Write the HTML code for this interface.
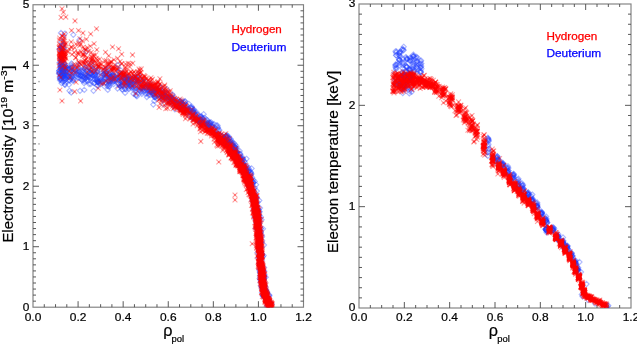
<!DOCTYPE html><html><head><meta charset="utf-8"><style>html,body{margin:0;padding:0;background:#fff;overflow:hidden}text{-webkit-font-smoothing:antialiased}svg{will-change:transform}svg{display:block}</style></head><body><svg width="637" height="344" viewBox="0 0 637 344">
<rect width="100%" height="100%" fill="#fff"/>
<clipPath id="cl"><rect x="33.0" y="4.75" width="270.5" height="302.45"/></clipPath>
<clipPath id="cr"><rect x="359.0" y="4.0" width="272.0" height="304.0"/></clipPath>
<defs><g id="mx"><path d="M-2.4 -2.4l4.8 4.8m0 -4.8l-4.8 4.8" fill="none" stroke="#ff0000" stroke-width="1.1" stroke-opacity="0.38"/><rect x="-0.8" y="-0.8" width="1.6" height="1.6" fill="#ff0000" fill-opacity="0.45"/></g><path id="md" d="M0 -2.6l2.6 2.6-2.6 2.6-2.6-2.6z" fill="none" stroke="#1e3cff" stroke-width="1.1" stroke-opacity="0.36"/></defs>
<rect x="33.0" y="4.75" width="270.50" height="302.45" fill="none" stroke="#808080" stroke-width="1.15"/>
<path d="M44.27 307.20v-3M44.27 4.75v3M55.54 307.20v-3M55.54 4.75v3M66.81 307.20v-3M66.81 4.75v3M78.08 307.20v-6M78.08 4.75v6M89.35 307.20v-3M89.35 4.75v3M100.62 307.20v-3M100.62 4.75v3M111.90 307.20v-3M111.90 4.75v3M123.17 307.20v-6M123.17 4.75v6M134.44 307.20v-3M134.44 4.75v3M145.71 307.20v-3M145.71 4.75v3M156.98 307.20v-3M156.98 4.75v3M168.25 307.20v-6M168.25 4.75v6M179.52 307.20v-3M179.52 4.75v3M190.79 307.20v-3M190.79 4.75v3M202.06 307.20v-3M202.06 4.75v3M213.33 307.20v-6M213.33 4.75v6M224.60 307.20v-3M224.60 4.75v3M235.88 307.20v-3M235.88 4.75v3M247.15 307.20v-3M247.15 4.75v3M258.42 307.20v-6M258.42 4.75v6M269.69 307.20v-3M269.69 4.75v3M280.96 307.20v-3M280.96 4.75v3M292.23 307.20v-3M292.23 4.75v3M33.00 301.15h3M303.50 301.15h-3M33.00 295.10h3M303.50 295.10h-3M33.00 289.05h3M303.50 289.05h-3M33.00 283.00h3M303.50 283.00h-3M33.00 276.95h3M303.50 276.95h-3M33.00 270.91h3M303.50 270.91h-3M33.00 264.86h3M303.50 264.86h-3M33.00 258.81h3M303.50 258.81h-3M33.00 252.76h3M303.50 252.76h-3M33.00 246.71h6M303.50 246.71h-6M33.00 240.66h3M303.50 240.66h-3M33.00 234.61h3M303.50 234.61h-3M33.00 228.56h3M303.50 228.56h-3M33.00 222.51h3M303.50 222.51h-3M33.00 216.46h3M303.50 216.46h-3M33.00 210.42h3M303.50 210.42h-3M33.00 204.37h3M303.50 204.37h-3M33.00 198.32h3M303.50 198.32h-3M33.00 192.27h3M303.50 192.27h-3M33.00 186.22h6M303.50 186.22h-6M33.00 180.17h3M303.50 180.17h-3M33.00 174.12h3M303.50 174.12h-3M33.00 168.07h3M303.50 168.07h-3M33.00 162.02h3M303.50 162.02h-3M33.00 155.97h3M303.50 155.97h-3M33.00 149.93h3M303.50 149.93h-3M33.00 143.88h3M303.50 143.88h-3M33.00 137.83h3M303.50 137.83h-3M33.00 131.78h3M303.50 131.78h-3M33.00 125.73h6M303.50 125.73h-6M33.00 119.68h3M303.50 119.68h-3M33.00 113.63h3M303.50 113.63h-3M33.00 107.58h3M303.50 107.58h-3M33.00 101.53h3M303.50 101.53h-3M33.00 95.48h3M303.50 95.48h-3M33.00 89.44h3M303.50 89.44h-3M33.00 83.39h3M303.50 83.39h-3M33.00 77.34h3M303.50 77.34h-3M33.00 71.29h3M303.50 71.29h-3M33.00 65.24h6M303.50 65.24h-6M33.00 59.19h3M303.50 59.19h-3M33.00 53.14h3M303.50 53.14h-3M33.00 47.09h3M303.50 47.09h-3M33.00 41.04h3M303.50 41.04h-3M33.00 35.00h3M303.50 35.00h-3M33.00 28.95h3M303.50 28.95h-3M33.00 22.90h3M303.50 22.90h-3M33.00 16.85h3M303.50 16.85h-3M33.00 10.80h3M303.50 10.80h-3" stroke="#505050" stroke-width="0.95" fill="none"/>
<rect x="359.0" y="4.0" width="272.00" height="304.00" fill="none" stroke="#808080" stroke-width="1.15"/>
<path d="M370.33 308.00v-3M370.33 4.00v3M381.67 308.00v-3M381.67 4.00v3M393.00 308.00v-3M393.00 4.00v3M404.33 308.00v-6M404.33 4.00v6M415.67 308.00v-3M415.67 4.00v3M427.00 308.00v-3M427.00 4.00v3M438.33 308.00v-3M438.33 4.00v3M449.67 308.00v-6M449.67 4.00v6M461.00 308.00v-3M461.00 4.00v3M472.33 308.00v-3M472.33 4.00v3M483.67 308.00v-3M483.67 4.00v3M495.00 308.00v-6M495.00 4.00v6M506.33 308.00v-3M506.33 4.00v3M517.67 308.00v-3M517.67 4.00v3M529.00 308.00v-3M529.00 4.00v3M540.33 308.00v-6M540.33 4.00v6M551.67 308.00v-3M551.67 4.00v3M563.00 308.00v-3M563.00 4.00v3M574.33 308.00v-3M574.33 4.00v3M585.67 308.00v-6M585.67 4.00v6M597.00 308.00v-3M597.00 4.00v3M608.33 308.00v-3M608.33 4.00v3M619.67 308.00v-3M619.67 4.00v3M359.00 297.87h3M631.00 297.87h-3M359.00 287.73h3M631.00 287.73h-3M359.00 277.60h3M631.00 277.60h-3M359.00 267.47h3M631.00 267.47h-3M359.00 257.33h3M631.00 257.33h-3M359.00 247.20h3M631.00 247.20h-3M359.00 237.07h3M631.00 237.07h-3M359.00 226.93h3M631.00 226.93h-3M359.00 216.80h3M631.00 216.80h-3M359.00 206.67h6M631.00 206.67h-6M359.00 196.53h3M631.00 196.53h-3M359.00 186.40h3M631.00 186.40h-3M359.00 176.27h3M631.00 176.27h-3M359.00 166.13h3M631.00 166.13h-3M359.00 156.00h3M631.00 156.00h-3M359.00 145.87h3M631.00 145.87h-3M359.00 135.73h3M631.00 135.73h-3M359.00 125.60h3M631.00 125.60h-3M359.00 115.47h3M631.00 115.47h-3M359.00 105.33h6M631.00 105.33h-6M359.00 95.20h3M631.00 95.20h-3M359.00 85.07h3M631.00 85.07h-3M359.00 74.93h3M631.00 74.93h-3M359.00 64.80h3M631.00 64.80h-3M359.00 54.67h3M631.00 54.67h-3M359.00 44.53h3M631.00 44.53h-3M359.00 34.40h3M631.00 34.40h-3M359.00 24.27h3M631.00 24.27h-3M359.00 14.13h3M631.00 14.13h-3" stroke="#505050" stroke-width="0.95" fill="none"/>
<g clip-path="url(#cl)"><g><use href="#md" x="264.5" y="282.6"/><use href="#md" x="255.8" y="211.3"/><use href="#md" x="265.6" y="289.9"/><use href="#md" x="262.1" y="254.3"/><use href="#md" x="263.1" y="271.3"/><use href="#md" x="264.1" y="294.6"/><use href="#md" x="248.1" y="176.6"/><use href="#md" x="261.7" y="287.1"/><use href="#md" x="255.7" y="228.3"/><use href="#md" x="261.7" y="254.2"/><use href="#md" x="249.0" y="185.2"/><use href="#md" x="264.2" y="276.5"/><use href="#md" x="261.9" y="269.8"/><use href="#md" x="265.0" y="288.8"/><use href="#md" x="254.0" y="191.1"/><use href="#md" x="261.1" y="263.1"/><use href="#md" x="263.9" y="295.9"/><use href="#md" x="260.0" y="258.1"/><use href="#md" x="262.1" y="236.8"/><use href="#md" x="249.8" y="180.4"/><use href="#md" x="262.3" y="288.5"/><use href="#md" x="247.9" y="176.0"/><use href="#md" x="249.6" y="177.7"/><use href="#md" x="259.5" y="221.2"/><use href="#md" x="259.6" y="219.3"/><use href="#md" x="259.6" y="247.6"/><use href="#md" x="263.0" y="295.5"/><use href="#md" x="255.9" y="210.0"/><use href="#md" x="267.4" y="303.3"/><use href="#md" x="260.9" y="232.1"/><use href="#md" x="266.2" y="290.2"/><use href="#md" x="254.1" y="210.8"/><use href="#md" x="250.3" y="178.4"/><use href="#md" x="269.5" y="295.2"/><use href="#md" x="264.5" y="296.1"/><use href="#md" x="271.8" y="304.0"/><use href="#md" x="255.7" y="198.7"/><use href="#md" x="258.6" y="234.1"/><use href="#md" x="259.2" y="255.7"/><use href="#md" x="259.5" y="233.4"/><use href="#md" x="264.1" y="267.4"/><use href="#md" x="260.5" y="282.5"/><use href="#md" x="256.1" y="196.0"/><use href="#md" x="261.1" y="242.3"/><use href="#md" x="264.8" y="285.3"/><use href="#md" x="268.0" y="297.4"/><use href="#md" x="269.2" y="303.6"/><use href="#md" x="255.5" y="202.0"/><use href="#md" x="256.5" y="196.7"/><use href="#md" x="259.3" y="263.5"/><use href="#md" x="256.7" y="213.9"/><use href="#md" x="257.9" y="234.8"/><use href="#md" x="254.8" y="192.7"/><use href="#md" x="263.0" y="228.8"/><use href="#md" x="256.8" y="191.1"/><use href="#md" x="270.2" y="302.8"/><use href="#md" x="262.8" y="295.9"/><use href="#md" x="247.8" y="177.9"/><use href="#md" x="260.6" y="274.3"/><use href="#md" x="259.8" y="237.5"/><use href="#md" x="250.9" y="183.3"/><use href="#md" x="252.3" y="189.7"/><use href="#md" x="259.0" y="240.2"/><use href="#md" x="260.0" y="208.0"/><use href="#md" x="267.0" y="294.2"/><use href="#md" x="260.4" y="252.3"/><use href="#md" x="259.2" y="218.1"/><use href="#md" x="259.1" y="242.2"/><use href="#md" x="263.7" y="284.5"/><use href="#md" x="259.8" y="211.7"/><use href="#md" x="252.2" y="177.5"/><use href="#md" x="270.3" y="302.4"/><use href="#md" x="260.3" y="252.4"/><use href="#md" x="259.1" y="237.1"/><use href="#md" x="262.4" y="279.1"/><use href="#md" x="264.0" y="245.0"/><use href="#md" x="265.4" y="291.0"/><use href="#md" x="256.1" y="203.0"/><use href="#md" x="257.6" y="202.0"/><use href="#md" x="263.9" y="296.7"/><use href="#md" x="261.6" y="277.9"/><use href="#md" x="259.6" y="278.4"/><use href="#md" x="258.6" y="212.1"/><use href="#md" x="260.0" y="251.1"/><use href="#md" x="268.3" y="299.8"/><use href="#md" x="248.7" y="180.3"/><use href="#md" x="261.6" y="219.8"/><use href="#md" x="264.4" y="274.6"/><use href="#md" x="260.9" y="286.0"/><use href="#md" x="264.4" y="271.2"/><use href="#md" x="258.5" y="244.3"/><use href="#md" x="260.3" y="266.5"/><use href="#md" x="260.0" y="240.5"/><use href="#md" x="246.7" y="176.7"/><use href="#md" x="263.1" y="279.7"/><use href="#md" x="256.8" y="223.9"/><use href="#md" x="260.0" y="233.4"/><use href="#md" x="255.9" y="206.2"/><use href="#md" x="259.6" y="223.8"/><use href="#md" x="264.1" y="277.8"/><use href="#md" x="256.7" y="206.2"/><use href="#md" x="262.1" y="289.5"/><use href="#md" x="264.6" y="296.1"/><use href="#md" x="255.4" y="219.5"/><use href="#md" x="265.5" y="289.8"/><use href="#md" x="260.2" y="272.5"/><use href="#md" x="263.8" y="278.1"/><use href="#md" x="261.3" y="255.1"/><use href="#md" x="258.5" y="231.3"/><use href="#md" x="261.3" y="265.7"/><use href="#md" x="260.7" y="263.3"/><use href="#md" x="253.1" y="182.6"/><use href="#md" x="266.9" y="306.1"/><use href="#md" x="259.9" y="236.2"/><use href="#md" x="252.1" y="200.9"/><use href="#md" x="251.6" y="186.9"/><use href="#md" x="266.5" y="296.2"/><use href="#md" x="261.6" y="272.7"/><use href="#md" x="268.7" y="300.7"/><use href="#md" x="247.4" y="177.9"/><use href="#md" x="263.3" y="295.7"/><use href="#md" x="259.2" y="238.7"/><use href="#md" x="260.5" y="262.1"/><use href="#md" x="264.5" y="290.0"/><use href="#md" x="261.9" y="260.1"/><use href="#md" x="260.7" y="228.6"/><use href="#md" x="256.5" y="228.5"/><use href="#md" x="254.8" y="181.5"/><use href="#md" x="253.7" y="188.6"/><use href="#md" x="263.9" y="276.4"/><use href="#md" x="258.5" y="229.2"/><use href="#md" x="262.7" y="270.7"/><use href="#md" x="268.9" y="294.9"/><use href="#md" x="247.3" y="176.3"/><use href="#md" x="259.8" y="230.0"/><use href="#md" x="261.9" y="282.0"/><use href="#md" x="259.5" y="270.8"/><use href="#md" x="261.8" y="235.0"/><use href="#md" x="261.6" y="281.2"/><use href="#md" x="260.1" y="279.5"/><use href="#md" x="246.8" y="175.6"/><use href="#md" x="255.3" y="199.0"/><use href="#md" x="250.6" y="182.3"/><use href="#md" x="260.2" y="259.0"/><use href="#md" x="259.7" y="249.0"/><use href="#md" x="253.2" y="179.8"/><use href="#md" x="257.4" y="252.8"/><use href="#md" x="255.4" y="202.9"/><use href="#md" x="261.0" y="246.4"/><use href="#md" x="252.9" y="181.8"/><use href="#md" x="255.5" y="200.9"/><use href="#md" x="263.3" y="287.6"/><use href="#md" x="258.1" y="258.1"/><use href="#md" x="260.8" y="269.2"/><use href="#md" x="261.3" y="255.7"/><use href="#md" x="259.3" y="200.6"/><use href="#md" x="264.5" y="286.2"/><use href="#md" x="261.9" y="292.8"/><use href="#md" x="257.2" y="209.1"/><use href="#md" x="258.5" y="209.3"/><use href="#md" x="258.5" y="224.6"/><use href="#md" x="261.7" y="255.5"/><use href="#md" x="260.2" y="247.0"/><use href="#md" x="259.2" y="269.0"/><use href="#md" x="263.9" y="280.2"/><use href="#md" x="249.2" y="187.6"/><use href="#md" x="263.5" y="279.3"/><use href="#md" x="259.4" y="252.6"/><use href="#md" x="259.9" y="239.5"/><use href="#md" x="266.8" y="292.2"/><use href="#md" x="254.8" y="187.7"/><use href="#md" x="265.8" y="277.2"/><use href="#md" x="259.8" y="264.7"/><use href="#md" x="269.0" y="296.3"/><use href="#md" x="254.4" y="198.8"/><use href="#md" x="257.3" y="214.6"/><use href="#md" x="254.3" y="217.0"/><use href="#md" x="259.2" y="249.4"/><use href="#md" x="263.1" y="277.7"/><use href="#md" x="261.1" y="280.3"/><use href="#md" x="263.0" y="282.0"/><use href="#md" x="257.4" y="224.7"/><use href="#md" x="258.0" y="235.9"/><use href="#md" x="267.2" y="292.1"/><use href="#md" x="257.8" y="209.1"/><use href="#md" x="259.1" y="216.1"/><use href="#md" x="265.6" y="287.2"/><use href="#md" x="264.9" y="290.9"/><use href="#md" x="255.1" y="197.6"/><use href="#md" x="248.3" y="180.3"/><use href="#md" x="256.2" y="222.7"/><use href="#md" x="253.5" y="209.1"/><use href="#md" x="260.9" y="216.9"/><use href="#md" x="248.7" y="183.3"/><use href="#md" x="260.2" y="242.0"/><use href="#md" x="260.7" y="251.7"/><use href="#md" x="261.9" y="286.9"/><use href="#md" x="256.1" y="184.7"/><use href="#md" x="265.1" y="293.6"/><use href="#md" x="267.7" y="300.9"/><use href="#md" x="259.9" y="275.9"/><use href="#md" x="252.0" y="186.8"/><use href="#md" x="259.3" y="254.7"/><use href="#md" x="250.1" y="177.7"/><use href="#md" x="256.9" y="197.9"/><use href="#md" x="261.1" y="252.0"/><use href="#md" x="253.0" y="199.5"/><use href="#md" x="260.5" y="256.7"/><use href="#md" x="258.6" y="243.5"/><use href="#md" x="259.5" y="257.7"/><use href="#md" x="248.0" y="185.3"/><use href="#md" x="262.9" y="256.7"/><use href="#md" x="262.5" y="285.9"/><use href="#md" x="258.7" y="247.5"/><use href="#md" x="252.5" y="197.3"/><use href="#md" x="260.8" y="232.5"/><use href="#md" x="255.7" y="203.1"/><use href="#md" x="259.9" y="272.4"/><use href="#md" x="265.0" y="297.6"/><use href="#md" x="264.5" y="286.5"/><use href="#md" x="269.4" y="303.0"/><use href="#md" x="264.2" y="275.2"/><use href="#md" x="259.1" y="223.3"/><use href="#md" x="256.3" y="206.1"/><use href="#md" x="254.1" y="197.0"/><use href="#md" x="264.1" y="283.7"/><use href="#md" x="260.9" y="228.6"/><use href="#md" x="258.9" y="250.5"/><use href="#md" x="254.5" y="199.0"/><use href="#md" x="261.7" y="262.8"/><use href="#md" x="254.5" y="204.5"/><use href="#md" x="255.6" y="204.4"/><use href="#md" x="252.7" y="183.9"/><use href="#md" x="258.5" y="210.0"/><use href="#md" x="263.3" y="280.3"/><use href="#md" x="259.3" y="215.0"/><use href="#md" x="261.4" y="275.3"/><use href="#md" x="251.3" y="180.8"/><use href="#md" x="262.2" y="240.8"/><use href="#md" x="259.6" y="233.7"/><use href="#md" x="249.7" y="175.9"/><use href="#md" x="252.3" y="182.8"/><use href="#md" x="263.8" y="278.4"/><use href="#md" x="268.4" y="306.7"/><use href="#md" x="268.9" y="305.8"/><use href="#md" x="265.6" y="294.9"/><use href="#md" x="248.2" y="177.1"/><use href="#md" x="258.9" y="212.1"/><use href="#md" x="256.3" y="213.2"/><use href="#md" x="248.3" y="178.8"/><use href="#md" x="250.8" y="179.1"/><use href="#md" x="257.3" y="214.4"/><use href="#md" x="262.2" y="273.8"/><use href="#md" x="255.1" y="206.5"/><use href="#md" x="263.5" y="276.5"/><use href="#md" x="267.7" y="305.1"/><use href="#md" x="263.2" y="270.3"/><use href="#md" x="263.7" y="255.4"/><use href="#md" x="252.8" y="197.5"/><use href="#md" x="251.7" y="195.6"/><use href="#md" x="262.8" y="272.9"/><use href="#md" x="258.8" y="249.1"/><use href="#md" x="253.4" y="182.4"/><use href="#md" x="260.0" y="263.0"/><use href="#md" x="264.8" y="291.3"/><use href="#md" x="249.8" y="186.9"/><use href="#md" x="109.3" y="84.5"/><use href="#md" x="212.4" y="126.1"/><use href="#md" x="194.1" y="112.3"/><use href="#md" x="71.8" y="70.6"/><use href="#md" x="125.6" y="89.1"/><use href="#md" x="143.0" y="83.3"/><use href="#md" x="246.1" y="172.9"/><use href="#md" x="197.7" y="114.4"/><use href="#md" x="200.5" y="118.8"/><use href="#md" x="244.0" y="166.9"/><use href="#md" x="158.0" y="89.7"/><use href="#md" x="77.9" y="77.6"/><use href="#md" x="130.4" y="86.8"/><use href="#md" x="63.1" y="75.1"/><use href="#md" x="97.6" y="70.7"/><use href="#md" x="212.4" y="127.3"/><use href="#md" x="110.5" y="79.2"/><use href="#md" x="63.4" y="68.0"/><use href="#md" x="65.5" y="79.4"/><use href="#md" x="111.6" y="77.1"/><use href="#md" x="141.5" y="88.1"/><use href="#md" x="210.2" y="128.1"/><use href="#md" x="136.2" y="80.6"/><use href="#md" x="79.4" y="40.0"/><use href="#md" x="177.5" y="105.8"/><use href="#md" x="88.9" y="77.0"/><use href="#md" x="217.9" y="128.2"/><use href="#md" x="80.9" y="75.3"/><use href="#md" x="186.6" y="105.3"/><use href="#md" x="63.3" y="37.4"/><use href="#md" x="84.9" y="81.7"/><use href="#md" x="65.0" y="73.4"/><use href="#md" x="59.1" y="71.3"/><use href="#md" x="153.4" y="91.1"/><use href="#md" x="249.6" y="170.6"/><use href="#md" x="126.9" y="79.3"/><use href="#md" x="65.4" y="71.5"/><use href="#md" x="103.4" y="74.1"/><use href="#md" x="128.2" y="88.8"/><use href="#md" x="65.4" y="75.8"/><use href="#md" x="231.7" y="144.2"/><use href="#md" x="174.9" y="109.3"/><use href="#md" x="101.3" y="75.4"/><use href="#md" x="130.6" y="84.5"/><use href="#md" x="203.7" y="114.2"/><use href="#md" x="94.2" y="79.0"/><use href="#md" x="241.7" y="162.0"/><use href="#md" x="111.8" y="75.9"/><use href="#md" x="201.9" y="121.8"/><use href="#md" x="78.0" y="68.2"/><use href="#md" x="170.2" y="99.1"/><use href="#md" x="243.1" y="164.3"/><use href="#md" x="123.1" y="73.1"/><use href="#md" x="134.7" y="79.2"/><use href="#md" x="146.0" y="81.3"/><use href="#md" x="157.3" y="96.1"/><use href="#md" x="67.8" y="76.0"/><use href="#md" x="226.1" y="136.0"/><use href="#md" x="60.0" y="78.2"/><use href="#md" x="224.5" y="141.4"/><use href="#md" x="74.6" y="72.6"/><use href="#md" x="242.5" y="163.3"/><use href="#md" x="126.0" y="76.4"/><use href="#md" x="63.4" y="70.6"/><use href="#md" x="89.1" y="84.0"/><use href="#md" x="139.2" y="87.9"/><use href="#md" x="232.5" y="145.5"/><use href="#md" x="105.3" y="77.6"/><use href="#md" x="246.0" y="173.3"/><use href="#md" x="61.2" y="69.5"/><use href="#md" x="230.9" y="150.0"/><use href="#md" x="203.2" y="118.7"/><use href="#md" x="196.6" y="118.4"/><use href="#md" x="84.1" y="79.8"/><use href="#md" x="120.1" y="77.9"/><use href="#md" x="64.1" y="68.3"/><use href="#md" x="141.1" y="87.8"/><use href="#md" x="218.9" y="136.8"/><use href="#md" x="137.7" y="73.9"/><use href="#md" x="188.7" y="103.8"/><use href="#md" x="62.0" y="74.2"/><use href="#md" x="142.6" y="85.5"/><use href="#md" x="193.4" y="111.0"/><use href="#md" x="195.0" y="119.2"/><use href="#md" x="170.7" y="101.7"/><use href="#md" x="105.1" y="78.7"/><use href="#md" x="83.9" y="68.4"/><use href="#md" x="209.6" y="125.0"/><use href="#md" x="222.3" y="135.7"/><use href="#md" x="60.8" y="68.3"/><use href="#md" x="60.6" y="69.0"/><use href="#md" x="73.5" y="80.4"/><use href="#md" x="212.0" y="126.5"/><use href="#md" x="166.9" y="93.4"/><use href="#md" x="108.7" y="80.6"/><use href="#md" x="87.8" y="75.5"/><use href="#md" x="136.5" y="95.4"/><use href="#md" x="71.5" y="63.4"/><use href="#md" x="175.6" y="102.6"/><use href="#md" x="121.9" y="84.9"/><use href="#md" x="71.5" y="76.7"/><use href="#md" x="194.7" y="113.9"/><use href="#md" x="128.0" y="87.0"/><use href="#md" x="63.9" y="74.6"/><use href="#md" x="85.5" y="70.2"/><use href="#md" x="103.4" y="74.3"/><use href="#md" x="191.4" y="116.8"/><use href="#md" x="64.1" y="73.5"/><use href="#md" x="151.2" y="83.9"/><use href="#md" x="227.0" y="136.6"/><use href="#md" x="62.1" y="65.7"/><use href="#md" x="97.9" y="82.1"/><use href="#md" x="66.5" y="73.6"/><use href="#md" x="231.0" y="142.0"/><use href="#md" x="66.1" y="76.0"/><use href="#md" x="206.8" y="121.9"/><use href="#md" x="64.1" y="63.5"/><use href="#md" x="110.5" y="77.2"/><use href="#md" x="172.4" y="104.9"/><use href="#md" x="137.9" y="80.3"/><use href="#md" x="91.5" y="64.8"/><use href="#md" x="243.8" y="167.1"/><use href="#md" x="66.2" y="67.2"/><use href="#md" x="87.0" y="70.4"/><use href="#md" x="62.0" y="67.4"/><use href="#md" x="199.8" y="122.9"/><use href="#md" x="225.9" y="141.1"/><use href="#md" x="139.5" y="78.7"/><use href="#md" x="150.4" y="88.1"/><use href="#md" x="122.2" y="89.6"/><use href="#md" x="207.6" y="120.3"/><use href="#md" x="106.6" y="69.0"/><use href="#md" x="105.2" y="78.2"/><use href="#md" x="120.5" y="69.9"/><use href="#md" x="150.0" y="95.0"/><use href="#md" x="69.7" y="77.1"/><use href="#md" x="161.4" y="93.2"/><use href="#md" x="157.2" y="98.4"/><use href="#md" x="174.8" y="103.8"/><use href="#md" x="84.9" y="74.5"/><use href="#md" x="184.4" y="103.5"/><use href="#md" x="187.6" y="108.4"/><use href="#md" x="206.1" y="119.3"/><use href="#md" x="78.9" y="77.9"/><use href="#md" x="163.7" y="104.4"/><use href="#md" x="192.4" y="111.2"/><use href="#md" x="86.4" y="75.8"/><use href="#md" x="243.5" y="166.3"/><use href="#md" x="248.2" y="171.3"/><use href="#md" x="189.2" y="111.8"/><use href="#md" x="151.6" y="91.7"/><use href="#md" x="120.3" y="75.8"/><use href="#md" x="90.7" y="84.0"/><use href="#md" x="68.4" y="68.9"/><use href="#md" x="62.2" y="70.8"/><use href="#md" x="84.8" y="68.9"/><use href="#md" x="105.6" y="82.6"/><use href="#md" x="154.3" y="94.9"/><use href="#md" x="241.4" y="160.2"/><use href="#md" x="163.3" y="97.5"/><use href="#md" x="140.2" y="87.3"/><use href="#md" x="110.4" y="81.0"/><use href="#md" x="219.3" y="130.0"/><use href="#md" x="112.5" y="81.1"/><use href="#md" x="217.6" y="125.5"/><use href="#md" x="139.2" y="75.7"/><use href="#md" x="94.6" y="75.2"/><use href="#md" x="87.9" y="71.8"/><use href="#md" x="120.0" y="86.0"/><use href="#md" x="60.7" y="62.4"/><use href="#md" x="173.5" y="101.7"/><use href="#md" x="210.0" y="122.4"/><use href="#md" x="226.8" y="137.0"/><use href="#md" x="63.1" y="76.3"/><use href="#md" x="240.1" y="153.6"/><use href="#md" x="64.7" y="84.6"/><use href="#md" x="89.4" y="73.5"/><use href="#md" x="251.3" y="174.2"/><use href="#md" x="63.2" y="72.3"/><use href="#md" x="244.5" y="169.7"/><use href="#md" x="157.0" y="95.9"/><use href="#md" x="250.6" y="172.1"/><use href="#md" x="152.5" y="93.0"/><use href="#md" x="135.1" y="85.5"/><use href="#md" x="94.3" y="75.9"/><use href="#md" x="130.5" y="79.4"/><use href="#md" x="72.7" y="73.5"/><use href="#md" x="178.5" y="107.1"/><use href="#md" x="97.3" y="78.8"/><use href="#md" x="149.8" y="85.8"/><use href="#md" x="126.7" y="86.5"/><use href="#md" x="201.1" y="116.0"/><use href="#md" x="171.1" y="97.0"/><use href="#md" x="65.1" y="74.4"/><use href="#md" x="232.0" y="149.5"/><use href="#md" x="66.1" y="70.1"/><use href="#md" x="122.5" y="86.0"/><use href="#md" x="62.7" y="70.3"/><use href="#md" x="102.4" y="82.0"/><use href="#md" x="104.1" y="79.4"/><use href="#md" x="66.5" y="77.2"/><use href="#md" x="242.6" y="165.2"/><use href="#md" x="150.3" y="91.5"/><use href="#md" x="104.2" y="69.6"/><use href="#md" x="185.7" y="107.2"/><use href="#md" x="196.3" y="115.6"/><use href="#md" x="146.4" y="88.1"/><use href="#md" x="147.8" y="90.3"/><use href="#md" x="214.0" y="124.0"/><use href="#md" x="111.9" y="75.5"/><use href="#md" x="199.5" y="120.2"/><use href="#md" x="63.4" y="73.3"/><use href="#md" x="110.6" y="76.5"/><use href="#md" x="71.1" y="78.9"/><use href="#md" x="63.2" y="70.8"/><use href="#md" x="221.7" y="137.0"/><use href="#md" x="106.4" y="71.7"/><use href="#md" x="242.8" y="159.0"/><use href="#md" x="103.2" y="81.0"/><use href="#md" x="131.5" y="87.8"/><use href="#md" x="174.3" y="105.8"/><use href="#md" x="230.8" y="141.6"/><use href="#md" x="72.0" y="67.6"/><use href="#md" x="140.9" y="91.5"/><use href="#md" x="64.5" y="67.7"/><use href="#md" x="140.9" y="92.1"/><use href="#md" x="68.0" y="68.9"/><use href="#mx" x="180.5" y="107.2"/><use href="#mx" x="220.2" y="142.9"/><use href="#md" x="78.0" y="75.4"/><use href="#mx" x="195.9" y="121.9"/><use href="#mx" x="269.6" y="304.6"/><use href="#mx" x="250.4" y="191.2"/><use href="#mx" x="268.5" y="300.9"/><use href="#mx" x="259.2" y="219.1"/><use href="#mx" x="165.9" y="94.0"/><use href="#mx" x="194.9" y="118.5"/><use href="#mx" x="149.3" y="85.4"/><use href="#mx" x="234.8" y="153.2"/><use href="#mx" x="200.3" y="128.2"/><use href="#mx" x="254.0" y="200.2"/><use href="#mx" x="60.0" y="53.4"/><use href="#mx" x="213.4" y="131.4"/><use href="#md" x="108.3" y="81.2"/><use href="#mx" x="244.9" y="179.1"/><use href="#mx" x="254.0" y="210.9"/><use href="#mx" x="193.6" y="115.3"/><use href="#mx" x="256.4" y="209.6"/><use href="#md" x="91.1" y="73.3"/><use href="#mx" x="232.4" y="146.7"/><use href="#md" x="214.9" y="127.4"/><use href="#mx" x="141.5" y="86.2"/><use href="#mx" x="256.6" y="195.8"/><use href="#md" x="162.4" y="90.8"/><use href="#mx" x="259.1" y="209.7"/><use href="#mx" x="154.4" y="85.2"/><use href="#mx" x="250.5" y="175.9"/><use href="#mx" x="251.3" y="193.4"/><use href="#mx" x="269.8" y="300.5"/><use href="#mx" x="153.3" y="90.8"/><use href="#md" x="184.6" y="108.8"/><use href="#mx" x="250.7" y="188.0"/><use href="#md" x="81.0" y="78.9"/><use href="#mx" x="218.5" y="141.2"/><use href="#mx" x="163.1" y="86.8"/><use href="#md" x="246.5" y="158.8"/><use href="#mx" x="77.8" y="53.4"/><use href="#mx" x="62.0" y="49.8"/><use href="#mx" x="259.5" y="238.6"/><use href="#mx" x="177.1" y="101.4"/><use href="#md" x="91.5" y="69.9"/><use href="#mx" x="175.3" y="106.2"/><use href="#mx" x="243.0" y="175.5"/><use href="#mx" x="246.7" y="176.2"/><use href="#mx" x="244.2" y="169.4"/><use href="#mx" x="229.1" y="146.7"/><use href="#md" x="250.9" y="172.4"/><use href="#mx" x="137.3" y="81.2"/><use href="#mx" x="137.8" y="82.3"/><use href="#mx" x="235.3" y="154.3"/><use href="#mx" x="263.6" y="290.4"/><use href="#md" x="75.7" y="73.2"/><use href="#mx" x="258.0" y="219.1"/><use href="#mx" x="234.4" y="152.9"/><use href="#mx" x="256.9" y="221.8"/><use href="#mx" x="258.9" y="244.4"/><use href="#mx" x="264.6" y="291.5"/><use href="#mx" x="169.7" y="99.1"/><use href="#mx" x="267.1" y="299.9"/><use href="#md" x="231.3" y="144.4"/><use href="#mx" x="253.6" y="216.9"/><use href="#md" x="233.3" y="146.9"/><use href="#mx" x="262.1" y="277.1"/><use href="#mx" x="259.3" y="265.9"/><use href="#mx" x="261.4" y="263.0"/><use href="#mx" x="243.8" y="170.7"/><use href="#mx" x="261.5" y="276.5"/><use href="#md" x="98.1" y="81.2"/><use href="#md" x="202.1" y="118.6"/><use href="#mx" x="248.6" y="174.6"/><use href="#mx" x="259.4" y="255.8"/><use href="#mx" x="241.9" y="161.6"/><use href="#mx" x="71.4" y="46.8"/><use href="#mx" x="230.6" y="148.2"/><use href="#md" x="62.4" y="65.7"/><use href="#mx" x="193.4" y="119.2"/><use href="#md" x="156.6" y="94.3"/><use href="#mx" x="246.7" y="174.9"/><use href="#mx" x="84.2" y="49.1"/><use href="#mx" x="63.5" y="58.6"/><use href="#mx" x="264.8" y="287.1"/><use href="#mx" x="259.5" y="240.9"/><use href="#md" x="139.5" y="90.6"/><use href="#mx" x="254.7" y="202.1"/><use href="#mx" x="258.2" y="213.4"/><use href="#mx" x="259.8" y="245.9"/><use href="#mx" x="96.5" y="28.7"/><use href="#mx" x="59.9" y="62.2"/><use href="#mx" x="265.7" y="296.6"/><use href="#mx" x="263.6" y="296.6"/><use href="#mx" x="259.6" y="245.8"/><use href="#mx" x="267.5" y="299.6"/><use href="#md" x="213.2" y="128.8"/><use href="#mx" x="258.5" y="219.9"/><use href="#mx" x="149.3" y="91.8"/><use href="#mx" x="258.3" y="249.4"/><use href="#mx" x="257.7" y="227.9"/><use href="#md" x="197.8" y="117.4"/><use href="#mx" x="261.3" y="256.7"/><use href="#mx" x="257.9" y="224.8"/><use href="#mx" x="263.7" y="294.3"/><use href="#mx" x="63.7" y="56.1"/><use href="#mx" x="230.1" y="151.8"/><use href="#mx" x="205.2" y="123.9"/><use href="#mx" x="255.9" y="220.1"/><use href="#mx" x="228.0" y="149.5"/><use href="#mx" x="260.3" y="263.7"/><use href="#md" x="242.7" y="157.5"/><use href="#mx" x="269.0" y="299.6"/><use href="#mx" x="178.8" y="103.8"/><use href="#md" x="132.8" y="87.0"/><use href="#mx" x="258.0" y="223.1"/><use href="#mx" x="250.4" y="192.3"/><use href="#mx" x="250.2" y="194.2"/><use href="#mx" x="63.6" y="39.3"/><use href="#mx" x="262.2" y="267.5"/><use href="#mx" x="67.4" y="51.7"/><use href="#md" x="162.6" y="97.0"/><use href="#md" x="135.0" y="81.4"/><use href="#mx" x="258.1" y="234.0"/><use href="#mx" x="152.9" y="92.6"/><use href="#mx" x="225.7" y="144.8"/><use href="#mx" x="258.5" y="244.6"/><use href="#md" x="246.6" y="171.3"/><use href="#mx" x="268.1" y="298.5"/><use href="#md" x="190.9" y="110.7"/><use href="#mx" x="94.1" y="67.1"/><use href="#mx" x="260.6" y="250.2"/><use href="#md" x="211.1" y="122.3"/><use href="#mx" x="261.3" y="268.5"/><use href="#mx" x="256.4" y="226.5"/><use href="#md" x="153.6" y="93.3"/><use href="#mx" x="262.1" y="245.0"/><use href="#mx" x="88.4" y="64.1"/><use href="#mx" x="259.5" y="252.5"/><use href="#md" x="117.1" y="78.3"/><use href="#mx" x="212.3" y="129.3"/><use href="#mx" x="164.7" y="85.0"/><use href="#mx" x="63.0" y="58.4"/><use href="#md" x="199.8" y="116.6"/><use href="#md" x="127.7" y="81.9"/><use href="#md" x="110.3" y="81.7"/><use href="#mx" x="243.9" y="166.1"/><use href="#mx" x="258.0" y="215.2"/><use href="#mx" x="248.6" y="188.9"/><use href="#mx" x="244.7" y="172.0"/><use href="#mx" x="66.1" y="58.3"/><use href="#mx" x="268.1" y="298.5"/><use href="#mx" x="237.1" y="164.9"/><use href="#mx" x="242.8" y="169.9"/><use href="#md" x="107.8" y="89.9"/><use href="#md" x="192.9" y="111.1"/><use href="#mx" x="195.8" y="115.9"/><use href="#mx" x="82.5" y="40.9"/><use href="#mx" x="244.7" y="172.6"/><use href="#mx" x="263.7" y="283.6"/><use href="#mx" x="254.0" y="203.3"/><use href="#mx" x="257.1" y="240.0"/><use href="#mx" x="150.4" y="84.7"/><use href="#mx" x="243.7" y="178.8"/><use href="#mx" x="262.0" y="266.9"/><use href="#mx" x="249.0" y="182.1"/><use href="#md" x="121.2" y="81.3"/><use href="#md" x="237.5" y="156.0"/><use href="#mx" x="261.5" y="292.5"/><use href="#mx" x="123.6" y="74.4"/><use href="#mx" x="221.1" y="142.0"/><use href="#md" x="209.3" y="122.6"/><use href="#md" x="194.0" y="113.2"/><use href="#md" x="180.8" y="100.7"/><use href="#mx" x="254.2" y="203.5"/><use href="#mx" x="234.6" y="149.4"/><use href="#mx" x="232.9" y="147.1"/><use href="#mx" x="258.6" y="221.6"/><use href="#md" x="191.1" y="107.4"/><use href="#mx" x="224.1" y="135.4"/><use href="#md" x="185.3" y="110.4"/><use href="#mx" x="261.3" y="279.5"/><use href="#mx" x="258.8" y="258.8"/><use href="#mx" x="259.8" y="265.8"/><use href="#mx" x="254.8" y="193.9"/><use href="#mx" x="167.9" y="96.9"/><use href="#mx" x="218.4" y="133.8"/><use href="#mx" x="91.4" y="56.2"/><use href="#mx" x="212.4" y="133.0"/><use href="#mx" x="267.0" y="301.3"/><use href="#mx" x="60.3" y="48.4"/><use href="#mx" x="206.9" y="130.2"/><use href="#mx" x="255.3" y="216.2"/><use href="#md" x="236.2" y="150.7"/><use href="#mx" x="218.9" y="140.5"/><use href="#mx" x="257.7" y="229.2"/><use href="#mx" x="216.8" y="145.0"/><use href="#md" x="80.8" y="75.7"/><use href="#mx" x="249.1" y="182.1"/><use href="#mx" x="244.6" y="170.3"/><use href="#mx" x="243.9" y="170.7"/><use href="#mx" x="271.3" y="305.2"/><use href="#mx" x="257.4" y="216.6"/><use href="#mx" x="217.1" y="140.1"/><use href="#mx" x="263.5" y="279.3"/><use href="#mx" x="261.9" y="282.0"/><use href="#mx" x="235.0" y="153.7"/><use href="#mx" x="185.4" y="115.1"/><use href="#md" x="127.5" y="84.4"/><use href="#mx" x="258.4" y="244.8"/><use href="#mx" x="133.5" y="84.6"/><use href="#mx" x="260.9" y="252.9"/><use href="#mx" x="232.6" y="154.2"/><use href="#mx" x="241.5" y="168.1"/><use href="#mx" x="245.0" y="169.3"/><use href="#mx" x="62.8" y="55.7"/><use href="#md" x="109.5" y="74.5"/><use href="#mx" x="259.4" y="219.4"/><use href="#mx" x="164.4" y="93.6"/><use href="#mx" x="253.6" y="201.6"/><use href="#mx" x="242.9" y="169.1"/><use href="#mx" x="262.5" y="256.8"/><use href="#md" x="167.5" y="100.5"/><use href="#mx" x="142.5" y="77.8"/><use href="#md" x="109.2" y="77.1"/><use href="#mx" x="242.3" y="169.6"/><use href="#md" x="191.9" y="108.2"/><use href="#mx" x="239.0" y="164.5"/><use href="#mx" x="242.9" y="175.8"/><use href="#mx" x="222.7" y="141.9"/><use href="#md" x="64.9" y="33.6"/><use href="#md" x="187.7" y="111.4"/><use href="#md" x="174.4" y="104.4"/><use href="#mx" x="263.5" y="292.8"/><use href="#mx" x="264.5" y="286.4"/><use href="#mx" x="100.5" y="75.1"/><use href="#mx" x="230.0" y="151.9"/><use href="#mx" x="64.3" y="61.6"/><use href="#mx" x="252.4" y="195.0"/><use href="#md" x="106.2" y="75.6"/><use href="#mx" x="106.3" y="60.6"/><use href="#mx" x="260.2" y="250.8"/><use href="#mx" x="262.6" y="283.7"/><use href="#md" x="113.2" y="75.6"/><use href="#mx" x="228.8" y="154.8"/><use href="#md" x="63.8" y="69.0"/><use href="#mx" x="265.5" y="294.0"/><use href="#mx" x="231.8" y="145.6"/><use href="#md" x="91.4" y="77.6"/><use href="#mx" x="266.8" y="303.5"/><use href="#mx" x="59.7" y="53.1"/><use href="#mx" x="258.3" y="218.2"/><use href="#mx" x="259.7" y="254.3"/><use href="#mx" x="264.1" y="284.9"/><use href="#md" x="145.9" y="93.9"/><use href="#mx" x="234.8" y="151.1"/><use href="#md" x="82.5" y="80.6"/><use href="#mx" x="260.5" y="268.1"/><use href="#mx" x="245.2" y="184.0"/><use href="#md" x="237.0" y="152.1"/><use href="#mx" x="253.9" y="197.6"/><use href="#md" x="72.8" y="80.9"/><use href="#mx" x="257.6" y="236.7"/><use href="#mx" x="244.4" y="181.3"/><use href="#mx" x="239.3" y="163.0"/><use href="#mx" x="266.2" y="297.5"/><use href="#mx" x="270.6" y="304.3"/><use href="#mx" x="237.0" y="163.8"/><use href="#mx" x="262.1" y="243.9"/><use href="#mx" x="224.5" y="144.3"/><use href="#mx" x="96.2" y="69.6"/><use href="#md" x="88.6" y="76.1"/><use href="#mx" x="261.1" y="255.0"/><use href="#mx" x="99.2" y="63.2"/><use href="#mx" x="257.6" y="215.0"/><use href="#md" x="61.9" y="74.7"/><use href="#mx" x="260.4" y="263.8"/><use href="#mx" x="265.6" y="300.0"/><use href="#mx" x="150.1" y="87.6"/><use href="#mx" x="123.3" y="73.7"/><use href="#mx" x="265.0" y="291.9"/><use href="#mx" x="255.3" y="207.1"/><use href="#mx" x="262.4" y="276.7"/><use href="#md" x="125.1" y="78.5"/><use href="#mx" x="261.2" y="257.8"/><use href="#mx" x="113.3" y="78.3"/><use href="#mx" x="232.4" y="143.7"/><use href="#mx" x="260.4" y="273.3"/><use href="#mx" x="270.6" y="303.6"/><use href="#mx" x="262.5" y="278.3"/><use href="#mx" x="247.0" y="172.4"/><use href="#md" x="124.9" y="88.8"/><use href="#mx" x="266.8" y="302.9"/><use href="#mx" x="234.4" y="161.0"/><use href="#mx" x="261.7" y="253.7"/><use href="#mx" x="59.9" y="44.5"/><use href="#md" x="207.6" y="124.4"/><use href="#mx" x="263.4" y="269.6"/><use href="#md" x="142.1" y="87.9"/><use href="#mx" x="268.0" y="304.1"/><use href="#md" x="115.0" y="79.5"/><use href="#mx" x="193.2" y="117.1"/><use href="#mx" x="59.0" y="66.0"/><use href="#mx" x="248.9" y="188.8"/><use href="#md" x="180.2" y="104.6"/><use href="#md" x="96.6" y="79.5"/><use href="#mx" x="241.6" y="169.7"/><use href="#mx" x="254.6" y="198.9"/><use href="#md" x="122.2" y="81.7"/><use href="#md" x="204.4" y="117.8"/><use href="#mx" x="214.0" y="135.5"/><use href="#mx" x="266.8" y="299.1"/><use href="#mx" x="257.7" y="209.8"/><use href="#mx" x="268.3" y="304.0"/><use href="#mx" x="261.5" y="282.4"/><use href="#mx" x="61.8" y="41.5"/><use href="#mx" x="164.1" y="105.2"/><use href="#mx" x="223.2" y="144.5"/><use href="#mx" x="261.4" y="253.7"/><use href="#mx" x="106.7" y="67.1"/><use href="#mx" x="255.6" y="206.2"/><use href="#mx" x="182.6" y="108.5"/><use href="#mx" x="254.2" y="199.3"/><use href="#mx" x="151.2" y="88.4"/><use href="#mx" x="228.7" y="150.4"/><use href="#md" x="135.8" y="88.5"/><use href="#mx" x="265.8" y="300.7"/><use href="#mx" x="257.4" y="221.4"/><use href="#mx" x="128.3" y="82.6"/><use href="#mx" x="257.2" y="214.8"/><use href="#mx" x="193.1" y="123.9"/><use href="#mx" x="200.5" y="131.7"/><use href="#mx" x="262.6" y="281.2"/><use href="#mx" x="178.2" y="105.2"/><use href="#mx" x="253.4" y="211.4"/><use href="#mx" x="95.1" y="61.6"/><use href="#mx" x="253.4" y="198.1"/><use href="#md" x="90.4" y="73.6"/><use href="#mx" x="255.1" y="215.8"/><use href="#mx" x="162.7" y="92.5"/><use href="#mx" x="260.1" y="262.4"/><use href="#md" x="90.4" y="68.7"/><use href="#mx" x="128.7" y="74.1"/><use href="#mx" x="262.9" y="282.7"/><use href="#md" x="146.8" y="97.0"/><use href="#md" x="141.8" y="93.9"/><use href="#md" x="201.6" y="120.2"/><use href="#mx" x="255.2" y="211.4"/><use href="#md" x="59.5" y="73.9"/><use href="#mx" x="223.7" y="143.0"/><use href="#md" x="60.5" y="65.5"/><use href="#mx" x="257.0" y="199.5"/><use href="#mx" x="217.6" y="146.1"/><use href="#mx" x="262.7" y="267.1"/><use href="#mx" x="264.1" y="286.5"/><use href="#mx" x="260.0" y="255.3"/><use href="#mx" x="202.9" y="124.1"/><use href="#mx" x="259.4" y="247.2"/><use href="#md" x="158.0" y="85.1"/><use href="#mx" x="259.6" y="238.6"/><use href="#mx" x="258.5" y="237.4"/><use href="#md" x="108.5" y="81.3"/><use href="#mx" x="256.9" y="247.4"/><use href="#mx" x="170.1" y="97.4"/><use href="#mx" x="239.0" y="162.0"/><use href="#mx" x="218.7" y="140.2"/><use href="#mx" x="235.6" y="156.6"/><use href="#md" x="98.1" y="82.9"/><use href="#mx" x="261.0" y="286.0"/><use href="#mx" x="182.7" y="101.3"/><use href="#mx" x="74.5" y="65.9"/><use href="#mx" x="64.9" y="53.9"/><use href="#mx" x="268.7" y="305.4"/><use href="#mx" x="83.6" y="55.0"/><use href="#mx" x="265.9" y="300.8"/><use href="#md" x="209.1" y="125.3"/><use href="#mx" x="61.3" y="46.0"/><use href="#md" x="196.5" y="111.9"/><use href="#mx" x="262.8" y="275.2"/><use href="#mx" x="220.8" y="141.4"/><use href="#mx" x="256.9" y="211.4"/><use href="#mx" x="222.1" y="139.9"/><use href="#mx" x="130.1" y="63.9"/><use href="#mx" x="270.0" y="302.8"/><use href="#md" x="65.3" y="77.7"/><use href="#mx" x="258.2" y="213.8"/><use href="#mx" x="114.0" y="69.1"/><use href="#mx" x="157.7" y="82.4"/><use href="#mx" x="85.3" y="55.4"/><use href="#mx" x="144.3" y="85.4"/><use href="#mx" x="261.5" y="272.0"/><use href="#mx" x="259.5" y="222.0"/><use href="#mx" x="143.3" y="82.6"/><use href="#mx" x="229.9" y="150.7"/><use href="#mx" x="87.2" y="57.6"/><use href="#md" x="153.6" y="94.8"/><use href="#mx" x="262.0" y="246.2"/><use href="#mx" x="235.5" y="153.5"/><use href="#mx" x="262.5" y="283.3"/><use href="#mx" x="262.1" y="265.5"/><use href="#md" x="188.6" y="108.9"/><use href="#mx" x="119.2" y="73.5"/><use href="#mx" x="265.5" y="299.3"/><use href="#mx" x="181.2" y="101.5"/><use href="#mx" x="207.3" y="130.1"/><use href="#mx" x="207.4" y="126.8"/><use href="#mx" x="168.0" y="104.1"/><use href="#mx" x="249.1" y="191.3"/><use href="#mx" x="262.9" y="291.0"/><use href="#md" x="78.6" y="67.8"/><use href="#mx" x="200.6" y="119.5"/><use href="#mx" x="261.1" y="269.9"/><use href="#mx" x="159.1" y="107.4"/><use href="#mx" x="64.1" y="68.6"/><use href="#mx" x="264.6" y="282.5"/><use href="#mx" x="206.6" y="127.3"/><use href="#mx" x="142.2" y="78.6"/><use href="#mx" x="61.8" y="58.7"/><use href="#md" x="102.4" y="82.9"/><use href="#mx" x="147.1" y="83.6"/><use href="#mx" x="259.2" y="232.0"/><use href="#mx" x="203.3" y="120.5"/><use href="#mx" x="255.2" y="210.4"/><use href="#md" x="133.6" y="77.4"/><use href="#mx" x="173.7" y="100.6"/><use href="#mx" x="250.2" y="191.6"/><use href="#mx" x="252.0" y="194.5"/><use href="#mx" x="182.1" y="104.8"/><use href="#md" x="133.3" y="83.9"/><use href="#mx" x="255.1" y="201.5"/><use href="#mx" x="106.5" y="73.7"/><use href="#mx" x="83.0" y="53.8"/><use href="#mx" x="242.6" y="167.0"/><use href="#mx" x="261.6" y="257.0"/><use href="#mx" x="172.5" y="103.2"/><use href="#mx" x="96.8" y="49.7"/><use href="#md" x="231.7" y="141.3"/><use href="#mx" x="241.2" y="166.5"/><use href="#mx" x="188.1" y="110.4"/><use href="#mx" x="253.2" y="193.0"/><use href="#mx" x="131.1" y="82.1"/><use href="#md" x="102.1" y="81.6"/><use href="#mx" x="269.2" y="299.6"/><use href="#md" x="251.2" y="173.4"/><use href="#mx" x="227.4" y="145.6"/><use href="#mx" x="118.5" y="86.1"/><use href="#mx" x="259.7" y="243.9"/><use href="#mx" x="249.4" y="181.7"/><use href="#mx" x="174.3" y="98.2"/><use href="#mx" x="251.7" y="195.9"/><use href="#mx" x="104.4" y="71.7"/><use href="#mx" x="179.5" y="102.2"/><use href="#mx" x="237.8" y="161.7"/><use href="#md" x="161.7" y="91.3"/><use href="#mx" x="245.9" y="173.5"/><use href="#md" x="105.1" y="77.0"/><use href="#md" x="135.7" y="95.1"/><use href="#mx" x="185.3" y="113.6"/><use href="#md" x="61.1" y="75.7"/><use href="#mx" x="61.1" y="54.6"/><use href="#mx" x="184.4" y="107.3"/><use href="#mx" x="168.1" y="91.9"/><use href="#mx" x="79.9" y="38.7"/><use href="#mx" x="248.0" y="179.3"/><use href="#mx" x="252.8" y="201.4"/><use href="#mx" x="202.9" y="130.6"/><use href="#md" x="101.4" y="73.5"/><use href="#mx" x="239.7" y="165.8"/><use href="#mx" x="63.6" y="65.6"/><use href="#mx" x="248.3" y="184.4"/><use href="#md" x="160.6" y="92.3"/><use href="#mx" x="224.1" y="144.0"/><use href="#mx" x="241.9" y="170.1"/><use href="#mx" x="248.9" y="184.4"/><use href="#mx" x="205.5" y="124.9"/><use href="#mx" x="142.8" y="80.5"/><use href="#mx" x="142.4" y="84.9"/><use href="#mx" x="259.1" y="229.7"/><use href="#mx" x="244.3" y="175.6"/><use href="#md" x="63.7" y="75.8"/><use href="#mx" x="206.8" y="124.4"/><use href="#md" x="92.3" y="82.2"/><use href="#md" x="94.1" y="83.2"/><use href="#mx" x="233.1" y="154.5"/><use href="#mx" x="197.3" y="120.3"/><use href="#mx" x="161.3" y="87.0"/><use href="#mx" x="258.7" y="243.2"/><use href="#mx" x="232.0" y="147.8"/><use href="#md" x="122.1" y="80.7"/><use href="#md" x="105.5" y="73.0"/><use href="#mx" x="252.9" y="199.7"/><use href="#mx" x="257.5" y="214.6"/><use href="#mx" x="219.2" y="138.8"/><use href="#mx" x="265.5" y="299.6"/><use href="#md" x="61.0" y="33.0"/><use href="#mx" x="258.2" y="212.6"/><use href="#mx" x="229.9" y="152.5"/><use href="#mx" x="258.5" y="235.5"/><use href="#md" x="200.6" y="119.6"/><use href="#mx" x="261.4" y="281.8"/><use href="#mx" x="257.1" y="234.5"/><use href="#mx" x="150.4" y="86.1"/><use href="#mx" x="264.2" y="288.1"/><use href="#md" x="236.5" y="146.2"/><use href="#mx" x="253.4" y="193.7"/><use href="#md" x="72.3" y="74.9"/><use href="#mx" x="259.5" y="215.8"/><use href="#mx" x="221.4" y="139.2"/><use href="#mx" x="231.6" y="150.1"/><use href="#mx" x="218.7" y="134.6"/><use href="#mx" x="246.7" y="181.2"/><use href="#md" x="69.5" y="90.8"/><use href="#md" x="75.3" y="70.7"/><use href="#mx" x="254.6" y="207.1"/><use href="#mx" x="207.0" y="124.2"/><use href="#mx" x="249.8" y="181.9"/><use href="#mx" x="251.8" y="185.6"/><use href="#mx" x="228.8" y="142.0"/><use href="#mx" x="253.7" y="196.9"/><use href="#md" x="232.6" y="143.4"/><use href="#mx" x="219.6" y="140.3"/><use href="#mx" x="255.2" y="228.0"/><use href="#mx" x="123.3" y="76.3"/><use href="#mx" x="265.4" y="297.7"/><use href="#mx" x="264.7" y="292.7"/><use href="#mx" x="260.0" y="248.8"/><use href="#mx" x="105.5" y="67.5"/><use href="#mx" x="256.7" y="216.4"/><use href="#mx" x="253.0" y="202.3"/><use href="#md" x="64.6" y="68.2"/><use href="#md" x="60.8" y="65.5"/><use href="#mx" x="258.6" y="217.7"/><use href="#mx" x="91.3" y="52.3"/><use href="#mx" x="227.6" y="142.1"/><use href="#mx" x="262.3" y="279.4"/><use href="#mx" x="244.7" y="182.5"/><use href="#mx" x="213.8" y="132.5"/><use href="#mx" x="262.2" y="275.1"/><use href="#mx" x="173.2" y="97.4"/><use href="#mx" x="138.2" y="73.8"/><use href="#mx" x="142.7" y="87.6"/><use href="#mx" x="255.6" y="211.2"/><use href="#mx" x="266.5" y="292.9"/><use href="#mx" x="250.4" y="185.1"/><use href="#mx" x="192.2" y="114.6"/><use href="#mx" x="223.0" y="138.8"/><use href="#md" x="64.3" y="67.7"/><use href="#mx" x="221.3" y="138.6"/><use href="#mx" x="267.0" y="302.6"/><use href="#mx" x="260.8" y="228.9"/><use href="#mx" x="260.2" y="271.8"/><use href="#mx" x="253.2" y="191.4"/><use href="#md" x="231.5" y="144.3"/><use href="#mx" x="134.2" y="72.1"/><use href="#mx" x="257.9" y="213.2"/><use href="#mx" x="167.1" y="97.1"/><use href="#mx" x="263.1" y="291.0"/><use href="#mx" x="65.4" y="61.5"/><use href="#md" x="59.2" y="72.8"/><use href="#mx" x="183.1" y="105.1"/><use href="#md" x="183.4" y="108.6"/><use href="#mx" x="247.7" y="178.7"/><use href="#md" x="185.1" y="101.2"/><use href="#mx" x="254.3" y="213.2"/><use href="#md" x="59.0" y="73.4"/><use href="#md" x="67.3" y="75.5"/><use href="#md" x="109.7" y="72.6"/><use href="#md" x="78.5" y="74.8"/><use href="#md" x="220.9" y="135.3"/><use href="#mx" x="244.1" y="175.4"/><use href="#mx" x="76.3" y="71.8"/><use href="#mx" x="232.5" y="150.4"/><use href="#mx" x="179.5" y="109.5"/><use href="#mx" x="85.9" y="76.1"/><use href="#mx" x="261.3" y="265.8"/><use href="#md" x="62.6" y="65.5"/><use href="#mx" x="261.2" y="275.3"/><use href="#mx" x="153.2" y="84.7"/><use href="#mx" x="258.2" y="219.4"/><use href="#md" x="64.1" y="78.8"/><use href="#mx" x="167.7" y="91.8"/><use href="#mx" x="260.7" y="246.4"/><use href="#md" x="197.4" y="120.1"/><use href="#mx" x="259.7" y="262.5"/><use href="#md" x="113.1" y="82.1"/><use href="#md" x="210.5" y="123.5"/><use href="#md" x="194.7" y="111.7"/><use href="#md" x="86.7" y="77.5"/><use href="#md" x="62.1" y="76.2"/><use href="#mx" x="250.6" y="184.0"/><use href="#mx" x="59.5" y="56.1"/><use href="#mx" x="262.0" y="276.1"/><use href="#md" x="235.1" y="149.3"/><use href="#mx" x="164.5" y="86.1"/><use href="#mx" x="155.9" y="91.5"/><use href="#mx" x="259.6" y="249.8"/><use href="#mx" x="266.4" y="295.4"/><use href="#mx" x="261.3" y="232.3"/><use href="#mx" x="262.2" y="273.4"/><use href="#mx" x="241.6" y="170.0"/><use href="#md" x="94.3" y="83.0"/><use href="#mx" x="62.0" y="60.7"/><use href="#mx" x="60.0" y="48.5"/><use href="#mx" x="230.0" y="148.0"/><use href="#mx" x="256.6" y="210.4"/><use href="#md" x="126.8" y="84.7"/><use href="#mx" x="66.3" y="43.7"/><use href="#mx" x="263.4" y="293.5"/><use href="#mx" x="254.6" y="211.6"/><use href="#md" x="167.4" y="95.2"/><use href="#mx" x="263.5" y="293.4"/><use href="#mx" x="193.3" y="115.4"/><use href="#mx" x="210.9" y="132.5"/><use href="#mx" x="260.0" y="245.2"/><use href="#mx" x="267.6" y="294.4"/><use href="#mx" x="257.3" y="231.1"/><use href="#mx" x="227.2" y="143.7"/><use href="#mx" x="224.4" y="145.0"/><use href="#md" x="81.3" y="75.9"/><use href="#mx" x="269.2" y="300.6"/><use href="#md" x="236.2" y="155.0"/><use href="#mx" x="145.7" y="78.8"/><use href="#mx" x="183.1" y="114.4"/><use href="#mx" x="181.5" y="108.1"/><use href="#mx" x="217.5" y="136.8"/><use href="#mx" x="162.4" y="96.4"/><use href="#md" x="104.4" y="86.4"/><use href="#md" x="63.3" y="75.4"/><use href="#md" x="191.7" y="108.6"/><use href="#md" x="244.0" y="166.4"/><use href="#mx" x="257.6" y="207.0"/><use href="#mx" x="257.7" y="228.2"/><use href="#md" x="83.1" y="72.6"/><use href="#mx" x="259.8" y="245.1"/><use href="#mx" x="269.5" y="304.9"/><use href="#md" x="243.4" y="163.5"/><use href="#mx" x="167.7" y="108.3"/><use href="#mx" x="125.4" y="83.5"/><use href="#mx" x="184.3" y="110.3"/><use href="#mx" x="202.7" y="121.9"/><use href="#mx" x="239.6" y="169.9"/><use href="#mx" x="206.5" y="127.2"/><use href="#mx" x="236.3" y="157.2"/><use href="#mx" x="263.9" y="293.2"/><use href="#mx" x="258.6" y="245.1"/><use href="#mx" x="128.8" y="77.9"/><use href="#mx" x="164.1" y="99.0"/><use href="#mx" x="259.5" y="232.2"/><use href="#mx" x="226.1" y="146.0"/><use href="#md" x="127.8" y="80.3"/><use href="#mx" x="221.0" y="143.5"/><use href="#mx" x="257.2" y="226.2"/><use href="#md" x="114.3" y="80.9"/><use href="#mx" x="127.5" y="85.8"/><use href="#mx" x="260.0" y="257.9"/><use href="#mx" x="264.5" y="290.3"/><use href="#mx" x="225.4" y="143.1"/><use href="#mx" x="241.3" y="169.1"/><use href="#mx" x="75.2" y="72.4"/><use href="#mx" x="265.1" y="295.6"/><use href="#md" x="116.5" y="74.8"/><use href="#mx" x="250.7" y="181.7"/><use href="#mx" x="183.8" y="112.4"/><use href="#mx" x="261.6" y="276.8"/><use href="#mx" x="243.9" y="170.9"/><use href="#mx" x="260.8" y="272.2"/><use href="#md" x="71.1" y="64.9"/><use href="#mx" x="262.3" y="287.6"/><use href="#mx" x="180.9" y="108.0"/><use href="#mx" x="231.1" y="147.3"/><use href="#mx" x="261.0" y="242.4"/><use href="#md" x="162.3" y="99.8"/><use href="#mx" x="110.2" y="63.8"/><use href="#md" x="100.0" y="80.5"/><use href="#mx" x="262.6" y="283.6"/><use href="#mx" x="261.1" y="277.7"/><use href="#mx" x="253.8" y="196.7"/><use href="#mx" x="265.7" y="300.2"/><use href="#mx" x="235.1" y="162.6"/><use href="#mx" x="258.2" y="245.4"/><use href="#md" x="70.0" y="72.6"/><use href="#mx" x="64.8" y="57.1"/><use href="#mx" x="120.1" y="85.2"/><use href="#md" x="240.7" y="160.6"/><use href="#md" x="155.1" y="97.5"/><use href="#mx" x="59.4" y="57.7"/><use href="#mx" x="94.1" y="43.7"/><use href="#mx" x="262.3" y="289.5"/><use href="#mx" x="227.9" y="146.4"/><use href="#mx" x="228.6" y="145.0"/><use href="#mx" x="235.1" y="157.2"/><use href="#mx" x="149.3" y="87.7"/><use href="#mx" x="258.1" y="227.5"/><use href="#mx" x="255.3" y="215.7"/><use href="#mx" x="144.5" y="81.8"/><use href="#mx" x="271.0" y="305.3"/><use href="#md" x="180.0" y="105.1"/><use href="#mx" x="104.6" y="73.5"/><use href="#mx" x="253.4" y="198.5"/><use href="#mx" x="221.1" y="143.2"/><use href="#mx" x="249.6" y="187.1"/><use href="#mx" x="269.2" y="305.5"/><use href="#mx" x="259.8" y="235.2"/><use href="#md" x="63.4" y="44.6"/><use href="#md" x="184.8" y="109.4"/><use href="#md" x="86.4" y="51.4"/><use href="#mx" x="267.9" y="302.2"/><use href="#mx" x="162.1" y="96.5"/><use href="#mx" x="213.0" y="133.0"/><use href="#md" x="127.3" y="77.3"/><use href="#mx" x="218.0" y="135.3"/><use href="#mx" x="247.5" y="178.4"/><use href="#md" x="72.4" y="77.1"/><use href="#mx" x="254.1" y="209.5"/><use href="#mx" x="266.2" y="299.0"/><use href="#mx" x="208.1" y="130.4"/><use href="#mx" x="134.2" y="76.1"/><use href="#mx" x="261.1" y="264.3"/><use href="#mx" x="236.0" y="165.2"/><use href="#mx" x="62.6" y="63.2"/><use href="#mx" x="63.5" y="57.4"/><use href="#mx" x="60.7" y="61.6"/><use href="#mx" x="154.4" y="83.8"/><use href="#mx" x="253.0" y="202.7"/><use href="#md" x="108.7" y="81.1"/><use href="#mx" x="258.3" y="248.6"/><use href="#mx" x="270.1" y="305.3"/><use href="#mx" x="260.1" y="262.5"/><use href="#mx" x="261.1" y="274.4"/><use href="#mx" x="259.8" y="254.4"/><use href="#md" x="122.0" y="85.2"/><use href="#mx" x="64.6" y="45.5"/><use href="#mx" x="159.7" y="91.0"/><use href="#mx" x="231.5" y="146.9"/><use href="#mx" x="62.1" y="58.8"/><use href="#mx" x="261.5" y="269.2"/><use href="#mx" x="258.2" y="226.6"/><use href="#mx" x="72.0" y="54.5"/><use href="#mx" x="255.1" y="203.5"/><use href="#mx" x="264.1" y="288.3"/><use href="#mx" x="262.8" y="264.9"/><use href="#md" x="94.6" y="73.2"/><use href="#mx" x="199.3" y="119.6"/><use href="#mx" x="222.4" y="143.1"/><use href="#mx" x="191.0" y="112.8"/><use href="#mx" x="90.7" y="34.0"/><use href="#md" x="78.8" y="70.1"/><use href="#mx" x="260.6" y="241.4"/><use href="#mx" x="259.5" y="264.3"/><use href="#mx" x="134.7" y="76.5"/><use href="#mx" x="263.7" y="286.6"/><use href="#mx" x="260.6" y="265.6"/><use href="#mx" x="254.4" y="198.0"/><use href="#mx" x="160.4" y="96.0"/><use href="#mx" x="229.6" y="152.1"/><use href="#mx" x="258.6" y="237.0"/><use href="#mx" x="258.6" y="212.5"/><use href="#mx" x="258.4" y="216.8"/><use href="#mx" x="170.4" y="96.3"/><use href="#md" x="115.8" y="79.7"/><use href="#mx" x="238.6" y="166.0"/><use href="#md" x="79.9" y="75.6"/><use href="#md" x="61.6" y="83.2"/><use href="#mx" x="263.3" y="278.4"/><use href="#mx" x="226.3" y="150.6"/><use href="#md" x="149.8" y="90.5"/><use href="#mx" x="175.6" y="101.6"/><use href="#mx" x="260.1" y="244.7"/><use href="#mx" x="262.1" y="265.7"/><use href="#mx" x="174.6" y="98.5"/><use href="#mx" x="263.5" y="287.9"/><use href="#mx" x="180.6" y="109.9"/><use href="#mx" x="149.8" y="82.0"/><use href="#mx" x="260.5" y="255.3"/><use href="#mx" x="71.5" y="30.5"/><use href="#mx" x="259.0" y="230.0"/><use href="#mx" x="258.7" y="267.2"/><use href="#mx" x="259.6" y="231.0"/><use href="#mx" x="107.0" y="74.9"/><use href="#md" x="97.2" y="72.0"/><use href="#md" x="226.9" y="135.9"/><use href="#md" x="84.1" y="83.2"/><use href="#mx" x="261.9" y="292.2"/><use href="#mx" x="111.4" y="61.9"/><use href="#md" x="69.3" y="79.7"/><use href="#mx" x="261.1" y="280.2"/><use href="#mx" x="239.4" y="163.1"/><use href="#mx" x="75.7" y="57.5"/><use href="#mx" x="223.8" y="143.0"/><use href="#mx" x="261.0" y="233.7"/><use href="#mx" x="236.3" y="160.9"/><use href="#mx" x="266.6" y="296.0"/><use href="#mx" x="211.6" y="131.7"/><use href="#md" x="108.4" y="74.7"/><use href="#mx" x="248.3" y="181.4"/><use href="#mx" x="231.1" y="158.1"/><use href="#md" x="193.2" y="108.8"/><use href="#md" x="202.2" y="118.1"/><use href="#mx" x="181.2" y="100.3"/><use href="#mx" x="152.4" y="79.4"/><use href="#mx" x="162.2" y="95.3"/><use href="#md" x="66.3" y="79.2"/><use href="#mx" x="259.8" y="230.8"/><use href="#mx" x="243.8" y="165.3"/><use href="#md" x="240.3" y="158.4"/><use href="#mx" x="262.1" y="273.8"/><use href="#mx" x="265.6" y="297.2"/><use href="#mx" x="259.1" y="245.1"/><use href="#mx" x="60.1" y="61.5"/><use href="#md" x="59.2" y="70.5"/><use href="#mx" x="264.1" y="284.6"/><use href="#mx" x="65.0" y="51.7"/><use href="#mx" x="232.8" y="150.2"/><use href="#mx" x="238.4" y="157.0"/><use href="#mx" x="79.6" y="63.0"/><use href="#mx" x="246.8" y="167.9"/><use href="#md" x="136.2" y="90.6"/><use href="#mx" x="200.5" y="125.1"/><use href="#mx" x="234.5" y="154.9"/><use href="#mx" x="258.2" y="238.8"/><use href="#mx" x="256.0" y="229.2"/><use href="#mx" x="160.1" y="103.8"/><use href="#md" x="162.3" y="92.4"/><use href="#md" x="84.3" y="89.9"/><use href="#mx" x="251.3" y="191.4"/><use href="#md" x="78.9" y="72.2"/><use href="#mx" x="92.3" y="62.9"/><use href="#mx" x="249.6" y="178.7"/><use href="#mx" x="252.7" y="192.1"/><use href="#mx" x="262.3" y="268.7"/><use href="#mx" x="262.8" y="267.9"/><use href="#mx" x="83.8" y="67.6"/><use href="#mx" x="255.4" y="211.5"/><use href="#mx" x="258.2" y="245.9"/><use href="#mx" x="59.2" y="53.1"/><use href="#mx" x="244.2" y="175.4"/><use href="#mx" x="263.5" y="286.8"/><use href="#md" x="248.8" y="168.5"/><use href="#mx" x="181.3" y="105.9"/><use href="#mx" x="61.1" y="58.3"/><use href="#mx" x="253.5" y="203.0"/><use href="#mx" x="63.0" y="47.5"/><use href="#md" x="61.0" y="76.2"/><use href="#mx" x="197.4" y="115.0"/><use href="#mx" x="134.9" y="76.9"/><use href="#md" x="250.6" y="174.4"/><use href="#mx" x="266.8" y="292.9"/><use href="#mx" x="262.8" y="290.9"/><use href="#md" x="81.6" y="73.6"/><use href="#mx" x="221.3" y="142.2"/><use href="#mx" x="159.3" y="90.1"/><use href="#md" x="69.8" y="80.6"/><use href="#mx" x="138.6" y="74.4"/><use href="#mx" x="248.9" y="185.2"/><use href="#mx" x="127.5" y="75.3"/><use href="#md" x="59.7" y="72.8"/><use href="#mx" x="256.4" y="215.5"/><use href="#mx" x="250.3" y="185.4"/><use href="#mx" x="264.1" y="274.2"/><use href="#mx" x="194.3" y="119.2"/><use href="#mx" x="110.4" y="62.4"/><use href="#mx" x="254.7" y="210.6"/><use href="#md" x="62.3" y="65.2"/><use href="#md" x="109.0" y="86.9"/><use href="#mx" x="263.0" y="279.7"/><use href="#mx" x="59.8" y="50.9"/><use href="#md" x="179.2" y="105.3"/><use href="#md" x="121.6" y="87.0"/><use href="#mx" x="262.3" y="269.5"/><use href="#mx" x="256.6" y="248.1"/><use href="#mx" x="259.7" y="247.0"/><use href="#mx" x="250.9" y="189.8"/><use href="#mx" x="118.1" y="66.8"/><use href="#mx" x="121.3" y="63.7"/><use href="#mx" x="143.0" y="80.9"/><use href="#mx" x="85.5" y="49.7"/><use href="#md" x="65.4" y="68.1"/><use href="#mx" x="249.0" y="190.1"/><use href="#mx" x="238.4" y="163.1"/><use href="#mx" x="245.4" y="174.7"/><use href="#mx" x="98.8" y="66.1"/><use href="#mx" x="253.0" y="203.5"/><use href="#md" x="63.7" y="76.9"/><use href="#mx" x="187.3" y="110.5"/><use href="#mx" x="207.2" y="133.1"/><use href="#md" x="74.0" y="79.3"/><use href="#mx" x="60.2" y="65.3"/><use href="#mx" x="236.8" y="155.4"/><use href="#mx" x="239.3" y="164.3"/><use href="#mx" x="86.2" y="68.0"/><use href="#mx" x="133.6" y="82.4"/><use href="#md" x="83.7" y="77.9"/><use href="#mx" x="203.3" y="121.0"/><use href="#mx" x="112.8" y="79.2"/><use href="#mx" x="249.3" y="175.2"/><use href="#mx" x="266.3" y="293.7"/><use href="#mx" x="215.2" y="133.6"/><use href="#mx" x="64.1" y="41.2"/><use href="#md" x="93.5" y="90.8"/><use href="#mx" x="241.4" y="164.9"/><use href="#md" x="77.5" y="73.1"/><use href="#mx" x="178.6" y="102.7"/><use href="#mx" x="256.8" y="235.6"/><use href="#mx" x="271.1" y="304.3"/><use href="#mx" x="260.1" y="240.1"/><use href="#mx" x="68.3" y="51.6"/><use href="#mx" x="264.4" y="274.1"/><use href="#md" x="61.8" y="74.3"/><use href="#mx" x="236.7" y="164.1"/><use href="#mx" x="252.6" y="203.6"/><use href="#mx" x="254.1" y="202.7"/><use href="#mx" x="248.3" y="181.5"/><use href="#mx" x="265.3" y="291.8"/><use href="#mx" x="260.9" y="249.4"/><use href="#mx" x="60.2" y="62.3"/><use href="#md" x="136.2" y="77.4"/><use href="#mx" x="257.8" y="246.3"/><use href="#mx" x="158.0" y="89.2"/><use href="#mx" x="231.8" y="152.2"/><use href="#mx" x="236.0" y="165.0"/><use href="#md" x="113.5" y="81.4"/><use href="#md" x="62.6" y="65.8"/><use href="#md" x="189.2" y="111.3"/><use href="#mx" x="206.9" y="124.9"/><use href="#mx" x="152.7" y="91.0"/><use href="#mx" x="268.5" y="304.5"/><use href="#mx" x="255.7" y="219.5"/><use href="#mx" x="266.9" y="299.9"/><use href="#mx" x="251.8" y="187.1"/><use href="#mx" x="242.3" y="166.5"/><use href="#mx" x="154.1" y="90.4"/><use href="#mx" x="258.5" y="234.1"/><use href="#mx" x="219.1" y="145.7"/><use href="#mx" x="114.9" y="64.6"/><use href="#mx" x="96.7" y="62.5"/><use href="#mx" x="261.2" y="252.6"/><use href="#md" x="124.1" y="77.9"/><use href="#mx" x="64.5" y="57.3"/><use href="#mx" x="60.5" y="59.3"/><use href="#mx" x="251.5" y="184.5"/><use href="#mx" x="246.4" y="171.2"/><use href="#md" x="188.7" y="112.0"/><use href="#mx" x="233.9" y="162.4"/><use href="#md" x="112.5" y="77.9"/><use href="#mx" x="258.7" y="217.6"/><use href="#mx" x="229.8" y="148.0"/><use href="#mx" x="260.3" y="262.8"/><use href="#mx" x="232.6" y="148.6"/><use href="#mx" x="230.1" y="153.9"/><use href="#mx" x="151.0" y="77.7"/><use href="#mx" x="255.9" y="207.3"/><use href="#md" x="119.6" y="78.1"/><use href="#mx" x="252.8" y="195.7"/><use href="#md" x="243.2" y="165.3"/><use href="#mx" x="60.4" y="68.6"/><use href="#mx" x="236.9" y="162.5"/><use href="#mx" x="103.4" y="69.4"/><use href="#mx" x="243.8" y="165.7"/><use href="#mx" x="256.2" y="224.7"/><use href="#mx" x="236.6" y="164.5"/><use href="#mx" x="230.8" y="152.1"/><use href="#mx" x="127.0" y="79.8"/><use href="#mx" x="253.5" y="190.5"/><use href="#mx" x="250.2" y="189.2"/><use href="#md" x="134.7" y="91.1"/><use href="#md" x="63.4" y="72.9"/><use href="#mx" x="171.2" y="100.8"/><use href="#mx" x="137.7" y="85.7"/><use href="#mx" x="124.1" y="72.3"/><use href="#mx" x="256.8" y="234.7"/><use href="#mx" x="144.3" y="86.1"/><use href="#mx" x="261.1" y="237.1"/><use href="#mx" x="246.3" y="177.2"/><use href="#mx" x="187.7" y="108.8"/><use href="#mx" x="262.3" y="277.5"/><use href="#mx" x="264.8" y="284.5"/><use href="#mx" x="269.9" y="301.4"/><use href="#md" x="235.0" y="148.1"/><use href="#mx" x="60.2" y="45.0"/><use href="#mx" x="221.4" y="134.2"/><use href="#mx" x="235.6" y="157.4"/><use href="#md" x="239.8" y="157.5"/><use href="#mx" x="261.9" y="255.9"/><use href="#md" x="66.2" y="66.8"/><use href="#mx" x="257.2" y="241.2"/><use href="#mx" x="261.2" y="278.0"/><use href="#mx" x="209.2" y="128.1"/><use href="#md" x="155.4" y="89.2"/><use href="#mx" x="260.4" y="269.2"/><use href="#mx" x="130.7" y="79.7"/><use href="#md" x="135.7" y="80.5"/><use href="#mx" x="271.9" y="304.7"/><use href="#mx" x="249.1" y="176.4"/><use href="#mx" x="229.0" y="143.8"/><use href="#mx" x="249.8" y="179.0"/><use href="#mx" x="233.2" y="154.2"/><use href="#mx" x="258.1" y="250.9"/><use href="#mx" x="263.9" y="294.2"/><use href="#md" x="61.4" y="42.0"/><use href="#mx" x="240.3" y="159.1"/><use href="#md" x="134.3" y="88.7"/><use href="#mx" x="61.1" y="50.9"/><use href="#mx" x="64.8" y="65.6"/><use href="#md" x="101.4" y="79.9"/><use href="#mx" x="181.1" y="109.8"/><use href="#mx" x="234.1" y="155.3"/><use href="#mx" x="253.9" y="195.9"/><use href="#mx" x="262.0" y="278.7"/><use href="#mx" x="235.2" y="150.2"/><use href="#mx" x="256.4" y="214.3"/><use href="#mx" x="152.1" y="91.6"/><use href="#md" x="180.6" y="103.6"/><use href="#md" x="232.3" y="144.0"/><use href="#mx" x="257.3" y="219.9"/><use href="#mx" x="232.3" y="150.9"/><use href="#mx" x="266.6" y="297.9"/><use href="#mx" x="269.2" y="300.6"/><use href="#md" x="89.5" y="67.8"/><use href="#mx" x="258.2" y="218.0"/><use href="#md" x="62.0" y="72.9"/><use href="#mx" x="208.4" y="130.3"/><use href="#mx" x="61.1" y="58.7"/><use href="#mx" x="256.2" y="246.0"/><use href="#mx" x="168.7" y="97.9"/><use href="#mx" x="69.0" y="48.8"/><use href="#md" x="234.6" y="148.1"/><use href="#mx" x="219.1" y="137.4"/><use href="#mx" x="260.8" y="266.1"/><use href="#mx" x="254.9" y="207.8"/><use href="#mx" x="159.7" y="84.0"/><use href="#mx" x="214.7" y="134.0"/><use href="#mx" x="109.3" y="67.5"/><use href="#mx" x="142.1" y="89.7"/><use href="#mx" x="257.8" y="224.7"/><use href="#mx" x="247.7" y="181.5"/><use href="#mx" x="64.9" y="67.7"/><use href="#md" x="139.0" y="90.1"/><use href="#mx" x="64.3" y="55.0"/><use href="#mx" x="196.1" y="119.8"/><use href="#mx" x="162.7" y="92.0"/><use href="#md" x="223.1" y="140.1"/><use href="#mx" x="246.2" y="169.6"/><use href="#mx" x="170.5" y="103.7"/><use href="#mx" x="229.3" y="152.6"/><use href="#mx" x="263.2" y="265.9"/><use href="#mx" x="268.8" y="301.9"/><use href="#md" x="96.0" y="68.0"/><use href="#mx" x="260.8" y="267.2"/><use href="#md" x="154.2" y="96.6"/><use href="#mx" x="263.7" y="296.9"/><use href="#mx" x="236.0" y="157.7"/><use href="#mx" x="211.1" y="129.6"/><use href="#md" x="191.7" y="106.6"/><use href="#mx" x="268.6" y="305.2"/><use href="#mx" x="263.4" y="285.1"/><use href="#mx" x="253.2" y="204.2"/><use href="#md" x="88.6" y="77.3"/><use href="#mx" x="262.0" y="274.7"/><use href="#mx" x="125.1" y="74.9"/><use href="#md" x="247.7" y="166.6"/><use href="#mx" x="185.8" y="110.4"/><use href="#mx" x="176.9" y="107.9"/><use href="#mx" x="259.6" y="227.1"/><use href="#md" x="69.9" y="70.4"/><use href="#md" x="83.1" y="76.7"/><use href="#mx" x="257.1" y="211.0"/><use href="#md" x="242.0" y="164.8"/><use href="#md" x="172.6" y="94.4"/><use href="#md" x="124.5" y="83.1"/><use href="#mx" x="63.3" y="50.4"/><use href="#mx" x="242.4" y="166.2"/><use href="#md" x="193.7" y="109.7"/><use href="#md" x="227.7" y="139.1"/><use href="#md" x="73.3" y="34.8"/><use href="#md" x="118.7" y="83.5"/><use href="#mx" x="246.8" y="179.9"/><use href="#mx" x="270.3" y="305.6"/><use href="#mx" x="223.7" y="143.1"/><use href="#md" x="148.5" y="95.0"/><use href="#mx" x="153.1" y="88.8"/><use href="#mx" x="243.8" y="171.7"/><use href="#mx" x="171.4" y="98.0"/><use href="#mx" x="91.4" y="71.1"/><use href="#md" x="132.4" y="79.5"/><use href="#mx" x="264.7" y="292.9"/><use href="#md" x="153.3" y="104.6"/><use href="#md" x="154.2" y="100.9"/><use href="#md" x="148.0" y="85.3"/><use href="#mx" x="235.6" y="159.4"/><use href="#mx" x="87.2" y="71.8"/><use href="#mx" x="62.0" y="60.7"/><use href="#mx" x="62.3" y="62.9"/><use href="#mx" x="221.4" y="140.8"/><use href="#mx" x="255.4" y="209.8"/><use href="#mx" x="216.2" y="136.8"/><use href="#mx" x="251.5" y="188.0"/><use href="#md" x="192.1" y="118.1"/><use href="#mx" x="267.8" y="301.0"/><use href="#mx" x="233.0" y="159.4"/><use href="#mx" x="260.8" y="235.8"/><use href="#mx" x="59.4" y="47.1"/><use href="#mx" x="250.8" y="176.9"/><use href="#mx" x="257.1" y="227.3"/><use href="#md" x="65.1" y="84.8"/><use href="#mx" x="265.0" y="295.3"/><use href="#mx" x="250.3" y="184.7"/><use href="#mx" x="256.2" y="233.0"/><use href="#mx" x="262.6" y="283.3"/><use href="#mx" x="263.9" y="291.0"/><use href="#md" x="225.4" y="136.8"/><use href="#md" x="248.2" y="170.9"/><use href="#mx" x="180.1" y="99.1"/><use href="#mx" x="140.3" y="86.0"/><use href="#mx" x="268.2" y="307.0"/><use href="#md" x="128.9" y="84.7"/><use href="#mx" x="250.3" y="188.8"/><use href="#mx" x="259.7" y="239.7"/><use href="#mx" x="179.1" y="103.3"/><use href="#mx" x="229.3" y="145.8"/><use href="#mx" x="150.9" y="93.4"/><use href="#md" x="60.1" y="79.1"/><use href="#mx" x="258.4" y="239.3"/><use href="#mx" x="260.8" y="284.1"/><use href="#md" x="185.0" y="108.1"/><use href="#mx" x="254.1" y="200.9"/><use href="#mx" x="256.2" y="219.0"/><use href="#mx" x="99.0" y="82.4"/><use href="#mx" x="261.2" y="268.5"/><use href="#md" x="228.0" y="139.9"/><use href="#mx" x="211.0" y="129.0"/><use href="#mx" x="258.3" y="250.0"/><use href="#mx" x="255.3" y="202.9"/><use href="#md" x="169.8" y="97.4"/><use href="#md" x="235.7" y="153.5"/><use href="#mx" x="251.4" y="191.4"/><use href="#mx" x="136.7" y="81.5"/><use href="#mx" x="249.9" y="181.4"/><use href="#md" x="136.5" y="77.9"/><use href="#mx" x="259.7" y="277.4"/><use href="#mx" x="260.0" y="261.2"/><use href="#mx" x="269.1" y="301.7"/><use href="#mx" x="236.7" y="158.9"/><use href="#mx" x="261.3" y="219.6"/><use href="#mx" x="264.7" y="291.0"/><use href="#mx" x="266.1" y="284.9"/><use href="#mx" x="258.4" y="219.6"/><use href="#mx" x="257.8" y="242.7"/><use href="#mx" x="261.8" y="284.4"/><use href="#mx" x="261.3" y="276.3"/><use href="#mx" x="250.4" y="175.7"/><use href="#mx" x="243.9" y="171.1"/><use href="#mx" x="258.4" y="250.2"/><use href="#mx" x="258.3" y="238.1"/><use href="#mx" x="259.6" y="240.9"/><use href="#md" x="137.6" y="81.5"/><use href="#mx" x="179.8" y="104.1"/><use href="#mx" x="260.7" y="239.5"/><use href="#mx" x="61.9" y="35.7"/><use href="#mx" x="264.3" y="280.7"/><use href="#mx" x="268.5" y="305.3"/><use href="#mx" x="168.1" y="102.9"/><use href="#mx" x="204.4" y="122.4"/><use href="#mx" x="252.1" y="200.0"/><use href="#mx" x="62.0" y="101.0"/><use href="#mx" x="250.8" y="188.9"/><use href="#mx" x="61.7" y="53.4"/><use href="#md" x="83.3" y="70.6"/><use href="#md" x="71.8" y="66.7"/><use href="#mx" x="262.5" y="272.1"/><use href="#mx" x="255.7" y="226.9"/><use href="#md" x="97.2" y="71.9"/><use href="#md" x="227.9" y="142.2"/><use href="#mx" x="63.8" y="53.7"/><use href="#md" x="162.9" y="99.1"/><use href="#mx" x="65.3" y="71.6"/><use href="#mx" x="61.5" y="60.0"/><use href="#md" x="197.0" y="114.4"/><use href="#mx" x="248.4" y="182.4"/><use href="#mx" x="259.6" y="229.5"/><use href="#mx" x="243.4" y="172.0"/><use href="#mx" x="181.1" y="110.0"/><use href="#mx" x="260.7" y="263.8"/><use href="#mx" x="230.5" y="143.6"/><use href="#mx" x="261.6" y="247.4"/><use href="#mx" x="269.4" y="305.3"/><use href="#mx" x="108.7" y="55.8"/><use href="#mx" x="265.7" y="292.7"/><use href="#mx" x="257.1" y="195.9"/><use href="#mx" x="265.6" y="294.9"/><use href="#mx" x="253.3" y="196.8"/><use href="#mx" x="250.6" y="188.4"/><use href="#mx" x="251.6" y="187.8"/><use href="#mx" x="242.3" y="159.6"/><use href="#mx" x="239.3" y="160.7"/><use href="#mx" x="262.4" y="275.7"/><use href="#mx" x="236.6" y="150.3"/><use href="#mx" x="262.5" y="285.5"/><use href="#mx" x="259.3" y="232.5"/><use href="#mx" x="201.5" y="125.3"/><use href="#md" x="234.7" y="146.4"/><use href="#mx" x="232.3" y="152.1"/><use href="#mx" x="220.7" y="139.6"/><use href="#md" x="242.9" y="159.1"/><use href="#mx" x="104.0" y="83.4"/><use href="#md" x="183.7" y="101.9"/><use href="#mx" x="176.1" y="107.1"/><use href="#mx" x="223.7" y="136.0"/><use href="#mx" x="165.8" y="108.8"/><use href="#mx" x="143.3" y="77.4"/><use href="#mx" x="233.7" y="154.8"/><use href="#md" x="212.1" y="124.0"/><use href="#mx" x="261.5" y="274.1"/><use href="#mx" x="219.4" y="141.8"/><use href="#mx" x="252.5" y="209.0"/><use href="#mx" x="267.0" y="295.0"/><use href="#mx" x="261.7" y="267.4"/><use href="#mx" x="209.5" y="125.3"/><use href="#mx" x="181.7" y="103.3"/><use href="#mx" x="261.1" y="246.6"/><use href="#md" x="65.0" y="66.1"/><use href="#md" x="235.7" y="152.3"/><use href="#md" x="68.7" y="76.0"/><use href="#mx" x="259.7" y="262.5"/><use href="#mx" x="262.4" y="281.0"/><use href="#md" x="59.6" y="62.6"/><use href="#md" x="248.7" y="171.4"/><use href="#md" x="71.2" y="92.5"/><use href="#mx" x="214.4" y="135.6"/><use href="#mx" x="265.6" y="297.6"/><use href="#mx" x="165.3" y="90.5"/><use href="#md" x="183.0" y="104.6"/><use href="#mx" x="130.5" y="77.6"/><use href="#mx" x="125.5" y="67.1"/><use href="#md" x="96.9" y="85.4"/><use href="#mx" x="255.9" y="242.0"/><use href="#mx" x="258.0" y="231.9"/><use href="#mx" x="181.7" y="111.1"/><use href="#mx" x="237.4" y="161.0"/><use href="#mx" x="161.9" y="96.2"/><use href="#mx" x="266.4" y="292.6"/><use href="#mx" x="200.9" y="126.8"/><use href="#mx" x="259.5" y="251.0"/><use href="#md" x="138.4" y="81.9"/><use href="#mx" x="258.1" y="220.1"/><use href="#mx" x="93.5" y="66.2"/><use href="#mx" x="238.5" y="162.7"/><use href="#mx" x="154.4" y="86.9"/><use href="#mx" x="236.0" y="152.7"/><use href="#mx" x="159.7" y="95.5"/><use href="#mx" x="136.3" y="76.6"/><use href="#mx" x="143.7" y="87.4"/><use href="#mx" x="267.4" y="295.2"/><use href="#mx" x="215.0" y="134.7"/><use href="#md" x="243.9" y="172.9"/><use href="#mx" x="257.6" y="233.2"/><use href="#mx" x="82.7" y="55.4"/><use href="#mx" x="224.0" y="143.3"/><use href="#md" x="179.7" y="108.5"/><use href="#mx" x="261.7" y="280.7"/><use href="#md" x="233.6" y="142.7"/><use href="#mx" x="262.2" y="283.1"/><use href="#mx" x="233.4" y="155.3"/><use href="#md" x="93.2" y="74.2"/><use href="#md" x="174.5" y="101.9"/><use href="#mx" x="254.4" y="199.8"/><use href="#md" x="160.4" y="87.0"/><use href="#mx" x="258.3" y="254.8"/><use href="#md" x="86.0" y="63.8"/><use href="#md" x="172.3" y="95.2"/><use href="#mx" x="265.5" y="296.5"/><use href="#mx" x="218.5" y="138.8"/><use href="#mx" x="230.4" y="146.2"/><use href="#mx" x="257.6" y="211.7"/><use href="#md" x="60.6" y="78.2"/><use href="#md" x="119.9" y="80.2"/><use href="#md" x="186.7" y="105.6"/><use href="#md" x="97.4" y="79.5"/><use href="#mx" x="266.2" y="290.5"/><use href="#md" x="231.3" y="144.5"/><use href="#mx" x="241.4" y="171.9"/><use href="#mx" x="149.6" y="83.7"/><use href="#mx" x="235.0" y="195.0"/><use href="#mx" x="248.2" y="183.8"/><use href="#md" x="63.2" y="48.6"/><use href="#mx" x="125.4" y="78.9"/><use href="#mx" x="220.2" y="140.8"/><use href="#mx" x="217.1" y="137.9"/><use href="#mx" x="256.1" y="205.9"/><use href="#mx" x="245.2" y="175.1"/><use href="#mx" x="255.0" y="208.1"/><use href="#md" x="59.9" y="77.0"/><use href="#md" x="62.1" y="71.8"/><use href="#mx" x="267.1" y="306.6"/><use href="#mx" x="267.2" y="302.4"/><use href="#mx" x="106.4" y="81.1"/><use href="#mx" x="272.0" y="306.9"/><use href="#mx" x="248.6" y="175.0"/><use href="#md" x="166.9" y="89.2"/><use href="#mx" x="157.0" y="88.5"/><use href="#mx" x="252.2" y="190.1"/><use href="#mx" x="187.5" y="110.8"/><use href="#mx" x="269.0" y="304.3"/><use href="#mx" x="166.8" y="97.1"/><use href="#mx" x="115.3" y="67.9"/><use href="#mx" x="268.1" y="298.5"/><use href="#mx" x="234.9" y="157.8"/><use href="#md" x="131.7" y="84.0"/><use href="#mx" x="230.9" y="151.2"/><use href="#md" x="229.4" y="138.5"/><use href="#mx" x="261.8" y="278.0"/><use href="#mx" x="140.7" y="86.1"/><use href="#mx" x="261.2" y="251.6"/><use href="#mx" x="62.5" y="51.3"/><use href="#mx" x="64.0" y="55.5"/><use href="#mx" x="258.9" y="248.6"/><use href="#mx" x="256.4" y="205.7"/><use href="#mx" x="260.5" y="254.8"/><use href="#mx" x="255.1" y="196.7"/><use href="#mx" x="262.1" y="255.6"/><use href="#md" x="151.6" y="88.8"/><use href="#md" x="226.6" y="134.9"/><use href="#md" x="72.5" y="76.4"/><use href="#mx" x="63.5" y="55.3"/><use href="#mx" x="62.9" y="52.3"/><use href="#mx" x="122.3" y="78.9"/><use href="#mx" x="73.8" y="71.1"/><use href="#mx" x="88.6" y="51.4"/><use href="#mx" x="264.0" y="288.1"/><use href="#mx" x="234.4" y="153.1"/><use href="#mx" x="177.7" y="104.4"/><use href="#md" x="147.0" y="87.0"/><use href="#mx" x="259.3" y="242.1"/><use href="#mx" x="59.6" y="58.8"/><use href="#mx" x="160.3" y="84.0"/><use href="#md" x="100.4" y="84.3"/><use href="#mx" x="269.8" y="304.8"/><use href="#mx" x="196.9" y="118.7"/><use href="#mx" x="78.5" y="54.0"/><use href="#mx" x="242.7" y="165.7"/><use href="#mx" x="259.4" y="238.5"/><use href="#mx" x="113.0" y="69.8"/><use href="#md" x="226.6" y="137.2"/><use href="#mx" x="62.3" y="47.8"/><use href="#mx" x="131.9" y="86.2"/><use href="#md" x="169.6" y="100.2"/><use href="#mx" x="229.1" y="149.1"/><use href="#mx" x="257.4" y="226.0"/><use href="#mx" x="258.5" y="234.1"/><use href="#mx" x="258.8" y="238.3"/><use href="#md" x="107.0" y="75.8"/><use href="#mx" x="239.4" y="164.7"/><use href="#mx" x="247.0" y="183.6"/><use href="#mx" x="63.9" y="68.7"/><use href="#mx" x="254.7" y="195.5"/><use href="#mx" x="260.2" y="245.8"/><use href="#mx" x="226.7" y="146.5"/><use href="#md" x="184.0" y="108.3"/><use href="#md" x="180.5" y="101.8"/><use href="#mx" x="241.9" y="167.4"/><use href="#mx" x="257.0" y="218.9"/><use href="#md" x="122.6" y="76.0"/><use href="#mx" x="191.2" y="113.2"/><use href="#md" x="240.3" y="154.5"/><use href="#md" x="118.9" y="80.4"/><use href="#mx" x="85.0" y="64.3"/><use href="#mx" x="203.0" y="120.2"/><use href="#mx" x="256.6" y="206.4"/><use href="#mx" x="241.5" y="164.9"/><use href="#md" x="232.2" y="148.2"/><use href="#mx" x="98.9" y="66.4"/><use href="#mx" x="239.8" y="171.1"/><use href="#md" x="155.3" y="96.3"/><use href="#md" x="138.2" y="83.1"/><use href="#mx" x="257.4" y="208.4"/><use href="#mx" x="260.4" y="275.2"/><use href="#mx" x="63.4" y="12.2"/><use href="#md" x="68.3" y="76.3"/><use href="#mx" x="258.3" y="224.0"/><use href="#md" x="72.7" y="72.3"/><use href="#mx" x="202.8" y="120.4"/><use href="#mx" x="258.1" y="246.4"/><use href="#mx" x="109.1" y="81.1"/><use href="#mx" x="98.2" y="88.2"/><use href="#mx" x="204.9" y="123.8"/><use href="#md" x="144.7" y="87.5"/><use href="#mx" x="64.1" y="43.2"/><use href="#mx" x="261.0" y="265.2"/><use href="#mx" x="256.8" y="222.0"/><use href="#mx" x="263.5" y="286.8"/><use href="#mx" x="257.0" y="222.3"/><use href="#md" x="123.0" y="82.8"/><use href="#mx" x="260.1" y="253.5"/><use href="#md" x="188.2" y="110.5"/><use href="#md" x="87.4" y="80.8"/><use href="#mx" x="240.3" y="162.7"/><use href="#mx" x="267.9" y="303.3"/><use href="#md" x="229.1" y="138.5"/><use href="#md" x="241.0" y="157.4"/><use href="#mx" x="176.8" y="101.8"/><use href="#mx" x="214.5" y="142.0"/><use href="#md" x="126.2" y="78.7"/><use href="#mx" x="236.9" y="161.7"/><use href="#mx" x="155.6" y="90.8"/><use href="#mx" x="188.6" y="113.0"/><use href="#md" x="169.9" y="101.9"/><use href="#mx" x="262.5" y="286.4"/><use href="#md" x="179.6" y="103.0"/><use href="#mx" x="260.6" y="261.6"/><use href="#md" x="130.0" y="79.0"/><use href="#md" x="145.5" y="88.6"/><use href="#md" x="189.3" y="116.1"/><use href="#mx" x="259.1" y="235.7"/><use href="#mx" x="249.8" y="183.1"/><use href="#mx" x="240.9" y="161.6"/><use href="#mx" x="256.1" y="202.3"/><use href="#mx" x="226.5" y="145.0"/><use href="#mx" x="218.8" y="162.0"/><use href="#mx" x="245.5" y="179.7"/><use href="#mx" x="233.8" y="151.2"/><use href="#mx" x="260.6" y="250.1"/><use href="#mx" x="253.7" y="198.2"/><use href="#mx" x="256.3" y="211.0"/><use href="#mx" x="223.3" y="140.5"/><use href="#mx" x="237.2" y="153.6"/><use href="#mx" x="131.0" y="71.8"/><use href="#mx" x="251.3" y="189.5"/><use href="#md" x="59.5" y="70.4"/><use href="#mx" x="75.8" y="57.8"/><use href="#mx" x="255.8" y="224.5"/><use href="#mx" x="253.9" y="198.9"/><use href="#mx" x="256.3" y="206.7"/><use href="#mx" x="258.6" y="250.0"/><use href="#md" x="63.9" y="48.4"/><use href="#md" x="91.6" y="63.0"/><use href="#md" x="78.2" y="74.7"/><use href="#mx" x="203.8" y="123.8"/><use href="#mx" x="264.8" y="293.7"/><use href="#mx" x="266.1" y="298.8"/><use href="#mx" x="260.4" y="281.8"/><use href="#mx" x="116.6" y="69.2"/><use href="#mx" x="259.0" y="258.4"/><use href="#mx" x="198.4" y="123.6"/><use href="#mx" x="241.9" y="167.2"/><use href="#mx" x="262.5" y="277.1"/><use href="#md" x="229.7" y="146.4"/><use href="#mx" x="120.0" y="80.0"/><use href="#mx" x="181.7" y="110.0"/><use href="#mx" x="246.3" y="189.4"/><use href="#mx" x="222.1" y="141.1"/><use href="#mx" x="144.7" y="76.3"/><use href="#mx" x="228.5" y="144.6"/><use href="#mx" x="157.0" y="91.0"/><use href="#mx" x="242.0" y="169.8"/><use href="#mx" x="148.0" y="88.8"/><use href="#md" x="111.6" y="73.7"/><use href="#mx" x="71.2" y="41.9"/><use href="#mx" x="206.0" y="124.4"/><use href="#mx" x="257.3" y="226.9"/><use href="#md" x="109.5" y="86.1"/><use href="#mx" x="253.5" y="194.8"/><use href="#mx" x="248.5" y="182.2"/><use href="#mx" x="259.4" y="253.5"/><use href="#md" x="163.2" y="93.8"/><use href="#mx" x="260.1" y="273.7"/><use href="#mx" x="243.4" y="166.0"/><use href="#mx" x="250.1" y="187.7"/><use href="#mx" x="264.1" y="281.3"/><use href="#md" x="71.8" y="67.8"/><use href="#mx" x="221.9" y="137.0"/><use href="#mx" x="251.2" y="186.9"/><use href="#mx" x="259.6" y="268.0"/><use href="#mx" x="255.9" y="207.4"/><use href="#mx" x="97.3" y="60.0"/><use href="#mx" x="230.6" y="144.9"/><use href="#mx" x="234.3" y="153.4"/><use href="#mx" x="262.5" y="285.2"/><use href="#mx" x="62.5" y="36.2"/><use href="#mx" x="265.9" y="301.1"/><use href="#mx" x="252.8" y="193.3"/><use href="#mx" x="128.1" y="74.1"/><use href="#mx" x="260.0" y="241.2"/><use href="#mx" x="183.9" y="105.3"/><use href="#mx" x="236.8" y="158.8"/><use href="#mx" x="220.8" y="139.0"/><use href="#mx" x="63.1" y="61.1"/><use href="#mx" x="257.6" y="218.0"/><use href="#md" x="118.4" y="83.9"/><use href="#mx" x="262.7" y="279.6"/><use href="#mx" x="201.2" y="120.9"/><use href="#md" x="62.0" y="71.6"/><use href="#mx" x="60.2" y="55.3"/><use href="#mx" x="228.8" y="150.5"/><use href="#md" x="181.2" y="105.1"/><use href="#md" x="245.0" y="166.8"/><use href="#mx" x="227.4" y="144.9"/><use href="#md" x="228.5" y="141.8"/><use href="#mx" x="261.5" y="281.4"/><use href="#mx" x="236.1" y="163.5"/><use href="#md" x="127.4" y="79.6"/><use href="#mx" x="220.7" y="139.3"/><use href="#mx" x="258.3" y="230.4"/><use href="#mx" x="125.6" y="79.8"/><use href="#md" x="251.6" y="168.4"/><use href="#md" x="129.0" y="89.1"/><use href="#mx" x="153.5" y="85.6"/><use href="#mx" x="223.7" y="148.0"/><use href="#md" x="64.2" y="78.7"/><use href="#mx" x="264.0" y="289.7"/><use href="#mx" x="198.8" y="120.0"/><use href="#mx" x="108.2" y="64.6"/><use href="#mx" x="79.3" y="62.6"/><use href="#mx" x="261.7" y="266.8"/><use href="#md" x="60.0" y="80.3"/><use href="#mx" x="245.1" y="178.2"/><use href="#mx" x="248.3" y="178.9"/><use href="#mx" x="266.1" y="295.8"/><use href="#mx" x="224.1" y="141.8"/><use href="#mx" x="265.1" y="283.8"/><use href="#md" x="123.4" y="82.5"/><use href="#mx" x="253.9" y="208.5"/><use href="#mx" x="107.8" y="72.4"/><use href="#mx" x="240.3" y="166.7"/><use href="#mx" x="79.7" y="45.7"/><use href="#mx" x="143.8" y="75.6"/><use href="#md" x="235.1" y="144.6"/><use href="#md" x="117.5" y="88.5"/><use href="#mx" x="259.6" y="253.7"/><use href="#mx" x="152.4" y="86.4"/><use href="#mx" x="250.8" y="200.0"/><use href="#mx" x="244.8" y="179.3"/><use href="#md" x="64.9" y="68.5"/><use href="#mx" x="233.0" y="146.8"/><use href="#mx" x="258.7" y="231.7"/><use href="#mx" x="251.1" y="177.8"/><use href="#mx" x="168.2" y="97.5"/><use href="#mx" x="255.3" y="199.1"/><use href="#md" x="95.0" y="74.4"/><use href="#md" x="99.3" y="78.4"/><use href="#mx" x="255.2" y="207.7"/><use href="#mx" x="239.8" y="164.2"/><use href="#md" x="126.5" y="82.6"/><use href="#mx" x="186.0" y="105.1"/><use href="#md" x="191.7" y="113.2"/><use href="#md" x="95.8" y="74.0"/><use href="#mx" x="190.1" y="119.0"/><use href="#mx" x="261.5" y="277.9"/><use href="#mx" x="263.4" y="268.4"/><use href="#md" x="97.7" y="85.5"/><use href="#mx" x="75.9" y="44.0"/><use href="#md" x="70.6" y="67.9"/><use href="#md" x="111.1" y="79.2"/><use href="#mx" x="198.6" y="121.9"/><use href="#mx" x="261.5" y="278.7"/><use href="#mx" x="257.0" y="214.9"/><use href="#md" x="157.6" y="92.3"/><use href="#md" x="63.4" y="70.6"/><use href="#mx" x="252.7" y="205.3"/><use href="#md" x="236.3" y="147.8"/><use href="#mx" x="254.3" y="203.8"/><use href="#mx" x="254.3" y="204.4"/><use href="#mx" x="256.9" y="223.3"/><use href="#mx" x="62.9" y="66.8"/><use href="#mx" x="254.1" y="206.1"/><use href="#md" x="92.9" y="75.1"/><use href="#mx" x="266.7" y="291.7"/><use href="#mx" x="258.9" y="242.0"/><use href="#mx" x="255.4" y="210.6"/><use href="#mx" x="220.8" y="139.2"/><use href="#mx" x="260.2" y="254.2"/><use href="#md" x="67.4" y="69.7"/><use href="#mx" x="192.2" y="109.4"/><use href="#mx" x="164.2" y="89.9"/><use href="#mx" x="185.2" y="112.6"/><use href="#md" x="121.4" y="79.6"/><use href="#md" x="109.0" y="73.8"/><use href="#mx" x="228.8" y="154.0"/><use href="#mx" x="222.1" y="141.0"/><use href="#mx" x="253.6" y="200.4"/><use href="#mx" x="101.8" y="64.3"/><use href="#md" x="154.5" y="90.4"/><use href="#mx" x="208.2" y="133.3"/><use href="#mx" x="258.1" y="246.8"/><use href="#mx" x="226.0" y="144.9"/><use href="#md" x="107.4" y="85.9"/><use href="#mx" x="252.2" y="193.3"/><use href="#mx" x="235.3" y="153.0"/><use href="#mx" x="258.5" y="226.9"/><use href="#mx" x="257.4" y="226.0"/><use href="#mx" x="259.6" y="246.3"/><use href="#mx" x="257.3" y="220.0"/><use href="#mx" x="241.6" y="170.2"/><use href="#md" x="162.3" y="92.3"/><use href="#mx" x="181.8" y="107.4"/><use href="#mx" x="256.3" y="222.6"/><use href="#md" x="104.9" y="71.0"/><use href="#mx" x="260.0" y="223.9"/><use href="#mx" x="206.8" y="130.0"/><use href="#md" x="117.4" y="78.3"/><use href="#mx" x="232.1" y="150.0"/><use href="#mx" x="221.2" y="140.2"/><use href="#mx" x="261.8" y="256.2"/><use href="#mx" x="89.6" y="69.7"/><use href="#md" x="182.7" y="104.2"/><use href="#mx" x="248.1" y="192.4"/><use href="#mx" x="228.5" y="144.4"/><use href="#md" x="114.9" y="79.1"/><use href="#mx" x="255.1" y="206.4"/><use href="#mx" x="64.3" y="57.4"/><use href="#mx" x="254.2" y="195.0"/><use href="#mx" x="232.0" y="154.2"/><use href="#mx" x="205.5" y="129.2"/><use href="#mx" x="252.5" y="197.3"/><use href="#mx" x="224.9" y="142.5"/><use href="#mx" x="262.7" y="270.2"/><use href="#mx" x="258.5" y="261.4"/><use href="#mx" x="221.6" y="143.7"/><use href="#mx" x="268.8" y="299.2"/><use href="#mx" x="160.8" y="98.0"/><use href="#mx" x="237.6" y="153.4"/><use href="#mx" x="139.3" y="82.0"/><use href="#mx" x="224.5" y="145.7"/><use href="#mx" x="261.5" y="267.7"/><use href="#mx" x="248.8" y="176.7"/><use href="#md" x="133.5" y="93.8"/><use href="#mx" x="222.8" y="150.3"/><use href="#md" x="149.6" y="91.5"/><use href="#mx" x="263.5" y="287.5"/><use href="#mx" x="261.0" y="261.2"/><use href="#md" x="152.9" y="91.3"/><use href="#mx" x="246.4" y="169.0"/><use href="#md" x="227.8" y="144.1"/><use href="#md" x="70.2" y="69.7"/><use href="#md" x="85.2" y="67.3"/><use href="#md" x="83.0" y="75.5"/><use href="#mx" x="266.3" y="297.9"/><use href="#mx" x="262.1" y="253.0"/><use href="#mx" x="224.0" y="146.8"/><use href="#mx" x="227.0" y="141.3"/><use href="#md" x="113.6" y="84.1"/><use href="#mx" x="253.8" y="201.2"/><use href="#mx" x="259.3" y="238.9"/><use href="#mx" x="155.2" y="89.4"/><use href="#mx" x="148.9" y="80.1"/><use href="#md" x="61.5" y="80.7"/><use href="#md" x="68.8" y="80.7"/><use href="#mx" x="243.3" y="177.3"/><use href="#md" x="111.0" y="76.5"/><use href="#mx" x="268.0" y="306.2"/><use href="#md" x="234.7" y="157.0"/><use href="#md" x="193.2" y="113.1"/><use href="#mx" x="267.8" y="301.2"/><use href="#md" x="128.5" y="82.1"/><use href="#md" x="97.8" y="79.2"/><use href="#mx" x="207.4" y="129.8"/><use href="#mx" x="263.7" y="291.3"/><use href="#mx" x="255.9" y="221.2"/><use href="#mx" x="59.9" y="90.0"/><use href="#mx" x="244.6" y="173.0"/><use href="#md" x="87.0" y="80.9"/><use href="#mx" x="190.4" y="117.6"/><use href="#mx" x="84.8" y="60.6"/><use href="#md" x="168.3" y="98.3"/><use href="#mx" x="212.2" y="132.5"/><use href="#mx" x="236.9" y="159.5"/><use href="#mx" x="157.8" y="89.7"/><use href="#mx" x="256.6" y="209.2"/><use href="#md" x="221.9" y="136.8"/><use href="#mx" x="239.0" y="159.7"/><use href="#md" x="200.9" y="117.1"/><use href="#mx" x="214.4" y="131.8"/><use href="#mx" x="220.9" y="141.2"/><use href="#mx" x="215.3" y="135.7"/><use href="#mx" x="92.5" y="70.9"/><use href="#md" x="81.8" y="79.8"/><use href="#mx" x="261.9" y="292.0"/><use href="#mx" x="256.5" y="208.9"/><use href="#mx" x="260.7" y="268.0"/><use href="#mx" x="245.9" y="179.5"/><use href="#mx" x="259.0" y="247.1"/><use href="#mx" x="260.3" y="283.5"/><use href="#mx" x="92.7" y="63.0"/><use href="#mx" x="127.2" y="77.9"/><use href="#mx" x="159.1" y="94.4"/><use href="#mx" x="155.6" y="84.1"/><use href="#mx" x="206.2" y="127.2"/><use href="#md" x="239.7" y="154.5"/><use href="#mx" x="220.1" y="140.2"/><use href="#mx" x="258.1" y="249.5"/><use href="#mx" x="185.7" y="111.7"/><use href="#mx" x="217.3" y="135.6"/><use href="#mx" x="258.6" y="247.0"/><use href="#mx" x="253.2" y="194.3"/><use href="#mx" x="227.1" y="152.5"/><use href="#mx" x="256.7" y="236.3"/><use href="#mx" x="264.9" y="301.7"/><use href="#md" x="60.7" y="75.2"/><use href="#mx" x="186.6" y="116.6"/><use href="#mx" x="116.1" y="70.9"/><use href="#mx" x="244.5" y="180.0"/><use href="#mx" x="254.5" y="204.6"/><use href="#mx" x="255.4" y="209.9"/><use href="#mx" x="244.6" y="178.6"/><use href="#md" x="165.5" y="96.6"/><use href="#mx" x="114.6" y="74.3"/><use href="#mx" x="184.2" y="107.1"/><use href="#mx" x="61.7" y="58.7"/><use href="#mx" x="78.1" y="52.4"/><use href="#mx" x="268.9" y="302.5"/><use href="#md" x="154.7" y="97.0"/><use href="#mx" x="65.8" y="17.1"/><use href="#mx" x="230.2" y="148.8"/><use href="#mx" x="260.4" y="262.8"/><use href="#mx" x="267.4" y="301.6"/><use href="#mx" x="129.7" y="74.6"/><use href="#mx" x="265.1" y="294.0"/><use href="#mx" x="257.2" y="222.4"/><use href="#md" x="244.2" y="161.0"/><use href="#md" x="170.7" y="98.9"/><use href="#md" x="127.5" y="82.6"/><use href="#mx" x="261.9" y="237.8"/><use href="#mx" x="180.3" y="110.3"/><use href="#mx" x="170.9" y="95.4"/><use href="#mx" x="140.1" y="73.2"/><use href="#mx" x="269.6" y="300.8"/><use href="#mx" x="272.1" y="303.6"/><use href="#mx" x="264.8" y="289.9"/><use href="#mx" x="110.9" y="61.6"/><use href="#mx" x="140.2" y="76.7"/><use href="#mx" x="256.8" y="245.1"/><use href="#mx" x="175.8" y="99.6"/><use href="#mx" x="259.3" y="232.5"/><use href="#md" x="240.9" y="158.4"/><use href="#mx" x="155.3" y="88.2"/><use href="#mx" x="200.6" y="125.5"/><use href="#mx" x="260.9" y="267.2"/><use href="#md" x="119.4" y="85.6"/><use href="#mx" x="265.1" y="283.6"/><use href="#mx" x="263.9" y="274.8"/><use href="#mx" x="119.7" y="74.1"/><use href="#mx" x="83.2" y="47.2"/><use href="#md" x="97.6" y="81.2"/><use href="#mx" x="258.1" y="249.1"/><use href="#mx" x="244.0" y="179.2"/><use href="#md" x="153.1" y="93.9"/><use href="#md" x="129.3" y="83.0"/><use href="#mx" x="262.5" y="286.4"/><use href="#mx" x="241.7" y="165.6"/><use href="#mx" x="166.2" y="97.0"/><use href="#mx" x="265.7" y="299.6"/><use href="#md" x="130.7" y="81.6"/><use href="#mx" x="264.3" y="292.9"/><use href="#mx" x="265.8" y="295.1"/><use href="#mx" x="218.3" y="134.3"/><use href="#mx" x="218.3" y="139.1"/><use href="#mx" x="257.0" y="208.3"/><use href="#mx" x="123.5" y="75.7"/><use href="#mx" x="262.9" y="271.7"/><use href="#mx" x="261.6" y="239.6"/><use href="#mx" x="201.6" y="119.8"/><use href="#mx" x="260.0" y="252.5"/><use href="#md" x="229.0" y="141.5"/><use href="#mx" x="270.9" y="305.9"/><use href="#mx" x="235.0" y="200.0"/><use href="#md" x="148.4" y="87.0"/><use href="#md" x="118.3" y="76.5"/><use href="#mx" x="269.6" y="301.1"/><use href="#mx" x="193.3" y="114.3"/><use href="#mx" x="257.5" y="216.9"/><use href="#mx" x="144.6" y="87.9"/><use href="#mx" x="264.0" y="288.5"/><use href="#md" x="65.0" y="64.4"/><use href="#mx" x="243.8" y="175.3"/><use href="#mx" x="199.9" y="129.0"/><use href="#md" x="132.6" y="77.9"/><use href="#mx" x="258.9" y="263.7"/><use href="#mx" x="254.5" y="199.8"/><use href="#mx" x="234.8" y="158.8"/><use href="#mx" x="255.3" y="195.3"/><use href="#md" x="122.2" y="89.4"/><use href="#mx" x="260.7" y="261.8"/><use href="#mx" x="220.7" y="139.9"/><use href="#md" x="114.1" y="75.8"/><use href="#mx" x="80.6" y="101.0"/><use href="#mx" x="117.6" y="58.4"/><use href="#mx" x="264.6" y="287.8"/><use href="#mx" x="164.1" y="93.9"/><use href="#md" x="78.2" y="70.2"/><use href="#mx" x="219.4" y="141.5"/><use href="#mx" x="182.4" y="113.3"/><use href="#md" x="142.4" y="89.2"/><use href="#mx" x="86.0" y="50.1"/><use href="#mx" x="261.6" y="271.0"/><use href="#md" x="61.1" y="62.6"/><use href="#mx" x="119.0" y="75.3"/><use href="#mx" x="169.5" y="105.1"/><use href="#mx" x="262.9" y="279.7"/><use href="#md" x="176.4" y="103.3"/><use href="#mx" x="226.2" y="142.2"/><use href="#mx" x="158.1" y="81.6"/><use href="#md" x="89.0" y="73.1"/><use href="#mx" x="237.7" y="154.0"/><use href="#mx" x="259.0" y="232.2"/><use href="#mx" x="252.6" y="188.2"/><use href="#mx" x="195.3" y="117.7"/><use href="#mx" x="257.1" y="215.0"/><use href="#mx" x="59.3" y="74.9"/><use href="#mx" x="269.9" y="305.2"/><use href="#mx" x="233.9" y="153.6"/><use href="#mx" x="260.8" y="274.0"/><use href="#md" x="97.3" y="69.6"/><use href="#md" x="230.8" y="138.9"/><use href="#mx" x="181.3" y="107.8"/><use href="#mx" x="240.8" y="169.3"/><use href="#md" x="193.1" y="112.3"/><use href="#mx" x="218.6" y="143.2"/><use href="#md" x="228.8" y="138.6"/><use href="#mx" x="241.2" y="168.5"/><use href="#mx" x="259.9" y="246.5"/><use href="#mx" x="260.4" y="265.8"/><use href="#md" x="236.0" y="152.3"/><use href="#mx" x="237.8" y="156.5"/><use href="#mx" x="208.3" y="125.1"/><use href="#md" x="125.1" y="92.9"/><use href="#mx" x="111.3" y="69.6"/><use href="#mx" x="243.0" y="172.6"/><use href="#mx" x="141.2" y="68.9"/><use href="#mx" x="74.2" y="52.4"/><use href="#mx" x="263.4" y="281.0"/><use href="#mx" x="222.8" y="145.6"/><use href="#mx" x="257.1" y="242.0"/><use href="#mx" x="265.9" y="300.3"/><use href="#mx" x="62.9" y="71.5"/><use href="#mx" x="261.7" y="264.3"/><use href="#md" x="112.6" y="79.2"/><use href="#md" x="153.0" y="90.3"/><use href="#md" x="62.8" y="72.8"/><use href="#mx" x="205.0" y="131.9"/><use href="#mx" x="261.6" y="279.3"/><use href="#mx" x="256.3" y="204.4"/><use href="#mx" x="259.3" y="233.3"/><use href="#md" x="225.8" y="136.8"/><use href="#md" x="135.2" y="87.8"/><use href="#mx" x="158.0" y="87.2"/><use href="#mx" x="260.8" y="266.6"/><use href="#md" x="158.8" y="94.4"/><use href="#mx" x="252.8" y="199.1"/><use href="#mx" x="257.2" y="229.3"/><use href="#mx" x="184.2" y="103.0"/><use href="#mx" x="254.0" y="196.6"/><use href="#mx" x="113.8" y="67.5"/><use href="#mx" x="237.4" y="161.6"/><use href="#mx" x="134.8" y="76.8"/><use href="#mx" x="258.9" y="229.7"/><use href="#md" x="128.7" y="83.0"/><use href="#mx" x="206.0" y="125.4"/><use href="#mx" x="59.8" y="46.4"/><use href="#mx" x="245.7" y="175.0"/><use href="#mx" x="256.7" y="224.8"/><use href="#md" x="185.0" y="101.6"/><use href="#mx" x="230.0" y="145.3"/><use href="#mx" x="211.8" y="130.1"/><use href="#md" x="205.8" y="124.4"/><use href="#mx" x="259.8" y="236.7"/><use href="#mx" x="91.2" y="59.4"/><use href="#mx" x="256.5" y="199.1"/><use href="#mx" x="259.3" y="245.2"/><use href="#md" x="227.5" y="140.3"/><use href="#md" x="244.8" y="162.3"/><use href="#mx" x="137.1" y="80.4"/><use href="#mx" x="207.4" y="122.7"/><use href="#mx" x="261.1" y="260.4"/><use href="#mx" x="255.1" y="218.4"/><use href="#md" x="136.9" y="96.4"/><use href="#md" x="204.9" y="120.9"/><use href="#mx" x="260.8" y="269.9"/><use href="#mx" x="137.5" y="83.4"/><use href="#md" x="245.1" y="165.5"/><use href="#mx" x="157.9" y="87.4"/><use href="#mx" x="255.9" y="219.3"/><use href="#mx" x="260.1" y="244.7"/><use href="#md" x="198.9" y="121.3"/><use href="#mx" x="259.4" y="237.4"/><use href="#mx" x="247.1" y="180.4"/><use href="#mx" x="246.8" y="171.9"/><use href="#mx" x="218.3" y="138.7"/><use href="#mx" x="250.9" y="193.9"/><use href="#mx" x="162.0" y="94.4"/><use href="#mx" x="128.1" y="63.4"/><use href="#md" x="122.6" y="85.0"/><use href="#md" x="97.0" y="80.5"/><use href="#mx" x="264.2" y="294.9"/><use href="#mx" x="169.7" y="100.1"/><use href="#mx" x="262.1" y="274.1"/><use href="#md" x="170.4" y="98.1"/><use href="#mx" x="132.4" y="73.1"/><use href="#mx" x="260.5" y="237.2"/><use href="#mx" x="260.5" y="257.6"/><use href="#mx" x="174.8" y="103.8"/><use href="#md" x="146.7" y="90.6"/><use href="#mx" x="237.5" y="158.6"/><use href="#md" x="120.2" y="77.7"/><use href="#mx" x="205.9" y="130.9"/><use href="#mx" x="261.3" y="286.8"/><use href="#mx" x="255.6" y="199.8"/><use href="#md" x="149.1" y="86.2"/><use href="#mx" x="258.0" y="246.3"/><use href="#md" x="62.6" y="65.4"/><use href="#md" x="208.5" y="124.8"/><use href="#mx" x="268.4" y="306.6"/><use href="#mx" x="242.1" y="168.9"/><use href="#mx" x="261.9" y="252.8"/><use href="#mx" x="269.2" y="303.4"/><use href="#mx" x="183.4" y="112.6"/><use href="#mx" x="184.9" y="110.7"/><use href="#mx" x="247.4" y="178.1"/><use href="#mx" x="212.9" y="127.9"/><use href="#mx" x="267.4" y="300.7"/><use href="#mx" x="73.4" y="68.0"/><use href="#md" x="140.4" y="80.5"/><use href="#mx" x="234.7" y="151.8"/><use href="#mx" x="240.3" y="168.5"/><use href="#mx" x="221.6" y="141.6"/><use href="#mx" x="164.3" y="98.7"/><use href="#mx" x="238.7" y="160.4"/><use href="#md" x="245.9" y="169.9"/><use href="#mx" x="267.8" y="304.4"/><use href="#mx" x="261.8" y="259.1"/><use href="#md" x="218.4" y="130.3"/><use href="#md" x="161.4" y="95.5"/><use href="#mx" x="265.2" y="294.5"/><use href="#mx" x="60.1" y="54.7"/><use href="#mx" x="82.9" y="33.1"/><use href="#mx" x="254.5" y="204.6"/><use href="#mx" x="229.4" y="148.6"/><use href="#mx" x="179.7" y="106.1"/><use href="#mx" x="252.2" y="243.8"/><use href="#md" x="108.8" y="68.1"/><use href="#mx" x="184.5" y="110.3"/><use href="#mx" x="196.7" y="121.7"/><use href="#mx" x="112.5" y="47.0"/><use href="#mx" x="254.0" y="212.6"/><use href="#md" x="209.9" y="125.6"/><use href="#mx" x="234.2" y="151.8"/><use href="#md" x="218.0" y="133.6"/><use href="#md" x="63.1" y="81.5"/><use href="#mx" x="255.6" y="202.9"/><use href="#mx" x="245.9" y="178.9"/><use href="#mx" x="269.3" y="302.0"/><use href="#mx" x="266.9" y="300.3"/><use href="#mx" x="258.8" y="234.9"/><use href="#md" x="108.4" y="82.8"/><use href="#mx" x="243.5" y="170.8"/><use href="#mx" x="159.0" y="89.7"/><use href="#mx" x="101.5" y="67.9"/><use href="#mx" x="61.4" y="51.5"/><use href="#mx" x="262.2" y="265.4"/><use href="#mx" x="61.8" y="56.4"/><use href="#mx" x="253.2" y="198.9"/><use href="#md" x="85.8" y="78.1"/><use href="#mx" x="161.3" y="100.7"/><use href="#mx" x="258.8" y="217.5"/><use href="#md" x="217.9" y="127.2"/><use href="#mx" x="253.3" y="192.4"/><use href="#md" x="69.8" y="76.8"/><use href="#md" x="125.9" y="78.9"/><use href="#md" x="108.0" y="75.3"/><use href="#mx" x="254.6" y="208.0"/><use href="#md" x="98.0" y="82.0"/><use href="#mx" x="263.0" y="288.5"/><use href="#mx" x="259.4" y="249.9"/><use href="#md" x="239.7" y="150.9"/><use href="#md" x="247.4" y="168.7"/><use href="#mx" x="252.4" y="196.8"/><use href="#mx" x="272.2" y="306.4"/><use href="#mx" x="255.8" y="203.7"/><use href="#md" x="152.5" y="95.0"/><use href="#mx" x="262.6" y="281.6"/><use href="#md" x="80.0" y="90.8"/><use href="#mx" x="264.1" y="287.0"/><use href="#mx" x="250.0" y="184.9"/><use href="#mx" x="262.6" y="291.8"/><use href="#mx" x="152.0" y="85.0"/><use href="#mx" x="257.8" y="221.8"/><use href="#md" x="225.1" y="137.7"/><use href="#mx" x="239.0" y="165.5"/><use href="#mx" x="258.4" y="238.9"/><use href="#mx" x="114.0" y="59.7"/><use href="#mx" x="261.3" y="265.2"/><use href="#md" x="209.2" y="123.4"/><use href="#mx" x="238.1" y="158.9"/><use href="#md" x="142.9" y="91.5"/><use href="#mx" x="174.8" y="101.5"/><use href="#mx" x="121.5" y="73.4"/><use href="#md" x="171.8" y="100.0"/><use href="#mx" x="217.6" y="140.5"/><use href="#mx" x="251.4" y="189.0"/><use href="#mx" x="251.0" y="190.2"/><use href="#mx" x="75.0" y="20.9"/><use href="#mx" x="175.4" y="101.8"/><use href="#mx" x="261.0" y="262.8"/><use href="#mx" x="265.8" y="298.9"/><use href="#mx" x="268.1" y="296.4"/><use href="#mx" x="249.5" y="179.3"/><use href="#mx" x="256.4" y="214.1"/><use href="#mx" x="63.0" y="58.5"/><use href="#mx" x="244.6" y="175.3"/><use href="#md" x="92.0" y="69.1"/><use href="#mx" x="254.2" y="200.2"/><use href="#md" x="225.1" y="143.9"/><use href="#mx" x="258.8" y="243.8"/><use href="#mx" x="264.5" y="290.5"/><use href="#mx" x="218.3" y="139.8"/><use href="#mx" x="216.6" y="134.0"/><use href="#mx" x="251.6" y="184.8"/><use href="#mx" x="62.0" y="57.2"/><use href="#md" x="98.2" y="81.9"/><use href="#mx" x="265.0" y="300.2"/><use href="#mx" x="151.1" y="85.1"/><use href="#mx" x="255.9" y="212.9"/><use href="#mx" x="268.0" y="304.4"/><use href="#mx" x="62.1" y="67.4"/><use href="#md" x="97.7" y="81.0"/><use href="#mx" x="60.5" y="55.7"/><use href="#md" x="131.5" y="83.5"/><use href="#mx" x="260.6" y="265.1"/><use href="#mx" x="227.2" y="138.6"/><use href="#mx" x="260.4" y="264.1"/><use href="#mx" x="262.4" y="296.4"/><use href="#mx" x="172.4" y="96.0"/><use href="#md" x="176.9" y="100.4"/><use href="#mx" x="257.1" y="227.6"/><use href="#mx" x="140.1" y="72.8"/><use href="#mx" x="134.0" y="79.1"/><use href="#mx" x="259.5" y="236.8"/><use href="#mx" x="147.2" y="85.0"/><use href="#mx" x="246.6" y="174.0"/><use href="#mx" x="236.3" y="161.0"/><use href="#mx" x="257.3" y="208.0"/><use href="#mx" x="214.9" y="131.3"/><use href="#mx" x="117.2" y="69.0"/><use href="#md" x="65.3" y="82.7"/><use href="#mx" x="271.2" y="302.2"/><use href="#mx" x="176.7" y="105.2"/><use href="#mx" x="201.6" y="125.1"/><use href="#mx" x="260.6" y="237.8"/><use href="#mx" x="253.0" y="193.2"/><use href="#mx" x="225.4" y="146.3"/><use href="#mx" x="126.9" y="71.1"/><use href="#mx" x="114.6" y="78.5"/><use href="#mx" x="257.0" y="237.5"/><use href="#md" x="69.8" y="70.8"/><use href="#mx" x="225.4" y="145.7"/><use href="#mx" x="218.3" y="142.0"/><use href="#md" x="147.3" y="89.3"/><use href="#mx" x="121.5" y="77.6"/><use href="#mx" x="61.7" y="51.7"/><use href="#mx" x="235.3" y="148.6"/><use href="#md" x="80.3" y="72.7"/><use href="#md" x="68.9" y="84.7"/><use href="#mx" x="249.3" y="185.1"/><use href="#mx" x="261.0" y="261.6"/><use href="#mx" x="240.4" y="166.0"/><use href="#mx" x="179.7" y="106.5"/><use href="#mx" x="262.1" y="249.7"/><use href="#mx" x="211.8" y="133.9"/><use href="#mx" x="238.0" y="164.0"/><use href="#md" x="242.0" y="161.2"/><use href="#mx" x="262.1" y="257.1"/><use href="#md" x="90.4" y="69.8"/><use href="#mx" x="163.4" y="93.8"/><use href="#mx" x="256.8" y="220.2"/><use href="#mx" x="257.5" y="240.7"/><use href="#mx" x="258.8" y="224.8"/><use href="#mx" x="227.4" y="151.7"/><use href="#mx" x="106.3" y="64.0"/><use href="#mx" x="200.3" y="123.1"/><use href="#mx" x="221.2" y="137.9"/><use href="#mx" x="185.0" y="106.5"/><use href="#mx" x="260.1" y="239.2"/><use href="#mx" x="220.3" y="140.4"/><use href="#mx" x="257.0" y="207.4"/><use href="#mx" x="251.8" y="195.7"/><use href="#mx" x="200.6" y="122.8"/><use href="#mx" x="84.1" y="63.2"/><use href="#mx" x="250.7" y="188.3"/><use href="#mx" x="266.5" y="295.9"/><use href="#mx" x="261.1" y="250.2"/><use href="#mx" x="139.0" y="80.0"/><use href="#mx" x="234.2" y="151.0"/><use href="#mx" x="187.2" y="109.5"/><use href="#mx" x="246.3" y="167.7"/><use href="#md" x="100.4" y="82.0"/><use href="#mx" x="260.3" y="255.5"/><use href="#mx" x="217.8" y="135.0"/><use href="#md" x="131.2" y="85.4"/><use href="#mx" x="220.0" y="140.3"/><use href="#mx" x="164.0" y="95.7"/><use href="#md" x="234.4" y="146.6"/><use href="#mx" x="177.2" y="107.0"/><use href="#mx" x="260.2" y="236.6"/><use href="#mx" x="236.8" y="163.9"/><use href="#mx" x="71.5" y="47.6"/><use href="#md" x="191.1" y="108.0"/><use href="#mx" x="189.4" y="112.6"/><use href="#md" x="114.7" y="81.1"/><use href="#md" x="228.3" y="136.1"/><use href="#mx" x="124.2" y="85.6"/><use href="#mx" x="62.0" y="8.7"/><use href="#mx" x="200.2" y="123.4"/><use href="#mx" x="218.0" y="141.0"/><use href="#md" x="156.9" y="89.7"/><use href="#md" x="105.4" y="73.0"/><use href="#md" x="60.6" y="58.2"/><use href="#mx" x="229.6" y="138.7"/><use href="#mx" x="196.8" y="122.4"/><use href="#mx" x="258.3" y="234.2"/><use href="#mx" x="260.3" y="263.8"/><use href="#mx" x="250.0" y="179.6"/><use href="#mx" x="267.4" y="298.8"/><use href="#mx" x="259.9" y="247.4"/><use href="#mx" x="268.1" y="298.2"/><use href="#mx" x="218.3" y="134.6"/><use href="#md" x="212.3" y="126.6"/><use href="#mx" x="256.7" y="201.3"/><use href="#mx" x="233.2" y="152.1"/><use href="#mx" x="251.5" y="192.1"/><use href="#md" x="86.0" y="76.0"/><use href="#mx" x="221.9" y="141.8"/><use href="#md" x="60.7" y="79.4"/><use href="#mx" x="239.8" y="168.2"/><use href="#mx" x="132.5" y="54.9"/><use href="#mx" x="191.2" y="117.7"/><use href="#mx" x="250.3" y="187.2"/><use href="#md" x="240.7" y="158.7"/><use href="#mx" x="254.0" y="196.7"/><use href="#mx" x="262.8" y="266.5"/><use href="#md" x="87.3" y="79.2"/><use href="#md" x="145.0" y="90.9"/><use href="#mx" x="259.0" y="228.8"/><use href="#mx" x="245.0" y="172.1"/><use href="#mx" x="136.5" y="86.4"/><use href="#mx" x="239.4" y="164.5"/><use href="#mx" x="255.4" y="204.5"/><use href="#mx" x="267.8" y="298.2"/><use href="#mx" x="208.5" y="129.1"/><use href="#mx" x="184.8" y="112.9"/><use href="#mx" x="267.7" y="302.0"/><use href="#mx" x="137.4" y="78.3"/><use href="#mx" x="262.1" y="275.9"/><use href="#md" x="165.9" y="95.5"/><use href="#mx" x="238.4" y="165.0"/><use href="#mx" x="245.3" y="177.5"/><use href="#mx" x="246.6" y="184.8"/><use href="#mx" x="258.9" y="261.2"/><use href="#mx" x="156.0" y="94.6"/><use href="#mx" x="99.6" y="59.2"/><use href="#mx" x="93.5" y="56.0"/><use href="#md" x="165.0" y="96.6"/><use href="#mx" x="78.6" y="61.9"/><use href="#mx" x="257.5" y="208.1"/><use href="#mx" x="262.6" y="280.0"/><use href="#md" x="73.2" y="78.6"/><use href="#mx" x="260.1" y="255.4"/><use href="#mx" x="224.7" y="145.1"/><use href="#mx" x="255.5" y="203.0"/><use href="#md" x="64.1" y="70.6"/><use href="#mx" x="74.4" y="64.0"/><use href="#mx" x="234.0" y="158.2"/><use href="#mx" x="71.5" y="73.3"/><use href="#mx" x="257.2" y="213.5"/><use href="#md" x="164.1" y="95.8"/><use href="#mx" x="121.7" y="54.2"/><use href="#mx" x="263.6" y="288.4"/><use href="#md" x="62.7" y="45.3"/><use href="#mx" x="138.1" y="79.2"/><use href="#mx" x="185.5" y="118.8"/><use href="#mx" x="265.1" y="290.2"/><use href="#mx" x="232.0" y="151.6"/><use href="#mx" x="260.8" y="237.8"/><use href="#mx" x="180.1" y="107.4"/><use href="#mx" x="239.8" y="162.9"/><use href="#mx" x="169.7" y="92.4"/><use href="#md" x="94.5" y="73.6"/><use href="#mx" x="258.0" y="218.2"/><use href="#mx" x="227.2" y="143.6"/><use href="#mx" x="244.3" y="172.5"/><use href="#mx" x="59.1" y="47.8"/><use href="#mx" x="65.1" y="43.8"/><use href="#mx" x="162.3" y="90.9"/><use href="#mx" x="261.3" y="249.8"/><use href="#mx" x="89.4" y="66.6"/><use href="#mx" x="263.5" y="289.7"/><use href="#mx" x="261.3" y="265.0"/><use href="#mx" x="259.9" y="225.6"/><use href="#mx" x="253.6" y="200.7"/><use href="#mx" x="256.5" y="233.7"/><use href="#mx" x="192.3" y="116.2"/><use href="#mx" x="258.4" y="216.5"/><use href="#mx" x="64.9" y="67.5"/><use href="#mx" x="251.0" y="190.4"/><use href="#mx" x="161.9" y="93.5"/><use href="#mx" x="165.0" y="96.6"/><use href="#md" x="126.7" y="76.8"/><use href="#mx" x="237.1" y="158.7"/><use href="#md" x="245.1" y="167.2"/><use href="#mx" x="261.3" y="273.0"/><use href="#mx" x="184.3" y="107.6"/><use href="#md" x="217.0" y="130.2"/><use href="#mx" x="84.6" y="63.1"/><use href="#mx" x="254.1" y="199.9"/><use href="#mx" x="263.9" y="277.2"/><use href="#md" x="201.9" y="117.2"/><use href="#mx" x="177.7" y="107.3"/><use href="#mx" x="61.6" y="55.5"/><use href="#mx" x="240.8" y="169.0"/><use href="#md" x="118.0" y="65.0"/><use href="#mx" x="65.1" y="56.3"/><use href="#md" x="61.4" y="69.1"/><use href="#md" x="113.0" y="76.1"/><use href="#mx" x="247.9" y="188.3"/><use href="#mx" x="248.3" y="184.7"/><use href="#mx" x="216.7" y="136.3"/><use href="#md" x="66.9" y="75.2"/><use href="#mx" x="213.2" y="132.7"/><use href="#mx" x="237.8" y="165.8"/><use href="#mx" x="269.5" y="304.7"/><use href="#mx" x="263.6" y="286.0"/><use href="#mx" x="264.8" y="299.5"/><use href="#mx" x="247.5" y="179.1"/><use href="#mx" x="259.6" y="223.2"/><use href="#mx" x="264.5" y="293.7"/><use href="#mx" x="259.9" y="252.3"/><use href="#md" x="208.2" y="122.4"/><use href="#mx" x="258.4" y="265.7"/><use href="#mx" x="252.3" y="195.9"/><use href="#mx" x="260.2" y="238.5"/><use href="#mx" x="258.8" y="244.7"/><use href="#mx" x="261.7" y="288.9"/><use href="#md" x="84.0" y="77.0"/><use href="#mx" x="262.4" y="268.3"/><use href="#mx" x="267.7" y="305.8"/><use href="#md" x="166.9" y="97.6"/><use href="#mx" x="182.2" y="105.1"/><use href="#mx" x="239.9" y="171.8"/><use href="#mx" x="246.7" y="179.6"/><use href="#mx" x="197.7" y="120.8"/><use href="#mx" x="243.6" y="172.9"/><use href="#mx" x="232.4" y="158.7"/><use href="#mx" x="244.6" y="176.1"/><use href="#mx" x="256.9" y="221.0"/><use href="#mx" x="233.8" y="156.3"/><use href="#mx" x="259.2" y="242.2"/><use href="#mx" x="135.5" y="76.6"/><use href="#mx" x="201.2" y="124.5"/><use href="#md" x="180.6" y="106.7"/><use href="#md" x="113.0" y="74.7"/><use href="#mx" x="134.0" y="72.1"/><use href="#mx" x="211.4" y="135.9"/><use href="#mx" x="133.3" y="80.6"/><use href="#mx" x="258.8" y="238.0"/><use href="#mx" x="239.7" y="169.4"/><use href="#mx" x="132.6" y="79.9"/><use href="#mx" x="215.5" y="134.5"/><use href="#md" x="208.1" y="123.9"/><use href="#md" x="61.3" y="74.1"/><use href="#mx" x="240.9" y="168.1"/><use href="#mx" x="225.4" y="147.2"/><use href="#mx" x="242.2" y="171.1"/><use href="#mx" x="234.4" y="152.2"/><use href="#mx" x="159.4" y="99.3"/><use href="#mx" x="247.2" y="177.0"/><use href="#mx" x="239.4" y="165.5"/><use href="#mx" x="169.9" y="100.6"/><use href="#mx" x="213.0" y="131.6"/><use href="#md" x="61.2" y="67.6"/><use href="#mx" x="259.4" y="257.2"/><use href="#md" x="144.5" y="82.0"/><use href="#mx" x="228.0" y="143.7"/><use href="#mx" x="268.5" y="303.5"/><use href="#mx" x="245.9" y="172.1"/><use href="#mx" x="187.5" y="111.5"/><use href="#mx" x="261.3" y="267.8"/><use href="#mx" x="155.6" y="83.7"/><use href="#md" x="246.0" y="170.4"/><use href="#mx" x="246.0" y="165.8"/><use href="#mx" x="261.0" y="257.7"/><use href="#md" x="105.3" y="75.1"/><use href="#mx" x="241.4" y="165.5"/><use href="#mx" x="266.9" y="297.1"/><use href="#mx" x="176.3" y="105.2"/><use href="#md" x="81.7" y="70.8"/><use href="#mx" x="261.5" y="254.2"/><use href="#mx" x="244.1" y="172.6"/><use href="#mx" x="261.5" y="275.3"/><use href="#mx" x="239.1" y="164.5"/><use href="#mx" x="169.7" y="100.6"/><use href="#mx" x="261.7" y="276.7"/><use href="#md" x="172.8" y="97.8"/><use href="#mx" x="192.1" y="114.9"/><use href="#mx" x="258.1" y="225.0"/><use href="#mx" x="263.8" y="287.1"/><use href="#mx" x="242.8" y="167.1"/><use href="#mx" x="63.7" y="40.7"/><use href="#mx" x="199.1" y="122.2"/><use href="#mx" x="154.4" y="94.2"/><use href="#md" x="201.3" y="120.6"/><use href="#mx" x="253.0" y="203.5"/><use href="#mx" x="258.2" y="244.1"/><use href="#mx" x="228.8" y="147.6"/><use href="#mx" x="208.9" y="131.1"/><use href="#md" x="75.2" y="69.7"/><use href="#mx" x="260.5" y="232.2"/><use href="#mx" x="163.8" y="96.9"/><use href="#md" x="60.2" y="66.6"/><use href="#mx" x="112.0" y="70.3"/><use href="#mx" x="246.0" y="174.5"/><use href="#mx" x="183.4" y="112.4"/><use href="#mx" x="246.6" y="175.2"/><use href="#md" x="235.7" y="151.1"/><use href="#mx" x="137.6" y="71.8"/><use href="#mx" x="253.4" y="201.0"/><use href="#md" x="133.9" y="80.6"/><use href="#mx" x="255.1" y="212.7"/><use href="#mx" x="103.4" y="68.9"/><use href="#mx" x="264.1" y="282.8"/><use href="#mx" x="254.0" y="213.5"/><use href="#mx" x="211.8" y="133.9"/><use href="#mx" x="256.7" y="221.1"/><use href="#mx" x="123.8" y="83.2"/><use href="#mx" x="97.8" y="67.1"/><use href="#md" x="69.0" y="68.6"/><use href="#mx" x="232.7" y="156.4"/><use href="#mx" x="259.9" y="263.0"/><use href="#mx" x="265.1" y="302.6"/><use href="#mx" x="259.6" y="253.3"/><use href="#mx" x="262.1" y="278.3"/><use href="#mx" x="267.2" y="297.1"/><use href="#mx" x="118.1" y="69.0"/><use href="#mx" x="186.4" y="114.2"/><use href="#mx" x="182.7" y="108.6"/><use href="#mx" x="242.3" y="172.8"/><use href="#mx" x="253.0" y="200.3"/><use href="#md" x="108.2" y="84.7"/><use href="#mx" x="221.1" y="137.4"/><use href="#mx" x="256.3" y="220.7"/><use href="#mx" x="262.0" y="266.4"/><use href="#mx" x="149.8" y="90.7"/><use href="#md" x="235.1" y="147.9"/><use href="#mx" x="264.9" y="291.3"/><use href="#mx" x="262.7" y="269.5"/><use href="#mx" x="69.4" y="71.4"/><use href="#md" x="185.6" y="108.8"/><use href="#mx" x="253.6" y="212.5"/><use href="#md" x="95.3" y="75.0"/><use href="#mx" x="80.9" y="43.9"/><use href="#mx" x="254.5" y="210.4"/><use href="#md" x="234.8" y="146.9"/><use href="#md" x="104.1" y="74.5"/><use href="#mx" x="260.0" y="254.2"/><use href="#mx" x="243.0" y="162.9"/><use href="#mx" x="262.5" y="289.4"/><use href="#md" x="147.6" y="93.0"/><use href="#mx" x="255.9" y="216.6"/><use href="#mx" x="265.8" y="296.4"/><use href="#mx" x="248.1" y="183.4"/><use href="#mx" x="262.1" y="267.5"/><use href="#mx" x="122.7" y="74.7"/><use href="#mx" x="259.2" y="257.3"/><use href="#mx" x="220.6" y="141.0"/><use href="#md" x="90.6" y="78.2"/><use href="#mx" x="167.9" y="94.7"/><use href="#mx" x="146.4" y="78.9"/><use href="#mx" x="197.0" y="121.2"/><use href="#md" x="62.0" y="47.3"/><use href="#mx" x="139.2" y="89.0"/><use href="#mx" x="239.5" y="167.6"/><use href="#mx" x="144.8" y="84.7"/><use href="#mx" x="243.7" y="166.3"/><use href="#mx" x="267.3" y="296.3"/><use href="#mx" x="112.0" y="68.2"/><use href="#mx" x="243.4" y="168.6"/><use href="#md" x="93.2" y="76.0"/><use href="#mx" x="267.0" y="295.8"/><use href="#mx" x="228.8" y="147.7"/><use href="#mx" x="270.5" y="306.2"/><use href="#md" x="61.5" y="63.9"/><use href="#mx" x="263.6" y="292.4"/><use href="#mx" x="202.1" y="127.9"/><use href="#mx" x="249.1" y="182.0"/><use href="#mx" x="229.9" y="154.4"/><use href="#mx" x="261.5" y="270.3"/><use href="#mx" x="139.9" y="70.5"/><use href="#mx" x="260.1" y="258.1"/><use href="#md" x="152.1" y="92.1"/><use href="#mx" x="65.0" y="56.8"/><use href="#mx" x="255.3" y="201.6"/><use href="#mx" x="180.7" y="103.3"/><use href="#mx" x="246.8" y="173.9"/><use href="#md" x="238.4" y="155.0"/><use href="#mx" x="182.6" y="112.4"/><use href="#mx" x="256.4" y="237.8"/><use href="#mx" x="258.5" y="236.7"/><use href="#md" x="151.0" y="88.8"/><use href="#mx" x="173.2" y="101.7"/><use href="#mx" x="254.4" y="204.7"/><use href="#mx" x="259.2" y="256.2"/><use href="#mx" x="186.4" y="110.8"/><use href="#mx" x="259.9" y="253.1"/><use href="#mx" x="258.9" y="238.5"/><use href="#mx" x="183.1" y="107.2"/><use href="#mx" x="249.0" y="178.2"/><use href="#md" x="216.2" y="125.3"/><use href="#mx" x="232.1" y="157.7"/><use href="#mx" x="112.4" y="70.5"/><use href="#md" x="161.5" y="97.3"/><use href="#mx" x="141.7" y="86.9"/><use href="#mx" x="121.4" y="72.1"/><use href="#mx" x="213.2" y="130.8"/><use href="#mx" x="260.3" y="261.1"/><use href="#mx" x="258.6" y="249.0"/><use href="#md" x="118.9" y="72.0"/><use href="#mx" x="168.3" y="102.8"/><use href="#mx" x="252.5" y="198.0"/><use href="#mx" x="257.5" y="234.7"/><use href="#mx" x="254.3" y="205.9"/><use href="#mx" x="251.3" y="196.3"/><use href="#mx" x="261.8" y="271.1"/><use href="#mx" x="98.9" y="66.0"/><use href="#mx" x="227.6" y="149.6"/><use href="#md" x="200.4" y="122.1"/><use href="#mx" x="261.1" y="256.3"/><use href="#md" x="90.7" y="73.5"/><use href="#mx" x="62.1" y="49.8"/><use href="#mx" x="211.4" y="132.9"/><use href="#mx" x="256.6" y="225.8"/><use href="#mx" x="261.9" y="275.2"/><use href="#mx" x="265.3" y="296.8"/><use href="#mx" x="168.2" y="95.5"/><use href="#md" x="92.3" y="78.9"/><use href="#mx" x="62.6" y="62.2"/><use href="#mx" x="256.0" y="222.5"/><use href="#mx" x="140.7" y="72.3"/><use href="#mx" x="148.3" y="79.9"/><use href="#mx" x="257.3" y="231.8"/><use href="#mx" x="232.4" y="155.8"/><use href="#mx" x="249.9" y="186.7"/><use href="#mx" x="141.1" y="84.5"/><use href="#mx" x="93.5" y="55.2"/><use href="#mx" x="112.8" y="67.2"/><use href="#mx" x="267.8" y="302.5"/><use href="#mx" x="253.7" y="195.9"/><use href="#md" x="126.7" y="78.1"/><use href="#mx" x="256.0" y="214.6"/><use href="#mx" x="236.4" y="156.5"/><use href="#mx" x="253.7" y="199.9"/><use href="#mx" x="258.8" y="244.4"/><use href="#mx" x="268.9" y="304.8"/><use href="#mx" x="263.6" y="286.8"/><use href="#mx" x="271.7" y="303.5"/><use href="#mx" x="200.2" y="126.0"/><use href="#mx" x="219.9" y="133.0"/><use href="#md" x="62.3" y="78.4"/><use href="#mx" x="89.7" y="63.2"/><use href="#mx" x="257.0" y="228.1"/><use href="#mx" x="229.6" y="148.3"/><use href="#mx" x="61.9" y="53.1"/><use href="#mx" x="176.5" y="99.2"/><use href="#mx" x="223.1" y="142.0"/><use href="#md" x="117.1" y="77.6"/><use href="#mx" x="247.9" y="180.9"/><use href="#md" x="176.2" y="100.3"/><use href="#mx" x="62.8" y="55.0"/><use href="#mx" x="252.6" y="197.1"/><use href="#mx" x="266.8" y="299.3"/><use href="#mx" x="259.6" y="239.9"/><use href="#md" x="78.3" y="64.9"/><use href="#mx" x="165.7" y="99.2"/><use href="#mx" x="245.5" y="170.0"/><use href="#md" x="132.1" y="85.7"/><use href="#md" x="64.5" y="80.6"/><use href="#mx" x="61.4" y="56.5"/><use href="#mx" x="258.3" y="214.4"/><use href="#mx" x="172.8" y="102.5"/><use href="#mx" x="64.1" y="60.1"/><use href="#mx" x="237.5" y="162.2"/><use href="#mx" x="235.6" y="157.0"/><use href="#md" x="168.8" y="100.1"/><use href="#md" x="64.2" y="72.6"/><use href="#mx" x="125.0" y="76.1"/><use href="#mx" x="240.8" y="164.5"/><use href="#md" x="62.9" y="67.4"/><use href="#mx" x="59.7" y="38.0"/><use href="#mx" x="237.3" y="164.7"/><use href="#md" x="59.4" y="49.1"/><use href="#mx" x="248.9" y="183.3"/><use href="#mx" x="244.1" y="165.6"/><use href="#mx" x="222.4" y="140.8"/><use href="#mx" x="192.9" y="119.8"/><use href="#mx" x="257.0" y="256.1"/><use href="#mx" x="258.5" y="264.3"/><use href="#mx" x="247.1" y="183.1"/><use href="#mx" x="247.6" y="180.2"/><use href="#mx" x="261.1" y="248.6"/><use href="#mx" x="214.0" y="133.5"/><use href="#mx" x="259.9" y="230.5"/><use href="#mx" x="240.7" y="170.2"/><use href="#mx" x="262.7" y="288.5"/><use href="#mx" x="248.8" y="184.8"/><use href="#mx" x="254.9" y="214.3"/><use href="#mx" x="234.2" y="153.4"/><use href="#mx" x="96.4" y="58.5"/><use href="#mx" x="241.7" y="165.2"/><use href="#mx" x="259.2" y="237.7"/><use href="#mx" x="259.7" y="254.8"/><use href="#mx" x="156.1" y="86.4"/><use href="#mx" x="263.8" y="276.9"/><use href="#mx" x="74.7" y="91.6"/><use href="#mx" x="170.3" y="97.8"/><use href="#mx" x="242.0" y="168.0"/><use href="#mx" x="260.8" y="238.9"/><use href="#mx" x="124.9" y="82.8"/><use href="#mx" x="162.7" y="98.7"/><use href="#mx" x="213.6" y="131.3"/><use href="#mx" x="113.3" y="67.7"/><use href="#mx" x="195.6" y="119.4"/><use href="#mx" x="221.7" y="143.0"/><use href="#mx" x="238.1" y="156.4"/><use href="#mx" x="141.1" y="81.2"/><use href="#mx" x="266.4" y="300.9"/><use href="#mx" x="77.5" y="67.2"/><use href="#mx" x="213.1" y="135.4"/><use href="#mx" x="263.3" y="282.3"/><use href="#mx" x="252.2" y="193.3"/><use href="#mx" x="259.7" y="245.8"/><use href="#mx" x="263.0" y="271.4"/><use href="#mx" x="218.9" y="136.3"/><use href="#mx" x="254.7" y="209.9"/><use href="#mx" x="262.0" y="277.6"/><use href="#mx" x="257.9" y="239.0"/><use href="#mx" x="150.4" y="84.6"/><use href="#mx" x="251.4" y="181.0"/><use href="#mx" x="260.1" y="262.9"/><use href="#mx" x="142.7" y="82.6"/><use href="#mx" x="263.9" y="293.3"/><use href="#mx" x="260.0" y="280.4"/><use href="#mx" x="203.7" y="121.7"/><use href="#mx" x="229.9" y="147.6"/><use href="#mx" x="232.3" y="152.0"/><use href="#mx" x="233.4" y="152.6"/><use href="#mx" x="64.6" y="53.7"/><use href="#mx" x="233.4" y="157.7"/><use href="#mx" x="148.6" y="87.6"/><use href="#mx" x="258.0" y="227.7"/><use href="#mx" x="259.3" y="249.5"/><use href="#mx" x="227.2" y="145.7"/><use href="#mx" x="261.9" y="284.4"/><use href="#mx" x="251.8" y="191.9"/><use href="#mx" x="259.5" y="250.6"/><use href="#mx" x="257.6" y="218.4"/><use href="#mx" x="162.5" y="93.3"/><use href="#mx" x="238.5" y="158.7"/><use href="#mx" x="61.8" y="59.5"/><use href="#mx" x="216.9" y="134.0"/><use href="#mx" x="237.5" y="161.2"/><use href="#mx" x="223.0" y="144.1"/><use href="#mx" x="260.4" y="240.6"/><use href="#mx" x="262.3" y="269.6"/><use href="#mx" x="240.7" y="164.7"/><use href="#mx" x="259.5" y="252.6"/><use href="#mx" x="263.3" y="293.7"/><use href="#mx" x="262.9" y="286.0"/><use href="#mx" x="174.0" y="104.2"/><use href="#mx" x="235.5" y="157.1"/><use href="#mx" x="256.2" y="217.5"/><use href="#mx" x="262.3" y="251.4"/><use href="#mx" x="185.6" y="110.0"/><use href="#mx" x="166.7" y="89.8"/><use href="#mx" x="242.1" y="171.3"/><use href="#mx" x="169.9" y="102.7"/><use href="#mx" x="234.0" y="156.7"/><use href="#mx" x="246.5" y="179.9"/><use href="#mx" x="146.7" y="87.5"/><use href="#mx" x="258.9" y="257.7"/><use href="#mx" x="255.7" y="226.2"/><use href="#mx" x="235.4" y="152.0"/><use href="#mx" x="230.2" y="145.0"/><use href="#mx" x="252.8" y="193.8"/><use href="#mx" x="108.7" y="64.5"/><use href="#mx" x="256.4" y="209.6"/><use href="#mx" x="186.8" y="109.0"/><use href="#mx" x="266.7" y="305.2"/><use href="#mx" x="261.8" y="267.1"/><use href="#mx" x="252.4" y="194.3"/><use href="#mx" x="260.7" y="280.3"/><use href="#mx" x="222.0" y="140.4"/><use href="#mx" x="215.4" y="134.9"/><use href="#mx" x="258.3" y="214.8"/><use href="#mx" x="257.6" y="231.7"/><use href="#mx" x="259.8" y="263.7"/><use href="#mx" x="162.7" y="95.9"/><use href="#mx" x="157.3" y="93.0"/><use href="#mx" x="187.1" y="110.5"/><use href="#mx" x="193.9" y="113.6"/><use href="#mx" x="262.5" y="284.7"/><use href="#mx" x="145.1" y="77.0"/><use href="#mx" x="88.0" y="61.0"/><use href="#mx" x="198.5" y="118.3"/><use href="#mx" x="238.6" y="164.2"/><use href="#mx" x="267.5" y="299.8"/><use href="#mx" x="158.6" y="85.6"/><use href="#mx" x="263.3" y="288.1"/><use href="#mx" x="263.3" y="288.7"/><use href="#mx" x="102.0" y="83.7"/><use href="#mx" x="260.4" y="268.5"/><use href="#mx" x="62.5" y="66.1"/><use href="#mx" x="166.6" y="94.7"/><use href="#mx" x="260.5" y="271.9"/><use href="#mx" x="267.2" y="293.8"/><use href="#mx" x="239.2" y="156.8"/><use href="#mx" x="267.2" y="299.9"/><use href="#mx" x="130.6" y="79.0"/><use href="#mx" x="236.1" y="153.2"/><use href="#mx" x="257.2" y="208.2"/><use href="#mx" x="264.0" y="294.1"/><use href="#mx" x="263.6" y="281.9"/><use href="#mx" x="257.4" y="221.6"/><use href="#mx" x="178.2" y="104.0"/><use href="#mx" x="255.1" y="211.0"/><use href="#mx" x="271.2" y="303.2"/><use href="#mx" x="220.6" y="138.0"/><use href="#mx" x="78.5" y="30.5"/><use href="#mx" x="76.8" y="67.6"/><use href="#mx" x="256.2" y="212.5"/><use href="#mx" x="256.2" y="235.2"/><use href="#mx" x="259.0" y="244.3"/><use href="#mx" x="218.6" y="139.6"/><use href="#mx" x="243.7" y="169.3"/><use href="#mx" x="259.6" y="244.9"/><use href="#mx" x="253.1" y="208.4"/><use href="#mx" x="262.1" y="287.4"/><use href="#mx" x="170.2" y="90.8"/><use href="#mx" x="210.8" y="132.0"/><use href="#mx" x="220.8" y="141.3"/><use href="#mx" x="238.6" y="161.8"/><use href="#mx" x="257.7" y="216.2"/><use href="#mx" x="250.1" y="186.6"/><use href="#mx" x="125.3" y="69.8"/><use href="#mx" x="228.5" y="147.6"/><use href="#mx" x="242.6" y="174.1"/><use href="#mx" x="257.3" y="216.3"/><use href="#mx" x="104.6" y="60.7"/><use href="#mx" x="156.4" y="89.1"/><use href="#mx" x="259.1" y="263.7"/><use href="#mx" x="172.6" y="100.9"/><use href="#mx" x="63.0" y="47.7"/><use href="#mx" x="258.3" y="241.9"/><use href="#mx" x="145.7" y="83.1"/><use href="#mx" x="254.5" y="210.1"/><use href="#mx" x="64.1" y="37.3"/><use href="#mx" x="249.4" y="187.8"/><use href="#mx" x="265.7" y="300.8"/><use href="#mx" x="248.9" y="194.5"/><use href="#mx" x="230.0" y="152.3"/><use href="#mx" x="174.6" y="107.2"/><use href="#mx" x="257.1" y="214.2"/><use href="#mx" x="271.5" y="305.2"/><use href="#mx" x="152.0" y="86.1"/><use href="#mx" x="91.6" y="60.2"/><use href="#mx" x="162.2" y="93.9"/><use href="#mx" x="251.3" y="195.7"/><use href="#mx" x="212.9" y="130.1"/><use href="#mx" x="243.2" y="170.9"/><use href="#mx" x="242.1" y="159.6"/><use href="#mx" x="257.9" y="214.6"/><use href="#mx" x="242.4" y="170.7"/><use href="#mx" x="246.3" y="177.8"/><use href="#mx" x="268.9" y="301.8"/><use href="#mx" x="130.7" y="72.2"/><use href="#mx" x="247.0" y="181.2"/><use href="#mx" x="260.2" y="245.6"/><use href="#mx" x="132.3" y="76.8"/><use href="#mx" x="259.9" y="275.0"/><use href="#mx" x="241.0" y="171.2"/><use href="#mx" x="252.8" y="199.9"/><use href="#mx" x="120.4" y="74.3"/><use href="#mx" x="63.1" y="47.4"/><use href="#mx" x="248.3" y="182.1"/><use href="#mx" x="262.4" y="289.1"/><use href="#mx" x="264.4" y="281.8"/><use href="#mx" x="260.1" y="262.2"/><use href="#mx" x="250.5" y="181.3"/><use href="#mx" x="249.8" y="195.0"/><use href="#mx" x="90.4" y="46.2"/><use href="#mx" x="95.5" y="71.2"/><use href="#mx" x="225.2" y="143.1"/><use href="#mx" x="249.1" y="182.5"/><use href="#mx" x="199.0" y="119.1"/><use href="#mx" x="256.3" y="204.7"/><use href="#mx" x="71.7" y="67.8"/><use href="#mx" x="159.9" y="78.7"/><use href="#mx" x="263.0" y="287.0"/><use href="#mx" x="231.3" y="157.2"/><use href="#mx" x="149.3" y="86.5"/><use href="#mx" x="262.2" y="283.6"/><use href="#mx" x="252.0" y="197.2"/><use href="#mx" x="221.0" y="142.4"/><use href="#mx" x="106.1" y="70.0"/><use href="#mx" x="261.5" y="266.7"/><use href="#mx" x="204.3" y="125.1"/><use href="#mx" x="244.8" y="167.6"/><use href="#mx" x="260.0" y="243.9"/><use href="#mx" x="258.7" y="234.5"/><use href="#mx" x="86.1" y="59.1"/><use href="#mx" x="165.2" y="101.1"/><use href="#mx" x="260.7" y="277.5"/><use href="#mx" x="259.9" y="266.8"/><use href="#mx" x="168.9" y="96.2"/><use href="#mx" x="241.7" y="169.8"/><use href="#mx" x="205.5" y="126.4"/><use href="#mx" x="165.0" y="88.2"/><use href="#mx" x="271.9" y="304.4"/><use href="#mx" x="60.1" y="56.3"/><use href="#mx" x="258.4" y="227.9"/><use href="#mx" x="218.7" y="139.1"/><use href="#mx" x="65.2" y="56.0"/><use href="#mx" x="247.9" y="183.4"/><use href="#mx" x="258.4" y="243.7"/><use href="#mx" x="260.4" y="256.0"/><use href="#mx" x="247.8" y="188.8"/><use href="#mx" x="258.6" y="230.7"/><use href="#mx" x="259.1" y="252.2"/><use href="#mx" x="159.9" y="90.6"/><use href="#mx" x="180.2" y="107.0"/><use href="#mx" x="59.8" y="54.5"/><use href="#mx" x="237.3" y="158.8"/><use href="#mx" x="223.1" y="140.6"/><use href="#mx" x="231.3" y="153.7"/><use href="#mx" x="250.8" y="189.7"/><use href="#mx" x="259.1" y="244.2"/><use href="#mx" x="125.3" y="68.0"/><use href="#mx" x="253.5" y="199.9"/><use href="#mx" x="129.0" y="81.6"/><use href="#mx" x="256.2" y="212.2"/><use href="#mx" x="255.6" y="197.2"/><use href="#mx" x="255.3" y="197.9"/><use href="#mx" x="257.6" y="230.3"/><use href="#mx" x="88.9" y="65.2"/><use href="#mx" x="140.0" y="76.4"/><use href="#mx" x="122.0" y="63.8"/><use href="#mx" x="258.1" y="225.7"/><use href="#mx" x="251.7" y="198.7"/><use href="#mx" x="257.3" y="226.8"/><use href="#mx" x="233.5" y="152.9"/><use href="#mx" x="262.7" y="284.0"/><use href="#mx" x="201.9" y="125.8"/><use href="#mx" x="253.6" y="216.2"/><use href="#mx" x="185.8" y="106.6"/><use href="#mx" x="157.0" y="87.8"/><use href="#mx" x="268.5" y="306.5"/><use href="#mx" x="255.8" y="215.9"/><use href="#mx" x="202.5" y="122.6"/><use href="#mx" x="266.2" y="293.7"/><use href="#mx" x="106.7" y="75.0"/><use href="#mx" x="238.9" y="165.3"/><use href="#mx" x="261.4" y="270.8"/><use href="#mx" x="257.4" y="230.4"/><use href="#mx" x="250.9" y="191.9"/><use href="#mx" x="260.1" y="247.4"/><use href="#mx" x="135.6" y="93.7"/><use href="#mx" x="59.3" y="40.0"/><use href="#mx" x="81.7" y="62.2"/><use href="#mx" x="169.4" y="103.3"/><use href="#mx" x="256.7" y="218.4"/><use href="#mx" x="118.0" y="76.3"/><use href="#mx" x="257.8" y="213.8"/><use href="#mx" x="168.7" y="101.9"/><use href="#mx" x="261.0" y="267.6"/><use href="#mx" x="129.6" y="66.7"/><use href="#mx" x="237.7" y="165.8"/><use href="#mx" x="263.0" y="277.0"/><use href="#mx" x="261.7" y="282.5"/><use href="#mx" x="63.9" y="48.9"/><use href="#mx" x="238.5" y="161.5"/><use href="#mx" x="260.3" y="275.6"/><use href="#mx" x="259.1" y="243.9"/><use href="#mx" x="255.0" y="213.9"/><use href="#mx" x="257.1" y="231.4"/><use href="#mx" x="245.3" y="177.6"/><use href="#mx" x="261.6" y="242.4"/><use href="#mx" x="259.4" y="246.5"/><use href="#mx" x="114.8" y="79.7"/><use href="#mx" x="111.3" y="78.2"/><use href="#mx" x="205.5" y="130.1"/><use href="#mx" x="245.4" y="172.8"/><use href="#mx" x="183.4" y="110.8"/><use href="#mx" x="158.3" y="92.6"/><use href="#mx" x="263.1" y="275.3"/><use href="#mx" x="255.1" y="197.6"/><use href="#mx" x="249.9" y="190.0"/><use href="#mx" x="235.8" y="148.6"/><use href="#mx" x="256.7" y="227.1"/><use href="#mx" x="264.7" y="290.8"/><use href="#mx" x="244.0" y="179.1"/><use href="#mx" x="64.2" y="45.2"/><use href="#mx" x="256.7" y="216.4"/><use href="#mx" x="230.2" y="149.7"/><use href="#mx" x="216.6" y="134.4"/><use href="#mx" x="166.1" y="91.9"/><use href="#mx" x="112.4" y="68.1"/><use href="#mx" x="201.7" y="126.9"/><use href="#mx" x="255.6" y="201.9"/><use href="#mx" x="251.3" y="192.7"/><use href="#mx" x="125.5" y="72.7"/><use href="#mx" x="258.2" y="228.3"/><use href="#mx" x="246.6" y="173.2"/><use href="#mx" x="259.6" y="216.0"/><use href="#mx" x="195.0" y="118.7"/><use href="#mx" x="252.5" y="213.0"/><use href="#mx" x="257.9" y="221.8"/><use href="#mx" x="259.6" y="243.4"/><use href="#mx" x="190.4" y="112.8"/><use href="#mx" x="267.2" y="299.6"/><use href="#mx" x="224.0" y="140.9"/><use href="#mx" x="232.6" y="153.9"/><use href="#mx" x="254.7" y="193.0"/><use href="#mx" x="246.9" y="183.9"/><use href="#mx" x="235.5" y="153.6"/><use href="#mx" x="221.1" y="142.6"/><use href="#mx" x="81.0" y="64.6"/><use href="#mx" x="260.9" y="271.5"/><use href="#mx" x="156.6" y="94.9"/><use href="#mx" x="244.0" y="179.9"/><use href="#mx" x="258.1" y="225.9"/><use href="#mx" x="201.8" y="124.6"/><use href="#mx" x="221.2" y="140.3"/><use href="#mx" x="250.9" y="184.4"/><use href="#mx" x="254.1" y="195.8"/><use href="#mx" x="123.9" y="74.0"/><use href="#mx" x="210.7" y="130.5"/><use href="#mx" x="221.8" y="142.7"/><use href="#mx" x="260.1" y="259.2"/><use href="#mx" x="264.0" y="292.2"/><use href="#mx" x="59.5" y="56.8"/><use href="#mx" x="215.6" y="134.3"/><use href="#mx" x="156.8" y="83.8"/><use href="#mx" x="257.4" y="232.3"/><use href="#mx" x="235.7" y="154.7"/><use href="#mx" x="137.4" y="80.2"/><use href="#mx" x="263.7" y="282.2"/><use href="#mx" x="98.0" y="66.1"/><use href="#mx" x="263.9" y="280.9"/><use href="#mx" x="91.9" y="59.5"/><use href="#mx" x="248.0" y="181.7"/><use href="#mx" x="247.7" y="178.1"/><use href="#mx" x="78.7" y="43.4"/><use href="#mx" x="143.1" y="79.3"/><use href="#mx" x="234.6" y="153.9"/><use href="#mx" x="258.2" y="245.5"/><use href="#mx" x="263.3" y="278.8"/><use href="#mx" x="157.7" y="82.8"/><use href="#mx" x="236.9" y="159.3"/><use href="#mx" x="258.6" y="216.4"/><use href="#mx" x="225.1" y="141.2"/><use href="#mx" x="248.2" y="186.3"/><use href="#mx" x="258.3" y="248.0"/><use href="#mx" x="139.0" y="69.1"/><use href="#mx" x="245.7" y="176.3"/><use href="#mx" x="269.5" y="303.8"/><use href="#mx" x="143.2" y="86.6"/><use href="#mx" x="235.2" y="156.0"/><use href="#mx" x="84.9" y="60.2"/><use href="#mx" x="214.1" y="139.1"/><use href="#mx" x="244.3" y="172.2"/><use href="#mx" x="109.5" y="78.3"/><use href="#mx" x="214.5" y="136.2"/><use href="#mx" x="123.9" y="73.9"/><use href="#mx" x="142.9" y="86.3"/><use href="#mx" x="250.1" y="178.1"/><use href="#mx" x="120.5" y="73.9"/><use href="#mx" x="236.1" y="158.5"/><use href="#mx" x="208.3" y="130.0"/><use href="#mx" x="260.5" y="262.8"/><use href="#mx" x="261.1" y="275.3"/><use href="#mx" x="174.1" y="105.8"/><use href="#mx" x="237.5" y="161.5"/><use href="#mx" x="106.7" y="74.3"/><use href="#mx" x="241.0" y="170.8"/><use href="#mx" x="261.5" y="254.1"/><use href="#mx" x="261.0" y="259.1"/><use href="#mx" x="259.5" y="229.6"/><use href="#mx" x="153.5" y="88.2"/><use href="#mx" x="270.7" y="305.4"/><use href="#mx" x="243.3" y="166.2"/><use href="#mx" x="263.8" y="279.0"/><use href="#mx" x="254.7" y="226.6"/><use href="#mx" x="258.4" y="237.4"/><use href="#mx" x="268.7" y="299.2"/><use href="#mx" x="238.1" y="161.2"/><use href="#mx" x="258.3" y="240.2"/><use href="#mx" x="226.3" y="142.4"/><use href="#mx" x="258.6" y="258.7"/><use href="#mx" x="125.3" y="76.4"/><use href="#mx" x="266.6" y="294.4"/><use href="#mx" x="258.7" y="242.1"/><use href="#mx" x="146.0" y="84.6"/><use href="#mx" x="264.4" y="285.3"/><use href="#mx" x="267.9" y="300.7"/><use href="#mx" x="266.3" y="304.2"/><use href="#mx" x="265.4" y="285.9"/><use href="#mx" x="261.7" y="285.2"/><use href="#mx" x="159.9" y="88.7"/><use href="#mx" x="256.8" y="214.2"/><use href="#mx" x="205.6" y="129.1"/><use href="#mx" x="256.4" y="225.3"/><use href="#mx" x="259.0" y="255.0"/><use href="#mx" x="256.8" y="203.9"/><use href="#mx" x="262.1" y="293.3"/><use href="#mx" x="175.3" y="106.5"/><use href="#mx" x="260.7" y="247.2"/><use href="#mx" x="256.0" y="233.2"/><use href="#mx" x="173.7" y="104.1"/><use href="#mx" x="262.5" y="271.0"/><use href="#mx" x="253.8" y="204.5"/><use href="#mx" x="255.2" y="211.8"/><use href="#mx" x="244.5" y="171.6"/><use href="#mx" x="120.8" y="78.6"/><use href="#mx" x="151.2" y="80.3"/><use href="#mx" x="258.1" y="220.5"/><use href="#mx" x="92.3" y="71.4"/><use href="#mx" x="120.1" y="61.5"/><use href="#mx" x="192.4" y="115.3"/><use href="#mx" x="226.0" y="136.7"/><use href="#mx" x="252.2" y="196.5"/><use href="#mx" x="243.4" y="168.8"/><use href="#mx" x="221.9" y="136.7"/><use href="#mx" x="251.6" y="180.8"/><use href="#mx" x="255.3" y="205.5"/><use href="#mx" x="245.2" y="165.8"/><use href="#mx" x="256.7" y="213.5"/><use href="#mx" x="256.2" y="203.9"/><use href="#mx" x="215.8" y="129.5"/><use href="#mx" x="229.0" y="154.9"/><use href="#mx" x="271.5" y="304.2"/><use href="#mx" x="236.9" y="157.7"/><use href="#mx" x="251.6" y="187.5"/><use href="#mx" x="257.9" y="215.2"/><use href="#mx" x="260.4" y="240.6"/><use href="#mx" x="262.6" y="263.4"/><use href="#mx" x="259.9" y="245.4"/><use href="#mx" x="251.5" y="205.5"/><use href="#mx" x="173.7" y="99.1"/><use href="#mx" x="240.5" y="171.1"/><use href="#mx" x="264.8" y="295.2"/><use href="#mx" x="259.0" y="264.2"/><use href="#mx" x="258.2" y="227.0"/><use href="#mx" x="93.8" y="60.1"/><use href="#mx" x="172.6" y="106.3"/><use href="#mx" x="260.6" y="270.6"/><use href="#mx" x="161.6" y="92.0"/><use href="#mx" x="259.6" y="251.9"/><use href="#mx" x="269.7" y="302.8"/><use href="#mx" x="240.8" y="169.5"/><use href="#mx" x="257.9" y="215.0"/><use href="#mx" x="159.3" y="89.5"/><use href="#mx" x="113.5" y="76.5"/><use href="#mx" x="162.5" y="97.9"/><use href="#mx" x="76.1" y="82.3"/><use href="#mx" x="256.4" y="209.5"/><use href="#mx" x="244.1" y="168.5"/><use href="#mx" x="256.5" y="217.2"/><use href="#mx" x="232.9" y="158.4"/><use href="#mx" x="260.4" y="266.5"/><use href="#mx" x="263.7" y="273.8"/><use href="#mx" x="262.0" y="260.6"/><use href="#mx" x="180.3" y="110.0"/><use href="#mx" x="203.9" y="128.6"/><use href="#mx" x="264.1" y="270.0"/><use href="#mx" x="255.2" y="219.3"/><use href="#mx" x="194.0" y="119.6"/><use href="#mx" x="263.6" y="294.5"/><use href="#mx" x="244.5" y="173.2"/><use href="#mx" x="259.4" y="236.6"/><use href="#mx" x="240.0" y="167.3"/><use href="#mx" x="231.0" y="146.9"/><use href="#mx" x="239.6" y="157.6"/><use href="#mx" x="261.2" y="264.7"/><use href="#mx" x="253.8" y="188.6"/><use href="#mx" x="250.9" y="190.0"/><use href="#mx" x="125.6" y="64.0"/><use href="#mx" x="86.4" y="39.2"/><use href="#mx" x="181.9" y="109.1"/><use href="#mx" x="239.3" y="162.4"/><use href="#mx" x="252.0" y="190.4"/><use href="#mx" x="269.3" y="303.2"/><use href="#mx" x="240.2" y="160.7"/><use href="#mx" x="233.4" y="152.5"/><use href="#mx" x="262.5" y="287.6"/><use href="#mx" x="261.5" y="264.2"/><use href="#mx" x="254.8" y="203.3"/><use href="#mx" x="212.0" y="127.0"/><use href="#mx" x="243.1" y="172.2"/><use href="#mx" x="182.8" y="111.3"/><use href="#mx" x="132.5" y="76.9"/><use href="#mx" x="259.2" y="267.4"/><use href="#mx" x="209.7" y="131.1"/><use href="#mx" x="258.5" y="233.0"/><use href="#mx" x="261.7" y="273.3"/><use href="#mx" x="158.7" y="91.8"/><use href="#mx" x="256.0" y="211.5"/><use href="#mx" x="65.2" y="52.2"/><use href="#mx" x="258.3" y="226.9"/><use href="#mx" x="245.0" y="174.8"/><use href="#mx" x="173.1" y="108.8"/><use href="#mx" x="83.9" y="62.0"/><use href="#mx" x="261.5" y="273.6"/><use href="#mx" x="254.5" y="206.3"/><use href="#mx" x="258.5" y="208.9"/><use href="#mx" x="100.5" y="63.6"/><use href="#mx" x="198.6" y="119.5"/><use href="#mx" x="233.4" y="152.7"/><use href="#mx" x="263.3" y="284.9"/><use href="#mx" x="260.1" y="257.1"/><use href="#mx" x="253.2" y="201.1"/><use href="#mx" x="260.3" y="224.4"/><use href="#mx" x="202.9" y="124.9"/><use href="#mx" x="263.1" y="290.2"/><use href="#mx" x="269.6" y="303.8"/><use href="#mx" x="250.7" y="187.1"/><use href="#mx" x="245.9" y="172.4"/><use href="#mx" x="91.8" y="57.6"/><use href="#mx" x="159.0" y="91.0"/><use href="#mx" x="255.3" y="218.9"/><use href="#mx" x="266.2" y="300.7"/><use href="#mx" x="181.8" y="109.5"/><use href="#mx" x="166.1" y="103.5"/><use href="#mx" x="235.8" y="158.4"/><use href="#mx" x="253.1" y="192.2"/><use href="#mx" x="216.5" y="133.7"/><use href="#mx" x="149.6" y="84.8"/><use href="#mx" x="264.9" y="289.5"/><use href="#mx" x="65.4" y="67.7"/><use href="#mx" x="270.7" y="305.3"/><use href="#mx" x="171.5" y="100.1"/><use href="#mx" x="258.2" y="242.3"/><use href="#mx" x="244.1" y="170.0"/><use href="#mx" x="229.1" y="150.4"/><use href="#mx" x="266.1" y="300.9"/><use href="#mx" x="248.9" y="183.3"/><use href="#mx" x="264.7" y="294.7"/><use href="#mx" x="243.9" y="174.5"/><use href="#mx" x="226.0" y="139.5"/><use href="#mx" x="232.7" y="154.9"/><use href="#mx" x="259.1" y="223.5"/><use href="#mx" x="237.0" y="155.8"/><use href="#mx" x="254.4" y="198.9"/><use href="#mx" x="243.5" y="172.2"/><use href="#mx" x="96.8" y="64.9"/><use href="#mx" x="252.9" y="191.7"/><use href="#mx" x="251.6" y="186.6"/><use href="#mx" x="260.2" y="263.4"/><use href="#mx" x="258.7" y="213.9"/><use href="#mx" x="262.5" y="273.5"/><use href="#mx" x="61.1" y="17.4"/><use href="#mx" x="269.3" y="301.3"/><use href="#mx" x="253.7" y="201.8"/><use href="#mx" x="105.2" y="67.5"/><use href="#mx" x="251.0" y="192.3"/><use href="#mx" x="122.8" y="72.5"/><use href="#mx" x="250.8" y="187.3"/><use href="#mx" x="70.1" y="77.4"/><use href="#mx" x="267.0" y="294.9"/><use href="#mx" x="250.2" y="182.9"/><use href="#mx" x="255.0" y="207.2"/><use href="#mx" x="261.2" y="279.7"/><use href="#mx" x="261.9" y="274.2"/><use href="#mx" x="263.8" y="286.6"/><use href="#mx" x="232.0" y="145.9"/><use href="#mx" x="151.2" y="87.1"/><use href="#mx" x="253.7" y="203.7"/><use href="#mx" x="264.7" y="294.2"/><use href="#mx" x="219.0" y="140.7"/><use href="#mx" x="259.2" y="250.0"/><use href="#mx" x="223.4" y="144.4"/><use href="#mx" x="95.5" y="55.0"/><use href="#mx" x="87.3" y="47.6"/><use href="#mx" x="245.9" y="180.1"/><use href="#mx" x="223.2" y="139.0"/><use href="#mx" x="209.5" y="133.7"/><use href="#mx" x="247.8" y="177.9"/><use href="#mx" x="256.2" y="217.3"/><use href="#mx" x="229.3" y="149.6"/><use href="#mx" x="267.3" y="300.5"/><use href="#mx" x="256.3" y="204.6"/><use href="#mx" x="258.1" y="235.8"/><use href="#mx" x="262.6" y="283.4"/><use href="#mx" x="178.7" y="109.5"/><use href="#mx" x="200.8" y="141.4"/><use href="#mx" x="264.6" y="295.1"/><use href="#mx" x="177.6" y="106.5"/><use href="#mx" x="264.5" y="288.8"/><use href="#mx" x="256.9" y="223.9"/><use href="#mx" x="78.2" y="65.0"/><use href="#mx" x="197.2" y="125.7"/><use href="#mx" x="263.5" y="272.4"/><use href="#mx" x="219.6" y="138.2"/><use href="#mx" x="216.7" y="134.1"/><use href="#mx" x="83.4" y="54.7"/><use href="#mx" x="259.1" y="249.0"/><use href="#mx" x="229.4" y="153.4"/><use href="#mx" x="265.0" y="299.1"/><use href="#mx" x="219.2" y="139.8"/><use href="#mx" x="61.2" y="60.7"/><use href="#mx" x="256.7" y="237.2"/><use href="#mx" x="90.9" y="67.8"/><use href="#mx" x="260.4" y="239.6"/><use href="#mx" x="250.5" y="191.8"/><use href="#mx" x="221.0" y="134.8"/><use href="#mx" x="263.2" y="282.6"/><use href="#mx" x="250.5" y="184.6"/><use href="#mx" x="118.6" y="48.8"/><use href="#mx" x="105.5" y="52.3"/><use href="#mx" x="223.7" y="140.3"/><use href="#mx" x="263.8" y="271.4"/><use href="#mx" x="270.3" y="304.7"/><use href="#mx" x="124.2" y="81.8"/><use href="#mx" x="260.1" y="266.3"/><use href="#mx" x="270.9" y="302.8"/><use href="#mx" x="255.4" y="217.1"/><use href="#mx" x="260.5" y="259.5"/><use href="#mx" x="258.3" y="262.1"/><use href="#mx" x="132.6" y="86.0"/><use href="#mx" x="253.9" y="210.3"/><use href="#mx" x="261.6" y="263.6"/><use href="#mx" x="177.4" y="105.4"/><use href="#mx" x="258.0" y="237.9"/><use href="#mx" x="261.3" y="263.3"/><use href="#mx" x="260.5" y="239.2"/><use href="#mx" x="251.7" y="192.4"/><use href="#mx" x="228.1" y="147.7"/><use href="#mx" x="92.4" y="59.8"/><use href="#mx" x="259.1" y="226.7"/><use href="#mx" x="177.1" y="108.6"/><use href="#mx" x="258.4" y="219.7"/><use href="#mx" x="262.3" y="270.5"/><use href="#mx" x="154.0" y="88.5"/><use href="#mx" x="192.3" y="116.9"/><use href="#mx" x="132.8" y="63.2"/><use href="#mx" x="251.2" y="191.6"/><use href="#mx" x="256.7" y="225.2"/><use href="#mx" x="225.9" y="148.0"/><use href="#mx" x="238.4" y="163.9"/><use href="#mx" x="216.1" y="135.6"/><use href="#mx" x="181.1" y="110.9"/><use href="#mx" x="218.1" y="139.3"/><use href="#mx" x="262.4" y="268.1"/><use href="#mx" x="258.0" y="229.4"/><use href="#mx" x="113.9" y="68.2"/><use href="#mx" x="268.0" y="306.9"/><use href="#mx" x="257.5" y="220.6"/><use href="#mx" x="108.2" y="63.4"/><use href="#mx" x="258.1" y="266.5"/><use href="#mx" x="231.6" y="157.4"/><use href="#mx" x="228.2" y="144.0"/><use href="#mx" x="260.5" y="267.4"/><use href="#mx" x="64.3" y="34.0"/><use href="#mx" x="264.8" y="275.1"/><use href="#mx" x="243.3" y="171.1"/><use href="#mx" x="193.3" y="120.7"/><use href="#mx" x="223.6" y="138.9"/><use href="#mx" x="268.1" y="306.1"/><use href="#mx" x="258.2" y="257.8"/><use href="#mx" x="164.1" y="100.8"/><use href="#mx" x="251.5" y="190.9"/><use href="#mx" x="231.9" y="152.7"/><use href="#mx" x="168.1" y="98.6"/><use href="#mx" x="99.3" y="67.5"/><use href="#mx" x="217.1" y="139.3"/><use href="#mx" x="183.4" y="109.8"/><use href="#mx" x="265.3" y="291.9"/><use href="#mx" x="248.6" y="181.9"/><use href="#mx" x="60.8" y="77.4"/><use href="#mx" x="253.9" y="197.2"/><use href="#mx" x="209.1" y="130.6"/><use href="#mx" x="256.4" y="195.9"/><use href="#mx" x="177.7" y="101.5"/><use href="#mx" x="245.6" y="180.9"/><use href="#mx" x="260.3" y="264.8"/><use href="#mx" x="151.4" y="89.9"/><use href="#mx" x="258.7" y="231.0"/><use href="#mx" x="251.5" y="195.2"/><use href="#mx" x="263.8" y="283.7"/><use href="#mx" x="266.6" y="300.3"/><use href="#mx" x="239.5" y="165.0"/><use href="#mx" x="261.6" y="266.2"/><use href="#mx" x="255.7" y="219.2"/><use href="#mx" x="225.8" y="133.7"/><use href="#mx" x="253.4" y="195.2"/><use href="#mx" x="256.6" y="220.5"/><use href="#mx" x="74.7" y="47.8"/><use href="#mx" x="187.8" y="111.1"/><use href="#mx" x="256.1" y="216.7"/><use href="#mx" x="81.1" y="51.8"/><use href="#mx" x="238.6" y="165.3"/><use href="#mx" x="235.8" y="156.2"/><use href="#mx" x="251.4" y="189.7"/><use href="#mx" x="121.3" y="73.2"/><use href="#mx" x="249.1" y="183.7"/><use href="#mx" x="62.9" y="52.8"/><use href="#mx" x="260.3" y="277.4"/><use href="#mx" x="158.6" y="100.0"/></g></g>
<g clip-path="url(#cr)"><g><use href="#md" x="588.0" y="300.0"/><use href="#md" x="553.6" y="227.5"/><use href="#md" x="395.5" y="64.5"/><use href="#md" x="575.0" y="261.6"/><use href="#md" x="399.9" y="85.7"/><use href="#md" x="576.1" y="264.1"/><use href="#md" x="576.8" y="269.6"/><use href="#md" x="402.8" y="65.3"/><use href="#md" x="581.0" y="272.0"/><use href="#md" x="420.7" y="71.0"/><use href="#md" x="554.2" y="228.6"/><use href="#md" x="411.2" y="89.0"/><use href="#md" x="541.6" y="214.3"/><use href="#md" x="409.9" y="57.8"/><use href="#md" x="405.4" y="80.1"/><use href="#md" x="577.8" y="269.4"/><use href="#md" x="489.0" y="148.6"/><use href="#md" x="540.4" y="213.0"/><use href="#md" x="498.3" y="160.9"/><use href="#md" x="552.5" y="229.5"/><use href="#md" x="409.9" y="61.1"/><use href="#md" x="546.8" y="229.0"/><use href="#md" x="519.6" y="189.6"/><use href="#md" x="488.1" y="138.5"/><use href="#md" x="528.0" y="192.4"/><use href="#md" x="406.3" y="80.4"/><use href="#md" x="527.5" y="193.2"/><use href="#md" x="562.4" y="244.4"/><use href="#md" x="533.1" y="199.9"/><use href="#md" x="497.6" y="162.1"/><use href="#md" x="406.7" y="59.3"/><use href="#md" x="557.6" y="235.6"/><use href="#md" x="420.6" y="66.9"/><use href="#md" x="518.2" y="185.4"/><use href="#md" x="406.9" y="67.0"/><use href="#md" x="571.5" y="253.7"/><use href="#md" x="557.2" y="239.1"/><use href="#md" x="518.4" y="182.9"/><use href="#md" x="488.1" y="139.1"/><use href="#md" x="526.7" y="197.6"/><use href="#md" x="563.0" y="240.7"/><use href="#md" x="545.6" y="228.9"/><use href="#md" x="402.5" y="72.1"/><use href="#md" x="416.7" y="67.2"/><use href="#md" x="412.6" y="69.1"/><use href="#md" x="397.0" y="64.4"/><use href="#md" x="487.9" y="137.7"/><use href="#md" x="506.7" y="171.3"/><use href="#md" x="488.6" y="139.6"/><use href="#md" x="541.7" y="212.6"/><use href="#md" x="502.1" y="163.9"/><use href="#md" x="582.5" y="296.5"/><use href="#md" x="395.9" y="69.2"/><use href="#md" x="527.2" y="193.9"/><use href="#md" x="537.6" y="207.5"/><use href="#md" x="518.4" y="178.7"/><use href="#md" x="536.3" y="203.0"/><use href="#md" x="537.3" y="206.6"/><use href="#md" x="553.7" y="229.5"/><use href="#md" x="402.8" y="93.1"/><use href="#md" x="545.4" y="218.7"/><use href="#md" x="568.0" y="249.3"/><use href="#md" x="547.0" y="222.6"/><use href="#md" x="542.0" y="212.6"/><use href="#md" x="501.8" y="165.0"/><use href="#md" x="577.7" y="269.1"/><use href="#md" x="517.8" y="185.8"/><use href="#md" x="502.5" y="165.2"/><use href="#md" x="497.3" y="164.4"/><use href="#md" x="396.4" y="67.9"/><use href="#md" x="562.9" y="242.6"/><use href="#md" x="420.2" y="72.1"/><use href="#md" x="558.1" y="240.4"/><use href="#md" x="394.6" y="72.8"/><use href="#md" x="402.0" y="49.4"/><use href="#md" x="403.6" y="50.2"/><use href="#md" x="531.5" y="197.8"/><use href="#md" x="523.1" y="184.9"/><use href="#md" x="566.5" y="246.0"/><use href="#md" x="406.5" y="66.5"/><use href="#md" x="513.5" y="177.8"/><use href="#md" x="517.9" y="182.0"/><use href="#md" x="532.0" y="200.1"/><use href="#md" x="410.5" y="70.6"/><use href="#md" x="531.7" y="200.7"/><use href="#md" x="547.3" y="222.5"/><use href="#md" x="405.8" y="57.1"/><use href="#md" x="488.0" y="140.2"/><use href="#md" x="502.7" y="162.7"/><use href="#md" x="558.6" y="238.4"/><use href="#md" x="537.3" y="205.1"/><use href="#md" x="553.2" y="230.3"/><use href="#md" x="404.3" y="76.3"/><use href="#md" x="541.2" y="215.5"/><use href="#md" x="581.8" y="294.5"/><use href="#md" x="567.3" y="245.9"/><use href="#md" x="546.3" y="229.5"/><use href="#md" x="532.3" y="194.6"/><use href="#md" x="416.3" y="56.8"/><use href="#md" x="417.4" y="68.1"/><use href="#md" x="413.9" y="65.1"/><use href="#md" x="395.7" y="78.6"/><use href="#md" x="502.3" y="166.2"/><use href="#md" x="552.5" y="229.5"/><use href="#md" x="570.7" y="256.3"/><use href="#md" x="575.4" y="262.8"/><use href="#md" x="558.5" y="237.1"/><use href="#md" x="399.4" y="55.0"/><use href="#md" x="508.5" y="170.8"/><use href="#md" x="558.4" y="234.2"/><use href="#md" x="518.1" y="184.8"/><use href="#md" x="586.5" y="284.0"/><use href="#md" x="502.5" y="163.6"/><use href="#md" x="546.0" y="220.8"/><use href="#md" x="528.2" y="195.5"/><use href="#md" x="577.2" y="269.5"/><use href="#md" x="512.2" y="182.2"/><use href="#md" x="546.1" y="230.3"/><use href="#md" x="413.5" y="56.4"/><use href="#md" x="532.6" y="201.3"/><use href="#md" x="498.5" y="159.7"/><use href="#md" x="404.8" y="85.8"/><use href="#md" x="417.0" y="61.1"/><use href="#md" x="513.9" y="177.3"/><use href="#md" x="522.4" y="185.4"/><use href="#md" x="536.7" y="206.3"/><use href="#md" x="503.3" y="163.7"/><use href="#md" x="571.1" y="254.1"/><use href="#md" x="563.2" y="242.5"/><use href="#md" x="518.7" y="180.9"/><use href="#md" x="531.8" y="201.5"/><use href="#md" x="563.2" y="243.0"/><use href="#md" x="527.4" y="197.4"/><use href="#md" x="536.4" y="206.1"/><use href="#md" x="407.1" y="88.1"/><use href="#md" x="410.5" y="72.7"/><use href="#md" x="522.3" y="186.8"/><use href="#md" x="532.0" y="199.4"/><use href="#md" x="571.2" y="258.4"/><use href="#md" x="528.4" y="192.5"/><use href="#md" x="552.7" y="229.9"/><use href="#md" x="512.3" y="178.6"/><use href="#md" x="507.7" y="167.9"/><use href="#md" x="567.3" y="246.4"/><use href="#md" x="567.0" y="247.3"/><use href="#md" x="571.8" y="253.2"/><use href="#md" x="512.5" y="177.8"/><use href="#md" x="571.4" y="252.8"/><use href="#md" x="408.7" y="74.1"/><use href="#md" x="507.9" y="172.9"/><use href="#md" x="526.8" y="195.7"/><use href="#md" x="562.8" y="243.0"/><use href="#md" x="421.1" y="60.6"/><use href="#md" x="531.1" y="199.9"/><use href="#md" x="508.1" y="172.2"/><use href="#md" x="567.0" y="248.5"/><use href="#md" x="497.3" y="160.3"/><use href="#md" x="567.2" y="248.1"/><use href="#md" x="397.3" y="83.7"/><use href="#md" x="541.3" y="213.6"/><use href="#md" x="527.9" y="194.0"/><use href="#md" x="513.2" y="174.7"/><use href="#md" x="607.6" y="306.2"/><use href="#md" x="536.9" y="206.0"/><use href="#md" x="578.3" y="267.8"/><use href="#md" x="575.1" y="264.4"/><use href="#md" x="541.7" y="214.1"/><use href="#md" x="403.0" y="86.0"/><use href="#md" x="541.3" y="218.4"/><use href="#md" x="394.9" y="84.7"/><use href="#md" x="406.8" y="71.9"/><use href="#md" x="395.6" y="67.6"/><use href="#md" x="487.9" y="152.5"/><use href="#md" x="409.3" y="69.1"/><use href="#md" x="395.0" y="80.1"/><use href="#md" x="503.1" y="164.7"/><use href="#md" x="575.3" y="260.9"/><use href="#md" x="413.6" y="55.9"/><use href="#md" x="404.5" y="77.3"/><use href="#md" x="546.8" y="228.2"/><use href="#md" x="567.7" y="250.4"/><use href="#md" x="416.3" y="72.9"/><use href="#md" x="574.5" y="263.2"/><use href="#md" x="421.0" y="65.3"/><use href="#md" x="517.9" y="183.4"/><use href="#md" x="502.7" y="165.2"/><use href="#md" x="403.3" y="50.0"/><use href="#md" x="412.1" y="60.2"/><use href="#md" x="546.1" y="220.3"/><use href="#md" x="567.5" y="245.8"/><use href="#md" x="545.8" y="220.5"/><use href="#md" x="522.5" y="188.6"/><use href="#md" x="413.3" y="54.6"/><use href="#md" x="403.3" y="63.3"/><use href="#md" x="513.5" y="173.8"/><use href="#md" x="406.3" y="67.3"/><use href="#md" x="563.5" y="243.4"/><use href="#md" x="522.7" y="189.0"/><use href="#md" x="409.7" y="69.8"/><use href="#md" x="488.5" y="144.2"/><use href="#md" x="409.7" y="91.0"/><use href="#md" x="413.6" y="63.4"/><use href="#md" x="575.6" y="262.7"/><use href="#md" x="411.8" y="91.8"/><use href="#md" x="570.5" y="256.2"/><use href="#md" x="567.0" y="246.8"/><use href="#md" x="562.6" y="241.3"/><use href="#md" x="523.4" y="188.5"/><use href="#md" x="537.5" y="208.1"/><use href="#md" x="503.2" y="167.9"/><use href="#md" x="545.9" y="229.8"/><use href="#md" x="413.8" y="71.3"/><use href="#md" x="513.3" y="179.6"/><use href="#md" x="567.3" y="248.2"/><use href="#md" x="415.9" y="62.4"/><use href="#md" x="537.7" y="210.3"/><use href="#md" x="421.5" y="68.7"/><use href="#md" x="546.6" y="223.2"/><use href="#md" x="522.3" y="185.3"/><use href="#md" x="574.8" y="261.5"/><use href="#md" x="402.2" y="63.3"/><use href="#md" x="506.7" y="167.6"/><use href="#md" x="420.3" y="67.6"/><use href="#md" x="541.8" y="213.1"/><use href="#md" x="577.7" y="270.1"/><use href="#md" x="497.4" y="158.2"/><use href="#md" x="571.1" y="257.5"/><use href="#md" x="410.1" y="60.3"/><use href="#md" x="572.0" y="256.3"/><use href="#md" x="488.2" y="145.9"/><use href="#md" x="402.9" y="48.9"/><use href="#md" x="574.7" y="264.5"/><use href="#md" x="488.8" y="140.7"/><use href="#md" x="574.7" y="262.0"/><use href="#md" x="413.0" y="66.6"/><use href="#mx" x="504.0" y="165.2"/><use href="#mx" x="560.4" y="246.3"/><use href="#mx" x="401.0" y="74.2"/><use href="#mx" x="561.2" y="242.8"/><use href="#mx" x="537.5" y="221.4"/><use href="#mx" x="560.4" y="243.5"/><use href="#mx" x="555.5" y="237.1"/><use href="#mx" x="402.9" y="75.0"/><use href="#mx" x="405.4" y="73.6"/><use href="#mx" x="603.5" y="304.5"/><use href="#md" x="595.0" y="303.5"/><use href="#mx" x="579.0" y="277.1"/><use href="#mx" x="575.6" y="270.3"/><use href="#mx" x="605.9" y="306.1"/><use href="#mx" x="413.8" y="75.5"/><use href="#mx" x="436.0" y="88.0"/><use href="#md" x="546.0" y="220.8"/><use href="#mx" x="583.5" y="290.3"/><use href="#mx" x="518.8" y="188.7"/><use href="#mx" x="424.9" y="82.7"/><use href="#mx" x="465.2" y="113.4"/><use href="#mx" x="603.7" y="303.7"/><use href="#mx" x="594.5" y="299.8"/><use href="#mx" x="582.0" y="282.1"/><use href="#md" x="513.1" y="175.0"/><use href="#mx" x="432.2" y="83.5"/><use href="#mx" x="471.2" y="122.1"/><use href="#mx" x="575.8" y="270.1"/><use href="#mx" x="483.6" y="148.7"/><use href="#mx" x="401.6" y="76.7"/><use href="#mx" x="400.3" y="85.0"/><use href="#mx" x="464.7" y="117.3"/><use href="#mx" x="581.9" y="283.7"/><use href="#mx" x="509.5" y="174.5"/><use href="#mx" x="519.1" y="190.5"/><use href="#mx" x="514.5" y="190.2"/><use href="#mx" x="426.3" y="84.0"/><use href="#mx" x="556.1" y="239.8"/><use href="#mx" x="606.7" y="304.4"/><use href="#mx" x="564.8" y="246.2"/><use href="#mx" x="432.7" y="85.8"/><use href="#md" x="502.7" y="164.4"/><use href="#mx" x="582.2" y="286.1"/><use href="#mx" x="400.7" y="90.6"/><use href="#mx" x="564.5" y="249.7"/><use href="#md" x="414.0" y="57.4"/><use href="#mx" x="528.3" y="204.9"/><use href="#mx" x="413.0" y="84.8"/><use href="#mx" x="575.8" y="270.6"/><use href="#md" x="406.8" y="66.8"/><use href="#mx" x="564.3" y="247.7"/><use href="#mx" x="509.0" y="177.2"/><use href="#mx" x="514.2" y="188.8"/><use href="#md" x="563.5" y="241.0"/><use href="#mx" x="587.0" y="298.2"/><use href="#mx" x="405.8" y="79.3"/><use href="#md" x="562.6" y="242.2"/><use href="#mx" x="437.0" y="91.0"/><use href="#mx" x="573.8" y="271.7"/><use href="#mx" x="393.9" y="85.2"/><use href="#mx" x="513.8" y="183.4"/><use href="#mx" x="401.5" y="82.4"/><use href="#mx" x="466.5" y="117.8"/><use href="#mx" x="518.7" y="188.9"/><use href="#md" x="507.9" y="166.3"/><use href="#mx" x="575.0" y="272.5"/><use href="#md" x="558.0" y="237.7"/><use href="#mx" x="483.1" y="145.6"/><use href="#mx" x="493.1" y="161.6"/><use href="#mx" x="453.4" y="105.1"/><use href="#mx" x="582.0" y="283.9"/><use href="#mx" x="578.6" y="278.9"/><use href="#mx" x="467.8" y="119.8"/><use href="#mx" x="418.4" y="79.5"/><use href="#md" x="563.5" y="244.5"/><use href="#mx" x="397.8" y="78.0"/><use href="#md" x="576.1" y="264.7"/><use href="#mx" x="579.1" y="276.3"/><use href="#mx" x="523.8" y="198.0"/><use href="#md" x="558.4" y="236.1"/><use href="#md" x="496.8" y="157.7"/><use href="#md" x="572.2" y="256.5"/><use href="#mx" x="603.7" y="303.9"/><use href="#mx" x="393.0" y="77.8"/><use href="#md" x="497.3" y="159.3"/><use href="#mx" x="459.2" y="106.6"/><use href="#md" x="540.9" y="213.7"/><use href="#mx" x="602.5" y="305.3"/><use href="#mx" x="533.7" y="205.7"/><use href="#md" x="574.9" y="263.8"/><use href="#mx" x="555.3" y="234.9"/><use href="#mx" x="499.3" y="164.0"/><use href="#mx" x="402.6" y="75.5"/><use href="#mx" x="555.9" y="232.6"/><use href="#mx" x="413.5" y="75.3"/><use href="#md" x="507.8" y="172.7"/><use href="#mx" x="569.5" y="254.9"/><use href="#md" x="399.5" y="62.4"/><use href="#md" x="416.4" y="64.7"/><use href="#mx" x="593.3" y="299.0"/><use href="#mx" x="556.5" y="235.8"/><use href="#mx" x="588.2" y="297.5"/><use href="#mx" x="591.7" y="296.9"/><use href="#mx" x="433.3" y="86.4"/><use href="#mx" x="587.1" y="296.1"/><use href="#mx" x="413.1" y="78.4"/><use href="#mx" x="527.9" y="201.6"/><use href="#mx" x="459.6" y="110.1"/><use href="#md" x="523.0" y="190.8"/><use href="#md" x="421.4" y="63.5"/><use href="#mx" x="430.3" y="85.8"/><use href="#mx" x="400.5" y="76.3"/><use href="#mx" x="519.1" y="193.5"/><use href="#mx" x="570.4" y="254.3"/><use href="#md" x="536.9" y="205.6"/><use href="#mx" x="435.1" y="84.5"/><use href="#mx" x="509.5" y="179.1"/><use href="#mx" x="465.0" y="112.4"/><use href="#mx" x="556.4" y="239.2"/><use href="#mx" x="542.6" y="221.0"/><use href="#mx" x="543.7" y="222.0"/><use href="#mx" x="548.5" y="232.5"/><use href="#mx" x="599.4" y="302.1"/><use href="#mx" x="561.5" y="240.4"/><use href="#mx" x="514.1" y="186.3"/><use href="#md" x="403.1" y="58.8"/><use href="#mx" x="561.2" y="243.6"/><use href="#mx" x="421.2" y="83.4"/><use href="#mx" x="434.6" y="92.1"/><use href="#mx" x="402.6" y="84.8"/><use href="#mx" x="509.5" y="181.2"/><use href="#mx" x="492.4" y="158.1"/><use href="#mx" x="560.9" y="241.7"/><use href="#mx" x="541.8" y="221.6"/><use href="#mx" x="575.9" y="271.9"/><use href="#mx" x="397.1" y="76.5"/><use href="#mx" x="604.8" y="303.8"/><use href="#mx" x="585.2" y="292.7"/><use href="#mx" x="477.1" y="130.7"/><use href="#mx" x="399.2" y="85.8"/><use href="#mx" x="401.0" y="81.4"/><use href="#mx" x="519.0" y="192.9"/><use href="#md" x="557.1" y="238.5"/><use href="#mx" x="528.3" y="200.0"/><use href="#mx" x="395.6" y="91.1"/><use href="#mx" x="533.0" y="209.1"/><use href="#mx" x="529.1" y="201.4"/><use href="#mx" x="430.4" y="80.9"/><use href="#mx" x="555.7" y="236.5"/><use href="#mx" x="537.5" y="215.2"/><use href="#mx" x="508.7" y="180.0"/><use href="#md" x="532.6" y="200.2"/><use href="#md" x="420.9" y="71.9"/><use href="#mx" x="504.6" y="173.4"/><use href="#mx" x="483.9" y="141.9"/><use href="#mx" x="593.5" y="299.5"/><use href="#md" x="546.6" y="219.0"/><use href="#mx" x="599.1" y="301.2"/><use href="#mx" x="569.1" y="257.3"/><use href="#md" x="553.0" y="230.1"/><use href="#mx" x="413.4" y="75.9"/><use href="#md" x="507.1" y="169.8"/><use href="#mx" x="420.8" y="76.4"/><use href="#mx" x="492.1" y="152.0"/><use href="#md" x="399.4" y="59.6"/><use href="#mx" x="578.8" y="276.2"/><use href="#mx" x="509.4" y="180.3"/><use href="#mx" x="404.0" y="91.4"/><use href="#mx" x="555.4" y="238.6"/><use href="#md" x="557.8" y="236.6"/><use href="#mx" x="587.4" y="296.2"/><use href="#mx" x="401.5" y="77.1"/><use href="#mx" x="435.2" y="89.3"/><use href="#md" x="537.0" y="205.9"/><use href="#mx" x="407.8" y="81.0"/><use href="#md" x="399.2" y="52.4"/><use href="#md" x="399.2" y="59.9"/><use href="#mx" x="573.3" y="265.9"/><use href="#mx" x="458.4" y="106.0"/><use href="#mx" x="510.4" y="176.8"/><use href="#mx" x="557.4" y="234.3"/><use href="#mx" x="542.6" y="221.9"/><use href="#mx" x="401.7" y="74.9"/><use href="#mx" x="499.0" y="165.1"/><use href="#mx" x="604.1" y="304.5"/><use href="#mx" x="504.2" y="171.4"/><use href="#mx" x="528.4" y="200.9"/><use href="#mx" x="537.7" y="216.4"/><use href="#mx" x="420.2" y="88.5"/><use href="#mx" x="560.4" y="244.4"/><use href="#md" x="545.7" y="229.3"/><use href="#mx" x="575.8" y="271.2"/><use href="#mx" x="435.1" y="90.3"/><use href="#mx" x="561.1" y="245.2"/><use href="#mx" x="591.4" y="299.3"/><use href="#mx" x="529.4" y="199.9"/><use href="#mx" x="443.2" y="94.9"/><use href="#mx" x="537.4" y="215.8"/><use href="#mx" x="483.6" y="147.5"/><use href="#mx" x="569.6" y="260.7"/><use href="#mx" x="578.2" y="278.1"/><use href="#mx" x="592.0" y="299.6"/><use href="#mx" x="549.9" y="233.1"/><use href="#mx" x="565.4" y="250.3"/><use href="#mx" x="503.7" y="176.1"/><use href="#mx" x="483.5" y="146.1"/><use href="#mx" x="537.4" y="214.5"/><use href="#mx" x="541.7" y="222.2"/><use href="#mx" x="582.3" y="284.7"/><use href="#md" x="541.7" y="216.7"/><use href="#mx" x="468.3" y="122.4"/><use href="#mx" x="542.9" y="225.6"/><use href="#mx" x="499.4" y="170.5"/><use href="#mx" x="443.3" y="90.1"/><use href="#mx" x="578.9" y="277.9"/><use href="#mx" x="427.0" y="86.2"/><use href="#mx" x="514.7" y="187.0"/><use href="#mx" x="524.7" y="201.0"/><use href="#mx" x="569.7" y="258.1"/><use href="#mx" x="401.9" y="89.6"/><use href="#mx" x="579.2" y="275.8"/><use href="#mx" x="442.9" y="88.5"/><use href="#mx" x="423.7" y="75.6"/><use href="#mx" x="524.4" y="194.6"/><use href="#mx" x="513.7" y="185.0"/><use href="#mx" x="458.4" y="108.2"/><use href="#mx" x="573.6" y="262.9"/><use href="#mx" x="533.4" y="207.7"/><use href="#mx" x="447.9" y="96.2"/><use href="#mx" x="524.3" y="194.9"/><use href="#mx" x="569.5" y="257.7"/><use href="#mx" x="569.7" y="256.0"/><use href="#mx" x="564.4" y="249.7"/><use href="#mx" x="573.1" y="264.9"/><use href="#mx" x="519.3" y="190.1"/><use href="#mx" x="492.5" y="156.9"/><use href="#mx" x="534.1" y="205.7"/><use href="#mx" x="573.3" y="265.2"/><use href="#mx" x="435.8" y="89.5"/><use href="#mx" x="523.6" y="197.1"/><use href="#md" x="576.9" y="270.6"/><use href="#mx" x="451.8" y="98.1"/><use href="#mx" x="444.5" y="94.7"/><use href="#md" x="541.1" y="213.2"/><use href="#md" x="531.6" y="200.5"/><use href="#mx" x="537.6" y="215.7"/><use href="#mx" x="556.3" y="236.9"/><use href="#mx" x="484.4" y="145.9"/><use href="#mx" x="603.4" y="304.8"/><use href="#md" x="402.7" y="68.5"/><use href="#mx" x="504.0" y="174.7"/><use href="#mx" x="467.9" y="130.2"/><use href="#mx" x="430.5" y="84.6"/><use href="#mx" x="555.5" y="237.0"/><use href="#mx" x="463.4" y="116.6"/><use href="#mx" x="434.6" y="84.1"/><use href="#mx" x="549.3" y="231.5"/><use href="#mx" x="588.2" y="298.1"/><use href="#mx" x="426.7" y="80.7"/><use href="#md" x="514.0" y="174.5"/><use href="#mx" x="569.6" y="253.8"/><use href="#md" x="579.5" y="262.0"/><use href="#md" x="502.6" y="166.1"/><use href="#mx" x="398.8" y="82.6"/><use href="#mx" x="564.7" y="251.7"/><use href="#mx" x="555.3" y="236.7"/><use href="#mx" x="459.1" y="112.4"/><use href="#mx" x="403.5" y="85.9"/><use href="#mx" x="542.8" y="222.3"/><use href="#mx" x="564.7" y="247.8"/><use href="#mx" x="472.0" y="115.5"/><use href="#mx" x="584.1" y="291.7"/><use href="#mx" x="452.2" y="97.7"/><use href="#mx" x="509.6" y="182.8"/><use href="#mx" x="395.3" y="76.7"/><use href="#mx" x="589.3" y="296.0"/><use href="#mx" x="445.5" y="89.6"/><use href="#mx" x="528.4" y="202.4"/><use href="#mx" x="411.6" y="83.0"/><use href="#mx" x="569.2" y="256.2"/><use href="#mx" x="572.8" y="262.5"/><use href="#mx" x="499.5" y="170.5"/><use href="#mx" x="406.8" y="75.7"/><use href="#mx" x="600.0" y="303.9"/><use href="#mx" x="514.8" y="183.8"/><use href="#mx" x="560.9" y="241.7"/><use href="#mx" x="599.5" y="303.0"/><use href="#md" x="557.7" y="237.8"/><use href="#mx" x="514.6" y="188.0"/><use href="#mx" x="417.1" y="79.0"/><use href="#mx" x="504.2" y="175.5"/><use href="#mx" x="578.9" y="274.7"/><use href="#md" x="552.9" y="230.5"/><use href="#mx" x="518.8" y="193.5"/><use href="#mx" x="411.0" y="81.5"/><use href="#mx" x="401.2" y="75.1"/><use href="#mx" x="422.1" y="78.0"/><use href="#mx" x="550.0" y="229.7"/><use href="#md" x="577.5" y="267.8"/><use href="#mx" x="493.2" y="158.8"/><use href="#mx" x="424.6" y="85.9"/><use href="#mx" x="575.3" y="271.8"/><use href="#mx" x="443.9" y="95.5"/><use href="#mx" x="542.8" y="218.8"/><use href="#mx" x="599.2" y="302.4"/><use href="#mx" x="414.6" y="83.0"/><use href="#mx" x="460.4" y="111.9"/><use href="#mx" x="564.7" y="249.6"/><use href="#mx" x="533.1" y="210.2"/><use href="#mx" x="590.6" y="298.7"/><use href="#mx" x="533.9" y="211.8"/><use href="#mx" x="565.7" y="249.6"/><use href="#md" x="395.8" y="65.0"/><use href="#mx" x="538.6" y="213.9"/><use href="#mx" x="514.1" y="183.5"/><use href="#mx" x="578.6" y="279.2"/><use href="#mx" x="528.1" y="201.6"/><use href="#mx" x="579.3" y="277.0"/><use href="#mx" x="492.2" y="155.8"/><use href="#md" x="416.1" y="70.0"/><use href="#md" x="410.7" y="58.0"/><use href="#mx" x="465.8" y="120.8"/><use href="#mx" x="504.0" y="173.3"/><use href="#md" x="558.5" y="239.9"/><use href="#mx" x="589.3" y="296.6"/><use href="#mx" x="493.9" y="158.9"/><use href="#mx" x="518.3" y="188.0"/><use href="#md" x="403.2" y="62.3"/><use href="#md" x="557.6" y="235.6"/><use href="#mx" x="517.1" y="191.4"/><use href="#mx" x="569.7" y="258.0"/><use href="#mx" x="492.6" y="164.5"/><use href="#mx" x="523.9" y="197.2"/><use href="#mx" x="564.6" y="248.8"/><use href="#md" x="577.0" y="269.1"/><use href="#mx" x="405.1" y="80.1"/><use href="#mx" x="602.4" y="302.9"/><use href="#mx" x="463.3" y="120.0"/><use href="#mx" x="542.8" y="221.1"/><use href="#mx" x="576.4" y="271.4"/><use href="#mx" x="492.6" y="154.2"/><use href="#mx" x="509.5" y="176.9"/><use href="#mx" x="410.1" y="75.2"/><use href="#mx" x="400.0" y="88.1"/><use href="#mx" x="509.3" y="182.8"/><use href="#mx" x="472.4" y="124.7"/><use href="#mx" x="542.5" y="220.5"/><use href="#mx" x="432.2" y="87.1"/><use href="#mx" x="426.4" y="86.6"/><use href="#mx" x="578.4" y="277.6"/><use href="#mx" x="533.5" y="206.1"/><use href="#mx" x="533.1" y="208.9"/><use href="#md" x="546.6" y="230.3"/><use href="#mx" x="514.8" y="187.0"/><use href="#mx" x="584.4" y="293.9"/><use href="#mx" x="418.7" y="77.7"/><use href="#mx" x="603.5" y="306.0"/><use href="#mx" x="537.3" y="214.8"/><use href="#mx" x="549.3" y="228.0"/><use href="#mx" x="425.5" y="83.8"/><use href="#mx" x="409.7" y="76.8"/><use href="#mx" x="451.9" y="97.4"/><use href="#mx" x="584.5" y="291.3"/><use href="#md" x="395.5" y="51.3"/><use href="#mx" x="576.0" y="273.4"/><use href="#mx" x="427.8" y="83.3"/><use href="#mx" x="599.8" y="303.7"/><use href="#mx" x="587.3" y="296.9"/><use href="#mx" x="543.1" y="221.6"/><use href="#mx" x="514.9" y="187.3"/><use href="#mx" x="604.9" y="304.6"/><use href="#mx" x="395.9" y="80.7"/><use href="#mx" x="416.7" y="79.2"/><use href="#mx" x="417.0" y="80.1"/><use href="#md" x="545.6" y="229.2"/><use href="#md" x="502.1" y="165.3"/><use href="#mx" x="524.4" y="191.1"/><use href="#mx" x="442.7" y="88.3"/><use href="#mx" x="595.7" y="300.8"/><use href="#md" x="563.0" y="237.5"/><use href="#mx" x="395.5" y="87.9"/><use href="#mx" x="464.4" y="122.6"/><use href="#mx" x="528.5" y="201.1"/><use href="#mx" x="471.7" y="125.1"/><use href="#mx" x="569.4" y="258.6"/><use href="#mx" x="504.0" y="175.4"/><use href="#md" x="571.4" y="255.4"/><use href="#mx" x="576.2" y="272.3"/><use href="#mx" x="572.6" y="261.7"/><use href="#mx" x="509.0" y="175.1"/><use href="#mx" x="576.5" y="267.2"/><use href="#mx" x="412.9" y="76.3"/><use href="#md" x="497.2" y="156.9"/><use href="#mx" x="412.1" y="76.3"/><use href="#mx" x="515.1" y="184.2"/><use href="#mx" x="404.9" y="89.2"/><use href="#mx" x="504.4" y="174.2"/><use href="#mx" x="476.5" y="132.8"/><use href="#mx" x="408.0" y="83.4"/><use href="#mx" x="398.1" y="78.7"/><use href="#mx" x="533.5" y="209.9"/><use href="#mx" x="449.9" y="97.8"/><use href="#md" x="407.3" y="85.3"/><use href="#mx" x="493.2" y="158.5"/><use href="#mx" x="576.6" y="269.9"/><use href="#mx" x="410.4" y="78.0"/><use href="#mx" x="406.9" y="86.6"/><use href="#md" x="400.1" y="57.2"/><use href="#mx" x="514.3" y="184.0"/><use href="#mx" x="518.8" y="191.1"/><use href="#mx" x="497.9" y="173.9"/><use href="#mx" x="561.4" y="244.2"/><use href="#mx" x="606.8" y="306.3"/><use href="#mx" x="555.2" y="238.4"/><use href="#mx" x="549.9" y="230.4"/><use href="#mx" x="421.7" y="80.0"/><use href="#mx" x="465.6" y="116.5"/><use href="#mx" x="569.7" y="253.5"/><use href="#mx" x="601.9" y="304.0"/><use href="#md" x="558.3" y="236.5"/><use href="#mx" x="502.4" y="170.9"/><use href="#mx" x="581.7" y="286.3"/><use href="#mx" x="426.5" y="82.5"/><use href="#md" x="576.4" y="270.7"/><use href="#mx" x="564.3" y="245.9"/><use href="#mx" x="510.2" y="184.9"/><use href="#mx" x="395.2" y="75.4"/><use href="#mx" x="493.0" y="151.1"/><use href="#mx" x="585.4" y="295.8"/><use href="#md" x="407.0" y="59.1"/><use href="#md" x="577.2" y="268.9"/><use href="#mx" x="594.3" y="299.4"/><use href="#mx" x="492.8" y="156.5"/><use href="#mx" x="549.9" y="229.8"/><use href="#mx" x="499.0" y="167.6"/><use href="#mx" x="533.9" y="205.6"/><use href="#mx" x="542.6" y="222.0"/><use href="#md" x="571.3" y="257.7"/><use href="#mx" x="528.7" y="204.2"/><use href="#mx" x="422.5" y="82.9"/><use href="#mx" x="578.6" y="275.9"/><use href="#mx" x="560.8" y="241.7"/><use href="#md" x="401.1" y="79.1"/><use href="#md" x="412.6" y="65.0"/><use href="#mx" x="592.6" y="298.3"/><use href="#mx" x="583.6" y="292.1"/><use href="#md" x="498.1" y="163.3"/><use href="#mx" x="581.5" y="284.7"/><use href="#mx" x="560.5" y="245.7"/><use href="#md" x="410.2" y="59.8"/><use href="#mx" x="573.0" y="262.3"/><use href="#mx" x="407.6" y="81.9"/><use href="#md" x="518.1" y="179.7"/><use href="#md" x="531.4" y="199.8"/><use href="#mx" x="412.9" y="79.7"/><use href="#mx" x="484.8" y="155.1"/><use href="#mx" x="606.3" y="305.5"/><use href="#md" x="577.9" y="270.1"/><use href="#mx" x="499.3" y="167.4"/><use href="#mx" x="582.5" y="293.8"/><use href="#mx" x="565.1" y="251.8"/><use href="#mx" x="518.5" y="190.9"/><use href="#mx" x="509.6" y="178.9"/><use href="#mx" x="419.1" y="78.0"/><use href="#mx" x="414.1" y="83.4"/><use href="#mx" x="407.4" y="75.4"/><use href="#mx" x="426.3" y="82.7"/><use href="#mx" x="579.5" y="280.2"/><use href="#mx" x="492.9" y="161.3"/><use href="#mx" x="565.0" y="253.1"/><use href="#mx" x="579.1" y="277.2"/><use href="#mx" x="498.2" y="168.9"/><use href="#mx" x="484.6" y="152.4"/><use href="#mx" x="499.5" y="167.2"/><use href="#mx" x="461.0" y="105.3"/><use href="#mx" x="483.8" y="148.7"/><use href="#mx" x="515.4" y="184.5"/><use href="#mx" x="476.7" y="134.5"/><use href="#md" x="416.2" y="58.1"/><use href="#mx" x="598.7" y="301.8"/><use href="#mx" x="556.5" y="237.0"/><use href="#mx" x="395.0" y="87.5"/><use href="#mx" x="491.8" y="157.6"/><use href="#mx" x="449.9" y="104.3"/><use href="#mx" x="575.4" y="268.0"/><use href="#md" x="531.4" y="195.9"/><use href="#mx" x="564.9" y="251.1"/><use href="#mx" x="533.5" y="209.2"/><use href="#mx" x="404.7" y="77.2"/><use href="#mx" x="436.6" y="89.5"/><use href="#mx" x="593.0" y="299.7"/><use href="#md" x="408.1" y="81.9"/><use href="#mx" x="460.1" y="106.6"/><use href="#mx" x="393.9" y="89.3"/><use href="#md" x="546.1" y="216.6"/><use href="#mx" x="533.3" y="203.4"/><use href="#md" x="572.7" y="255.8"/><use href="#mx" x="519.0" y="193.2"/><use href="#md" x="528.5" y="194.4"/><use href="#mx" x="450.7" y="93.7"/><use href="#md" x="546.7" y="230.8"/><use href="#mx" x="456.8" y="111.4"/><use href="#mx" x="532.9" y="206.1"/><use href="#md" x="407.3" y="58.9"/><use href="#mx" x="523.9" y="195.3"/><use href="#mx" x="473.5" y="123.8"/><use href="#mx" x="569.4" y="253.6"/><use href="#mx" x="549.8" y="228.6"/><use href="#md" x="532.8" y="199.1"/><use href="#md" x="406.4" y="58.0"/><use href="#md" x="409.1" y="88.2"/><use href="#mx" x="542.1" y="223.0"/><use href="#mx" x="428.1" y="79.1"/><use href="#mx" x="425.8" y="85.1"/><use href="#mx" x="524.8" y="197.3"/><use href="#mx" x="452.3" y="94.7"/><use href="#mx" x="393.0" y="87.9"/><use href="#md" x="409.5" y="69.0"/><use href="#mx" x="484.6" y="146.6"/><use href="#md" x="508.3" y="170.8"/><use href="#mx" x="519.3" y="190.2"/><use href="#mx" x="509.0" y="181.2"/><use href="#md" x="522.1" y="183.4"/><use href="#mx" x="411.0" y="74.7"/><use href="#md" x="403.7" y="46.8"/><use href="#mx" x="536.9" y="216.7"/><use href="#mx" x="561.0" y="244.0"/><use href="#mx" x="569.5" y="257.4"/><use href="#mx" x="583.9" y="293.7"/><use href="#mx" x="606.2" y="305.9"/><use href="#mx" x="474.9" y="136.2"/><use href="#md" x="566.8" y="247.3"/><use href="#mx" x="575.7" y="271.6"/><use href="#mx" x="537.3" y="213.5"/><use href="#mx" x="411.2" y="80.1"/><use href="#mx" x="402.7" y="81.5"/><use href="#mx" x="417.7" y="79.1"/><use href="#md" x="528.6" y="194.5"/><use href="#mx" x="581.9" y="284.3"/><use href="#mx" x="569.6" y="258.4"/><use href="#mx" x="533.7" y="205.5"/><use href="#mx" x="528.5" y="198.3"/><use href="#mx" x="524.3" y="195.8"/><use href="#mx" x="596.0" y="302.9"/><use href="#mx" x="600.7" y="302.7"/><use href="#mx" x="498.3" y="167.2"/><use href="#mx" x="508.8" y="177.1"/><use href="#mx" x="533.4" y="210.2"/><use href="#mx" x="565.5" y="251.9"/><use href="#mx" x="430.5" y="83.5"/><use href="#mx" x="492.2" y="149.1"/><use href="#md" x="541.3" y="211.5"/><use href="#mx" x="484.4" y="141.9"/><use href="#md" x="523.0" y="188.0"/><use href="#mx" x="445.7" y="88.5"/><use href="#mx" x="399.4" y="89.1"/><use href="#mx" x="393.8" y="85.4"/><use href="#mx" x="411.6" y="89.4"/><use href="#md" x="416.3" y="67.5"/><use href="#mx" x="550.7" y="228.2"/><use href="#mx" x="575.3" y="270.0"/><use href="#mx" x="498.7" y="168.3"/><use href="#mx" x="570.6" y="257.8"/><use href="#md" x="528.4" y="194.5"/><use href="#mx" x="561.5" y="242.5"/><use href="#md" x="395.3" y="65.9"/><use href="#mx" x="413.3" y="75.4"/><use href="#mx" x="509.2" y="181.5"/><use href="#mx" x="569.2" y="259.0"/><use href="#mx" x="405.0" y="85.8"/><use href="#mx" x="574.2" y="263.5"/><use href="#mx" x="582.4" y="287.8"/><use href="#md" x="552.3" y="228.9"/><use href="#mx" x="472.7" y="128.0"/><use href="#mx" x="412.0" y="81.5"/><use href="#mx" x="498.9" y="166.3"/><use href="#md" x="537.2" y="202.5"/><use href="#mx" x="425.6" y="85.9"/><use href="#md" x="546.4" y="221.3"/><use href="#mx" x="476.0" y="132.0"/><use href="#mx" x="555.1" y="234.4"/><use href="#mx" x="561.1" y="244.1"/><use href="#mx" x="434.5" y="87.8"/><use href="#md" x="497.1" y="156.2"/><use href="#mx" x="542.0" y="222.7"/><use href="#md" x="513.0" y="175.8"/><use href="#mx" x="437.5" y="84.8"/><use href="#mx" x="541.6" y="223.3"/><use href="#mx" x="398.4" y="76.0"/><use href="#mx" x="573.4" y="265.5"/><use href="#mx" x="555.6" y="237.8"/><use href="#mx" x="590.5" y="298.1"/><use href="#mx" x="393.0" y="84.0"/><use href="#mx" x="395.1" y="75.0"/><use href="#mx" x="586.0" y="295.5"/><use href="#mx" x="597.1" y="302.5"/><use href="#mx" x="510.8" y="180.8"/><use href="#mx" x="409.9" y="80.3"/><use href="#mx" x="457.6" y="106.3"/><use href="#mx" x="432.7" y="86.7"/><use href="#mx" x="584.4" y="289.5"/><use href="#mx" x="528.0" y="203.9"/><use href="#mx" x="416.2" y="77.9"/><use href="#mx" x="429.8" y="87.5"/><use href="#mx" x="550.4" y="230.5"/><use href="#mx" x="493.0" y="164.1"/><use href="#mx" x="483.1" y="146.9"/><use href="#md" x="522.9" y="189.6"/><use href="#mx" x="572.9" y="264.2"/><use href="#mx" x="483.6" y="145.4"/><use href="#mx" x="555.9" y="238.3"/><use href="#mx" x="405.9" y="81.5"/><use href="#mx" x="483.1" y="136.3"/><use href="#mx" x="543.7" y="221.5"/><use href="#mx" x="393.1" y="91.7"/><use href="#md" x="414.0" y="71.5"/><use href="#mx" x="393.6" y="91.4"/><use href="#md" x="537.3" y="207.2"/><use href="#md" x="410.3" y="60.7"/><use href="#mx" x="537.2" y="213.1"/><use href="#mx" x="565.5" y="250.8"/><use href="#mx" x="504.6" y="171.3"/><use href="#mx" x="573.7" y="265.1"/><use href="#mx" x="523.2" y="200.9"/><use href="#md" x="518.1" y="186.0"/><use href="#mx" x="435.3" y="82.2"/><use href="#mx" x="556.3" y="238.4"/><use href="#md" x="518.8" y="184.3"/><use href="#mx" x="579.7" y="277.8"/><use href="#mx" x="466.6" y="118.8"/><use href="#mx" x="407.3" y="75.7"/><use href="#mx" x="413.6" y="85.8"/><use href="#md" x="396.1" y="55.3"/><use href="#mx" x="584.5" y="290.4"/><use href="#mx" x="560.8" y="244.6"/><use href="#mx" x="470.0" y="117.4"/><use href="#mx" x="601.0" y="304.9"/><use href="#mx" x="537.8" y="217.6"/><use href="#mx" x="518.9" y="189.5"/><use href="#mx" x="561.8" y="242.3"/><use href="#mx" x="445.7" y="89.1"/><use href="#mx" x="426.4" y="80.6"/><use href="#mx" x="519.2" y="189.9"/><use href="#mx" x="436.9" y="90.6"/><use href="#mx" x="497.8" y="167.5"/><use href="#mx" x="564.8" y="248.0"/><use href="#mx" x="580.6" y="287.2"/><use href="#mx" x="457.5" y="109.4"/><use href="#mx" x="491.8" y="164.4"/><use href="#mx" x="418.1" y="82.5"/><use href="#mx" x="471.5" y="119.8"/><use href="#mx" x="400.9" y="82.5"/><use href="#mx" x="402.4" y="79.0"/><use href="#md" x="574.5" y="262.0"/><use href="#mx" x="503.9" y="172.1"/><use href="#md" x="404.9" y="89.1"/><use href="#mx" x="583.4" y="292.4"/><use href="#mx" x="598.3" y="300.8"/><use href="#md" x="546.2" y="222.3"/><use href="#mx" x="449.9" y="97.5"/><use href="#mx" x="417.7" y="80.0"/><use href="#mx" x="399.9" y="87.0"/><use href="#mx" x="393.7" y="81.8"/><use href="#mx" x="444.1" y="94.5"/><use href="#mx" x="493.8" y="161.1"/><use href="#md" x="568.5" y="249.5"/><use href="#mx" x="503.6" y="173.7"/><use href="#mx" x="483.5" y="151.1"/><use href="#mx" x="599.5" y="302.1"/><use href="#mx" x="549.5" y="230.4"/><use href="#md" x="541.9" y="213.5"/><use href="#mx" x="484.1" y="145.4"/><use href="#mx" x="565.0" y="249.8"/><use href="#mx" x="468.5" y="117.0"/><use href="#mx" x="549.1" y="229.7"/><use href="#mx" x="590.9" y="296.7"/><use href="#mx" x="524.1" y="196.0"/><use href="#mx" x="492.9" y="156.4"/><use href="#mx" x="565.2" y="252.4"/><use href="#mx" x="431.2" y="86.8"/><use href="#mx" x="565.0" y="250.8"/><use href="#mx" x="566.1" y="252.6"/><use href="#mx" x="550.4" y="229.4"/><use href="#mx" x="575.5" y="268.4"/><use href="#mx" x="573.2" y="263.0"/><use href="#mx" x="538.1" y="218.5"/><use href="#mx" x="424.9" y="80.4"/><use href="#mx" x="429.5" y="84.6"/><use href="#mx" x="398.6" y="75.7"/><use href="#mx" x="428.0" y="85.1"/><use href="#md" x="507.7" y="172.6"/><use href="#mx" x="432.8" y="84.8"/><use href="#mx" x="524.3" y="194.6"/><use href="#mx" x="533.6" y="211.4"/><use href="#mx" x="509.8" y="182.4"/><use href="#md" x="517.8" y="187.9"/><use href="#mx" x="578.3" y="277.6"/><use href="#md" x="417.2" y="61.2"/><use href="#mx" x="411.2" y="81.3"/><use href="#mx" x="527.7" y="200.2"/><use href="#mx" x="581.9" y="286.8"/><use href="#mx" x="527.1" y="201.0"/><use href="#mx" x="400.8" y="79.7"/><use href="#mx" x="404.7" y="80.5"/><use href="#md" x="420.7" y="61.2"/><use href="#md" x="552.5" y="227.2"/><use href="#mx" x="569.5" y="257.6"/><use href="#md" x="420.8" y="72.5"/><use href="#md" x="488.3" y="149.5"/><use href="#mx" x="524.2" y="196.5"/><use href="#md" x="399.9" y="52.9"/><use href="#mx" x="514.0" y="188.8"/><use href="#md" x="517.9" y="184.8"/><use href="#md" x="571.9" y="255.9"/><use href="#md" x="546.4" y="230.9"/><use href="#mx" x="475.2" y="133.4"/><use href="#mx" x="600.1" y="302.8"/><use href="#mx" x="484.1" y="145.4"/><use href="#mx" x="599.9" y="302.5"/><use href="#mx" x="498.7" y="167.5"/><use href="#mx" x="415.0" y="79.2"/><use href="#mx" x="594.9" y="299.7"/><use href="#mx" x="576.6" y="270.6"/><use href="#md" x="399.6" y="55.5"/><use href="#mx" x="518.3" y="184.0"/><use href="#mx" x="492.6" y="156.8"/><use href="#mx" x="460.6" y="107.8"/><use href="#md" x="399.3" y="60.3"/><use href="#mx" x="499.8" y="169.2"/><use href="#mx" x="589.3" y="297.7"/><use href="#mx" x="427.0" y="87.3"/><use href="#mx" x="421.9" y="81.2"/><use href="#mx" x="543.3" y="222.4"/><use href="#mx" x="569.0" y="258.9"/><use href="#mx" x="503.5" y="168.7"/><use href="#mx" x="578.2" y="279.5"/><use href="#mx" x="514.0" y="181.8"/><use href="#mx" x="415.4" y="75.3"/><use href="#mx" x="509.7" y="178.8"/><use href="#mx" x="407.8" y="75.5"/><use href="#mx" x="528.8" y="205.4"/><use href="#mx" x="399.9" y="86.4"/><use href="#md" x="537.3" y="204.1"/><use href="#mx" x="405.0" y="75.2"/><use href="#mx" x="580.8" y="286.6"/><use href="#mx" x="541.9" y="221.0"/><use href="#mx" x="538.0" y="214.0"/><use href="#mx" x="485.3" y="152.6"/><use href="#mx" x="504.6" y="172.4"/><use href="#mx" x="518.2" y="190.7"/><use href="#mx" x="514.6" y="184.7"/><use href="#mx" x="569.8" y="255.3"/><use href="#mx" x="471.7" y="130.8"/><use href="#mx" x="542.5" y="223.2"/><use href="#mx" x="469.9" y="129.0"/><use href="#mx" x="561.8" y="245.0"/><use href="#mx" x="513.4" y="185.6"/><use href="#mx" x="438.8" y="96.2"/><use href="#mx" x="582.2" y="288.1"/><use href="#mx" x="561.4" y="240.4"/><use href="#mx" x="394.2" y="84.9"/><use href="#mx" x="460.0" y="108.3"/><use href="#mx" x="411.5" y="76.9"/><use href="#mx" x="561.6" y="242.2"/><use href="#mx" x="407.6" y="76.5"/><use href="#md" x="512.7" y="176.8"/><use href="#mx" x="492.7" y="155.8"/><use href="#mx" x="492.8" y="157.9"/><use href="#mx" x="513.7" y="183.2"/><use href="#mx" x="573.8" y="265.2"/><use href="#mx" x="407.6" y="79.6"/><use href="#mx" x="575.9" y="266.4"/><use href="#mx" x="405.4" y="80.1"/><use href="#mx" x="426.5" y="86.1"/><use href="#md" x="507.0" y="168.7"/><use href="#mx" x="537.6" y="211.3"/><use href="#mx" x="499.1" y="166.2"/><use href="#mx" x="572.6" y="264.8"/><use href="#mx" x="537.4" y="208.7"/><use href="#mx" x="502.7" y="172.7"/><use href="#mx" x="492.9" y="161.4"/><use href="#mx" x="569.8" y="257.9"/><use href="#mx" x="584.6" y="292.4"/><use href="#mx" x="419.0" y="85.6"/><use href="#mx" x="581.5" y="287.2"/><use href="#mx" x="595.7" y="300.3"/><use href="#md" x="409.5" y="70.3"/><use href="#mx" x="543.9" y="223.2"/><use href="#mx" x="465.5" y="120.2"/><use href="#mx" x="464.9" y="116.8"/><use href="#md" x="399.5" y="53.2"/><use href="#mx" x="593.0" y="300.2"/><use href="#mx" x="456.9" y="106.7"/><use href="#mx" x="492.3" y="156.8"/><use href="#mx" x="477.8" y="134.6"/><use href="#mx" x="402.7" y="74.2"/><use href="#mx" x="422.0" y="82.1"/><use href="#mx" x="402.4" y="84.0"/><use href="#mx" x="403.6" y="83.8"/><use href="#mx" x="575.5" y="272.4"/><use href="#mx" x="442.5" y="91.9"/><use href="#mx" x="509.3" y="182.7"/><use href="#mx" x="504.4" y="173.7"/><use href="#mx" x="476.3" y="131.9"/><use href="#mx" x="398.4" y="88.4"/><use href="#mx" x="472.1" y="125.4"/><use href="#mx" x="428.9" y="82.3"/><use href="#mx" x="575.6" y="268.5"/><use href="#mx" x="477.0" y="129.0"/><use href="#mx" x="551.2" y="230.8"/><use href="#mx" x="575.2" y="271.9"/><use href="#mx" x="404.3" y="88.0"/><use href="#mx" x="543.1" y="219.0"/><use href="#mx" x="523.5" y="194.5"/><use href="#mx" x="590.9" y="297.4"/><use href="#mx" x="430.6" y="78.8"/><use href="#mx" x="404.3" y="83.6"/><use href="#md" x="562.7" y="243.8"/><use href="#mx" x="459.0" y="109.7"/><use href="#mx" x="518.0" y="191.7"/><use href="#mx" x="492.5" y="160.2"/><use href="#md" x="522.9" y="190.2"/><use href="#mx" x="400.5" y="81.8"/><use href="#mx" x="532.4" y="202.4"/><use href="#mx" x="561.0" y="244.0"/><use href="#md" x="563.2" y="247.8"/><use href="#mx" x="575.0" y="270.2"/><use href="#mx" x="499.0" y="165.2"/><use href="#mx" x="550.1" y="230.1"/><use href="#mx" x="492.4" y="165.7"/><use href="#mx" x="556.1" y="239.4"/><use href="#mx" x="410.1" y="80.5"/><use href="#md" x="399.1" y="59.2"/><use href="#mx" x="515.0" y="189.9"/><use href="#mx" x="394.4" y="84.8"/><use href="#mx" x="392.9" y="90.5"/><use href="#mx" x="476.3" y="134.9"/><use href="#mx" x="578.8" y="279.1"/><use href="#mx" x="406.7" y="84.9"/><use href="#mx" x="556.7" y="234.5"/><use href="#mx" x="393.1" y="75.9"/><use href="#md" x="508.4" y="168.1"/><use href="#mx" x="411.7" y="85.4"/><use href="#mx" x="550.3" y="232.2"/><use href="#mx" x="433.2" y="84.7"/><use href="#mx" x="572.5" y="263.5"/><use href="#mx" x="578.6" y="278.9"/><use href="#md" x="577.0" y="266.5"/><use href="#mx" x="403.9" y="79.8"/><use href="#mx" x="503.5" y="169.8"/><use href="#mx" x="518.9" y="194.6"/><use href="#mx" x="431.3" y="83.4"/><use href="#mx" x="493.1" y="155.6"/><use href="#mx" x="498.5" y="164.3"/><use href="#mx" x="442.1" y="95.5"/><use href="#mx" x="575.0" y="272.0"/><use href="#mx" x="409.8" y="74.2"/><use href="#mx" x="523.6" y="192.0"/><use href="#mx" x="498.8" y="165.8"/><use href="#mx" x="452.7" y="100.0"/><use href="#mx" x="549.3" y="228.7"/><use href="#mx" x="443.5" y="94.1"/><use href="#md" x="546.6" y="228.4"/><use href="#mx" x="598.0" y="301.7"/><use href="#mx" x="555.7" y="238.2"/><use href="#mx" x="398.7" y="81.0"/><use href="#mx" x="528.6" y="203.7"/><use href="#mx" x="569.8" y="255.7"/><use href="#mx" x="542.6" y="223.0"/><use href="#mx" x="492.0" y="160.5"/><use href="#mx" x="492.4" y="161.4"/><use href="#mx" x="483.7" y="145.9"/><use href="#mx" x="538.3" y="216.9"/><use href="#mx" x="587.3" y="296.8"/><use href="#mx" x="523.0" y="196.3"/><use href="#mx" x="579.7" y="276.9"/><use href="#mx" x="582.4" y="283.9"/><use href="#mx" x="460.3" y="107.4"/><use href="#mx" x="441.4" y="89.4"/><use href="#mx" x="498.9" y="163.6"/><use href="#mx" x="585.1" y="296.4"/><use href="#md" x="488.4" y="141.3"/><use href="#mx" x="435.5" y="82.0"/><use href="#mx" x="413.2" y="82.7"/><use href="#mx" x="519.1" y="191.9"/><use href="#mx" x="573.3" y="265.1"/><use href="#mx" x="556.2" y="236.1"/><use href="#mx" x="458.6" y="109.4"/><use href="#md" x="546.6" y="232.5"/><use href="#mx" x="403.4" y="76.8"/><use href="#mx" x="542.9" y="224.1"/><use href="#mx" x="600.4" y="303.5"/><use href="#mx" x="519.3" y="193.0"/><use href="#mx" x="484.5" y="150.2"/><use href="#md" x="417.6" y="57.7"/><use href="#mx" x="597.5" y="301.0"/><use href="#md" x="487.8" y="155.9"/><use href="#mx" x="578.3" y="275.6"/><use href="#mx" x="398.3" y="77.1"/><use href="#mx" x="405.2" y="78.9"/><use href="#mx" x="403.1" y="72.7"/><use href="#mx" x="417.9" y="83.3"/><use href="#mx" x="574.7" y="271.2"/><use href="#mx" x="411.7" y="75.4"/><use href="#md" x="552.8" y="228.3"/><use href="#mx" x="542.3" y="224.8"/><use href="#mx" x="542.2" y="224.1"/><use href="#md" x="566.8" y="249.8"/><use href="#mx" x="582.0" y="288.0"/><use href="#md" x="404.4" y="77.3"/><use href="#mx" x="592.5" y="299.9"/><use href="#mx" x="514.1" y="186.4"/><use href="#md" x="396.2" y="55.3"/><use href="#mx" x="520.1" y="189.0"/><use href="#mx" x="508.6" y="180.5"/><use href="#mx" x="542.9" y="218.0"/><use href="#mx" x="418.4" y="84.8"/><use href="#mx" x="444.6" y="87.5"/><use href="#mx" x="585.0" y="295.1"/><use href="#mx" x="579.2" y="275.0"/><use href="#mx" x="541.7" y="220.1"/><use href="#mx" x="556.1" y="235.6"/><use href="#mx" x="498.8" y="164.0"/><use href="#mx" x="537.4" y="217.9"/><use href="#mx" x="528.8" y="203.1"/><use href="#mx" x="509.6" y="181.3"/><use href="#mx" x="504.2" y="170.6"/><use href="#mx" x="570.2" y="251.7"/><use href="#mx" x="472.6" y="130.6"/><use href="#mx" x="532.8" y="207.6"/><use href="#md" x="488.6" y="151.3"/><use href="#mx" x="483.5" y="150.9"/><use href="#mx" x="519.9" y="190.4"/><use href="#mx" x="561.4" y="247.8"/><use href="#mx" x="409.1" y="81.5"/><use href="#mx" x="573.3" y="262.3"/><use href="#mx" x="528.2" y="198.4"/><use href="#mx" x="569.8" y="259.3"/><use href="#mx" x="404.6" y="74.0"/><use href="#mx" x="589.6" y="297.1"/><use href="#md" x="406.0" y="71.5"/><use href="#mx" x="593.6" y="299.5"/><use href="#mx" x="492.3" y="161.1"/><use href="#mx" x="514.8" y="186.5"/><use href="#mx" x="483.8" y="146.7"/><use href="#mx" x="514.7" y="190.1"/><use href="#md" x="396.0" y="52.8"/><use href="#md" x="497.6" y="156.5"/><use href="#md" x="402.7" y="88.7"/><use href="#mx" x="548.9" y="228.0"/><use href="#mx" x="581.2" y="286.3"/><use href="#mx" x="537.8" y="217.7"/><use href="#mx" x="427.5" y="81.1"/><use href="#mx" x="473.9" y="129.2"/><use href="#mx" x="444.7" y="89.4"/><use href="#mx" x="398.2" y="76.0"/><use href="#mx" x="437.0" y="92.5"/><use href="#mx" x="584.5" y="292.1"/><use href="#mx" x="583.6" y="295.8"/><use href="#md" x="546.4" y="228.4"/><use href="#mx" x="549.3" y="231.2"/><use href="#mx" x="509.5" y="180.4"/><use href="#mx" x="534.3" y="213.6"/><use href="#mx" x="458.8" y="111.4"/><use href="#mx" x="533.9" y="207.2"/><use href="#mx" x="591.1" y="297.8"/><use href="#md" x="421.2" y="66.7"/><use href="#mx" x="596.0" y="301.0"/><use href="#mx" x="538.9" y="217.3"/><use href="#mx" x="509.8" y="184.5"/><use href="#mx" x="458.3" y="110.4"/><use href="#md" x="507.3" y="171.2"/><use href="#mx" x="398.6" y="86.1"/><use href="#mx" x="519.5" y="190.9"/><use href="#mx" x="467.3" y="118.9"/><use href="#mx" x="466.9" y="113.0"/><use href="#mx" x="401.6" y="86.3"/><use href="#mx" x="504.2" y="177.4"/><use href="#mx" x="483.9" y="146.1"/><use href="#mx" x="430.2" y="86.0"/><use href="#mx" x="397.8" y="88.5"/><use href="#mx" x="419.3" y="80.4"/><use href="#mx" x="464.4" y="118.9"/><use href="#mx" x="524.1" y="203.1"/><use href="#mx" x="402.0" y="85.6"/><use href="#mx" x="549.6" y="227.2"/><use href="#mx" x="564.2" y="249.8"/><use href="#mx" x="556.8" y="238.6"/><use href="#md" x="498.5" y="159.2"/><use href="#md" x="575.8" y="260.7"/><use href="#mx" x="565.1" y="253.5"/><use href="#mx" x="561.7" y="241.2"/><use href="#mx" x="429.6" y="78.5"/><use href="#mx" x="538.1" y="215.0"/><use href="#mx" x="561.0" y="244.3"/><use href="#mx" x="405.0" y="75.9"/><use href="#mx" x="399.9" y="84.6"/><use href="#mx" x="465.3" y="118.9"/><use href="#mx" x="473.8" y="142.0"/><use href="#md" x="396.1" y="81.9"/><use href="#mx" x="515.3" y="183.7"/><use href="#mx" x="561.7" y="243.3"/><use href="#mx" x="396.6" y="79.4"/><use href="#mx" x="514.4" y="185.6"/><use href="#mx" x="565.1" y="247.3"/><use href="#mx" x="573.1" y="264.6"/><use href="#mx" x="581.6" y="286.8"/><use href="#mx" x="588.9" y="296.9"/><use href="#mx" x="413.0" y="77.1"/><use href="#md" x="502.5" y="164.0"/><use href="#mx" x="396.0" y="74.2"/><use href="#md" x="497.4" y="160.1"/><use href="#md" x="545.3" y="218.3"/><use href="#mx" x="441.2" y="93.9"/><use href="#mx" x="604.0" y="305.9"/><use href="#mx" x="596.8" y="301.7"/><use href="#mx" x="561.7" y="244.4"/><use href="#mx" x="464.8" y="108.7"/><use href="#md" x="405.5" y="71.3"/><use href="#mx" x="419.6" y="81.2"/><use href="#mx" x="493.6" y="161.4"/><use href="#mx" x="403.9" y="80.6"/><use href="#mx" x="549.7" y="232.0"/><use href="#mx" x="401.2" y="81.0"/><use href="#mx" x="576.0" y="268.8"/><use href="#mx" x="424.7" y="86.4"/><use href="#mx" x="509.6" y="184.6"/><use href="#mx" x="416.0" y="83.6"/><use href="#mx" x="470.4" y="119.8"/><use href="#md" x="413.4" y="55.9"/><use href="#mx" x="475.7" y="136.1"/><use href="#mx" x="430.1" y="83.5"/><use href="#mx" x="543.7" y="224.4"/><use href="#mx" x="533.6" y="206.0"/><use href="#md" x="522.6" y="190.5"/><use href="#mx" x="527.5" y="202.9"/><use href="#mx" x="413.8" y="82.7"/><use href="#mx" x="398.8" y="84.4"/><use href="#mx" x="590.3" y="297.6"/><use href="#mx" x="522.5" y="198.2"/><use href="#mx" x="528.1" y="200.6"/><use href="#mx" x="550.0" y="228.7"/><use href="#mx" x="560.6" y="245.0"/><use href="#mx" x="509.0" y="174.8"/><use href="#mx" x="584.4" y="291.4"/><use href="#mx" x="450.4" y="104.1"/><use href="#mx" x="460.0" y="109.4"/><use href="#mx" x="549.8" y="231.5"/><use href="#mx" x="575.8" y="269.1"/><use href="#mx" x="442.5" y="90.2"/><use href="#mx" x="509.8" y="182.3"/><use href="#md" x="403.1" y="72.4"/><use href="#mx" x="413.8" y="79.8"/><use href="#mx" x="537.6" y="217.1"/><use href="#mx" x="519.2" y="195.3"/><use href="#md" x="409.3" y="93.4"/><use href="#mx" x="578.9" y="275.2"/><use href="#mx" x="470.2" y="128.6"/><use href="#mx" x="510.1" y="184.5"/><use href="#mx" x="493.0" y="166.4"/><use href="#mx" x="485.0" y="142.6"/><use href="#md" x="608.3" y="305.6"/><use href="#mx" x="581.7" y="285.8"/><use href="#mx" x="537.5" y="215.6"/><use href="#md" x="528.0" y="193.6"/><use href="#mx" x="510.3" y="181.3"/><use href="#md" x="546.0" y="220.2"/><use href="#mx" x="597.5" y="301.2"/><use href="#mx" x="499.2" y="163.3"/><use href="#mx" x="555.7" y="237.7"/><use href="#mx" x="393.7" y="83.8"/><use href="#mx" x="533.4" y="210.8"/><use href="#mx" x="584.2" y="291.4"/><use href="#mx" x="549.0" y="227.2"/><use href="#mx" x="394.4" y="80.6"/><use href="#mx" x="404.4" y="88.2"/><use href="#md" x="405.9" y="86.2"/><use href="#md" x="396.5" y="51.5"/><use href="#mx" x="416.2" y="83.1"/><use href="#mx" x="538.1" y="213.7"/><use href="#mx" x="395.5" y="85.8"/><use href="#mx" x="472.4" y="127.2"/><use href="#mx" x="407.5" y="83.6"/><use href="#mx" x="509.1" y="178.8"/><use href="#mx" x="519.6" y="191.1"/><use href="#md" x="553.2" y="230.8"/><use href="#mx" x="443.0" y="92.2"/><use href="#mx" x="522.7" y="200.9"/><use href="#mx" x="569.7" y="256.8"/><use href="#mx" x="424.4" y="75.4"/><use href="#mx" x="465.7" y="107.8"/><use href="#mx" x="523.9" y="199.9"/><use href="#mx" x="555.5" y="237.7"/><use href="#mx" x="529.0" y="201.3"/><use href="#mx" x="492.5" y="160.3"/><use href="#mx" x="484.8" y="143.2"/><use href="#mx" x="484.0" y="134.8"/><use href="#mx" x="400.6" y="81.2"/><use href="#mx" x="597.1" y="302.0"/><use href="#mx" x="537.1" y="213.4"/><use href="#mx" x="413.0" y="74.9"/><use href="#mx" x="585.0" y="294.4"/><use href="#mx" x="485.4" y="140.2"/><use href="#mx" x="400.3" y="89.3"/><use href="#mx" x="519.7" y="192.6"/><use href="#mx" x="404.1" y="82.4"/><use href="#mx" x="396.0" y="80.2"/><use href="#md" x="417.3" y="62.7"/><use href="#md" x="406.1" y="65.7"/><use href="#mx" x="509.6" y="181.4"/><use href="#mx" x="514.6" y="189.9"/><use href="#mx" x="583.3" y="290.1"/><use href="#md" x="513.8" y="175.6"/><use href="#md" x="399.2" y="84.4"/><use href="#md" x="409.8" y="77.6"/><use href="#mx" x="477.4" y="137.1"/><use href="#mx" x="549.1" y="230.4"/><use href="#mx" x="588.7" y="297.4"/><use href="#mx" x="600.0" y="302.3"/><use href="#md" x="420.3" y="63.6"/><use href="#md" x="409.5" y="76.6"/><use href="#mx" x="543.1" y="221.1"/><use href="#md" x="522.3" y="190.1"/><use href="#mx" x="575.4" y="270.3"/><use href="#mx" x="576.1" y="270.3"/><use href="#mx" x="524.3" y="198.1"/><use href="#mx" x="410.9" y="73.6"/><use href="#md" x="552.6" y="228.6"/><use href="#mx" x="403.6" y="81.9"/><use href="#mx" x="578.1" y="278.3"/><use href="#mx" x="588.5" y="296.1"/><use href="#mx" x="417.1" y="78.8"/><use href="#mx" x="579.2" y="275.9"/><use href="#mx" x="518.4" y="188.8"/><use href="#mx" x="605.0" y="304.9"/><use href="#mx" x="594.5" y="300.4"/><use href="#mx" x="483.6" y="143.9"/><use href="#md" x="513.2" y="178.2"/><use href="#mx" x="449.6" y="104.4"/><use href="#mx" x="518.6" y="195.0"/><use href="#mx" x="499.7" y="167.6"/><use href="#md" x="411.1" y="69.3"/><use href="#mx" x="458.5" y="106.2"/><use href="#mx" x="556.8" y="237.3"/><use href="#md" x="399.4" y="65.1"/><use href="#mx" x="504.6" y="171.6"/><use href="#mx" x="399.1" y="84.8"/><use href="#mx" x="584.8" y="292.8"/><use href="#mx" x="461.3" y="111.4"/><use href="#md" x="578.4" y="272.1"/><use href="#mx" x="437.9" y="91.1"/><use href="#md" x="527.6" y="195.6"/><use href="#mx" x="499.2" y="170.0"/><use href="#md" x="400.2" y="51.8"/><use href="#mx" x="503.2" y="171.8"/><use href="#mx" x="578.9" y="278.7"/><use href="#mx" x="450.1" y="97.1"/><use href="#mx" x="457.8" y="108.6"/><use href="#mx" x="524.2" y="194.9"/><use href="#mx" x="582.8" y="285.7"/><use href="#mx" x="560.3" y="242.6"/><use href="#mx" x="409.3" y="86.0"/><use href="#mx" x="565.0" y="247.4"/><use href="#mx" x="451.8" y="99.6"/><use href="#mx" x="413.0" y="80.6"/><use href="#mx" x="606.0" y="303.7"/><use href="#mx" x="565.6" y="251.3"/><use href="#mx" x="561.9" y="242.8"/><use href="#mx" x="432.6" y="87.6"/><use href="#mx" x="556.3" y="234.4"/><use href="#mx" x="484.6" y="147.3"/><use href="#mx" x="583.4" y="293.8"/><use href="#mx" x="404.6" y="86.7"/><use href="#mx" x="456.0" y="115.5"/><use href="#mx" x="472.9" y="120.6"/><use href="#mx" x="456.3" y="104.8"/><use href="#mx" x="549.4" y="226.9"/><use href="#mx" x="550.3" y="230.3"/><use href="#mx" x="574.9" y="271.6"/><use href="#mx" x="569.7" y="255.6"/><use href="#mx" x="475.5" y="127.9"/><use href="#mx" x="420.9" y="78.4"/><use href="#mx" x="435.5" y="90.4"/><use href="#mx" x="503.3" y="170.1"/><use href="#mx" x="528.9" y="202.0"/><use href="#mx" x="583.4" y="289.9"/><use href="#mx" x="524.1" y="195.1"/><use href="#mx" x="449.2" y="97.5"/><use href="#mx" x="565.5" y="250.7"/><use href="#mx" x="519.8" y="192.2"/><use href="#mx" x="419.4" y="80.1"/><use href="#mx" x="498.4" y="163.8"/><use href="#mx" x="451.6" y="106.8"/><use href="#mx" x="416.9" y="87.6"/><use href="#mx" x="578.7" y="278.6"/><use href="#mx" x="493.4" y="154.3"/><use href="#mx" x="504.1" y="169.5"/><use href="#mx" x="583.2" y="292.7"/><use href="#mx" x="542.9" y="225.4"/><use href="#mx" x="413.7" y="87.0"/><use href="#mx" x="400.6" y="79.7"/><use href="#mx" x="513.5" y="189.0"/><use href="#mx" x="493.1" y="153.9"/><use href="#mx" x="570.2" y="260.0"/><use href="#mx" x="573.4" y="259.9"/><use href="#mx" x="570.2" y="259.6"/><use href="#mx" x="556.2" y="238.7"/><use href="#mx" x="504.1" y="170.8"/><use href="#mx" x="569.5" y="254.2"/><use href="#mx" x="583.3" y="292.1"/><use href="#mx" x="396.5" y="74.8"/><use href="#mx" x="578.9" y="276.8"/><use href="#mx" x="572.8" y="263.9"/><use href="#mx" x="484.4" y="142.7"/><use href="#mx" x="412.0" y="82.9"/><use href="#mx" x="484.1" y="149.2"/><use href="#mx" x="569.9" y="257.7"/><use href="#mx" x="504.3" y="171.4"/><use href="#mx" x="573.9" y="264.8"/><use href="#mx" x="589.4" y="297.2"/><use href="#mx" x="548.7" y="232.1"/><use href="#mx" x="400.4" y="78.0"/><use href="#mx" x="581.9" y="284.7"/><use href="#mx" x="483.0" y="146.5"/><use href="#mx" x="532.3" y="206.4"/><use href="#mx" x="439.8" y="90.3"/><use href="#mx" x="589.0" y="296.6"/><use href="#mx" x="400.1" y="80.6"/><use href="#mx" x="514.3" y="186.2"/><use href="#mx" x="449.5" y="103.5"/><use href="#mx" x="573.4" y="264.8"/><use href="#mx" x="515.6" y="183.9"/><use href="#mx" x="504.4" y="172.1"/><use href="#mx" x="541.5" y="221.3"/><use href="#mx" x="565.8" y="250.2"/><use href="#mx" x="398.0" y="73.6"/><use href="#mx" x="485.0" y="145.6"/><use href="#mx" x="541.7" y="222.7"/><use href="#mx" x="584.1" y="293.1"/><use href="#mx" x="437.5" y="86.7"/><use href="#mx" x="537.2" y="217.8"/><use href="#mx" x="583.1" y="291.1"/><use href="#mx" x="397.8" y="87.4"/><use href="#mx" x="581.4" y="287.4"/><use href="#mx" x="575.5" y="269.8"/><use href="#mx" x="410.9" y="74.3"/><use href="#mx" x="464.7" y="120.5"/><use href="#mx" x="523.8" y="197.5"/><use href="#mx" x="498.6" y="164.9"/><use href="#mx" x="434.7" y="87.8"/><use href="#mx" x="587.3" y="296.5"/><use href="#mx" x="514.1" y="185.5"/><use href="#mx" x="452.4" y="97.8"/><use href="#mx" x="403.7" y="81.9"/><use href="#mx" x="491.4" y="161.2"/><use href="#mx" x="504.6" y="173.9"/><use href="#mx" x="522.6" y="201.5"/><use href="#mx" x="533.3" y="209.1"/><use href="#mx" x="422.1" y="82.4"/><use href="#mx" x="555.9" y="232.5"/><use href="#mx" x="484.1" y="140.0"/><use href="#mx" x="472.0" y="128.2"/><use href="#mx" x="431.5" y="79.7"/><use href="#mx" x="471.5" y="125.2"/><use href="#mx" x="419.7" y="79.4"/><use href="#mx" x="599.0" y="302.8"/><use href="#mx" x="422.3" y="78.0"/><use href="#mx" x="504.0" y="172.1"/><use href="#mx" x="575.8" y="269.3"/><use href="#mx" x="524.2" y="197.9"/><use href="#mx" x="508.9" y="177.4"/><use href="#mx" x="407.2" y="79.9"/><use href="#mx" x="579.3" y="276.4"/><use href="#mx" x="581.5" y="284.5"/><use href="#mx" x="427.7" y="83.9"/><use href="#mx" x="593.2" y="300.3"/><use href="#mx" x="498.6" y="167.6"/><use href="#mx" x="465.5" y="116.4"/><use href="#mx" x="477.1" y="131.3"/><use href="#mx" x="565.1" y="250.8"/><use href="#mx" x="476.3" y="135.1"/><use href="#mx" x="493.7" y="151.1"/><use href="#mx" x="450.6" y="95.1"/><use href="#mx" x="573.1" y="263.6"/><use href="#mx" x="458.6" y="105.7"/><use href="#mx" x="574.9" y="270.5"/><use href="#mx" x="584.6" y="292.4"/><use href="#mx" x="401.5" y="74.8"/><use href="#mx" x="510.9" y="177.0"/><use href="#mx" x="584.2" y="290.6"/><use href="#mx" x="457.9" y="110.5"/><use href="#mx" x="499.0" y="167.8"/><use href="#mx" x="476.7" y="139.5"/><use href="#mx" x="407.4" y="74.2"/><use href="#mx" x="492.9" y="160.6"/><use href="#mx" x="565.2" y="249.1"/><use href="#mx" x="603.9" y="304.2"/><use href="#mx" x="403.5" y="71.7"/><use href="#mx" x="556.3" y="237.4"/><use href="#mx" x="528.3" y="199.6"/><use href="#mx" x="598.6" y="303.5"/><use href="#mx" x="412.1" y="78.6"/><use href="#mx" x="564.3" y="249.2"/><use href="#mx" x="420.7" y="80.5"/><use href="#mx" x="475.1" y="131.4"/><use href="#mx" x="472.8" y="129.1"/><use href="#mx" x="566.0" y="247.4"/><use href="#mx" x="569.2" y="253.7"/><use href="#mx" x="472.4" y="121.6"/><use href="#mx" x="498.4" y="171.0"/><use href="#mx" x="509.5" y="180.3"/><use href="#mx" x="394.0" y="92.9"/><use href="#mx" x="472.3" y="121.0"/><use href="#mx" x="537.6" y="214.3"/><use href="#mx" x="392.8" y="91.3"/><use href="#mx" x="585.8" y="296.1"/><use href="#mx" x="575.6" y="274.2"/><use href="#mx" x="581.5" y="284.9"/><use href="#mx" x="590.9" y="296.8"/><use href="#mx" x="602.6" y="305.0"/><use href="#mx" x="414.4" y="83.6"/><use href="#mx" x="537.9" y="216.4"/><use href="#mx" x="504.1" y="171.0"/><use href="#mx" x="514.7" y="181.6"/><use href="#mx" x="446.1" y="101.1"/><use href="#mx" x="411.3" y="74.0"/><use href="#mx" x="408.2" y="79.8"/><use href="#mx" x="537.6" y="213.4"/><use href="#mx" x="556.8" y="239.2"/><use href="#mx" x="411.3" y="89.0"/><use href="#mx" x="537.0" y="215.5"/><use href="#mx" x="568.9" y="253.4"/><use href="#mx" x="534.3" y="208.1"/><use href="#mx" x="432.5" y="84.9"/><use href="#mx" x="523.2" y="198.2"/><use href="#mx" x="556.1" y="236.3"/><use href="#mx" x="579.2" y="278.2"/><use href="#mx" x="581.9" y="283.0"/><use href="#mx" x="575.0" y="265.8"/><use href="#mx" x="434.4" y="83.5"/><use href="#mx" x="565.2" y="251.2"/><use href="#mx" x="538.3" y="217.1"/><use href="#mx" x="549.6" y="227.5"/><use href="#mx" x="398.4" y="91.7"/><use href="#mx" x="412.5" y="80.0"/><use href="#mx" x="504.4" y="173.0"/><use href="#mx" x="442.2" y="90.9"/><use href="#mx" x="569.3" y="256.9"/><use href="#mx" x="470.1" y="129.8"/><use href="#mx" x="590.7" y="298.1"/><use href="#mx" x="499.7" y="166.4"/><use href="#mx" x="523.7" y="194.7"/><use href="#mx" x="465.8" y="121.8"/><use href="#mx" x="590.6" y="298.1"/><use href="#mx" x="518.8" y="190.2"/><use href="#mx" x="532.6" y="208.7"/><use href="#mx" x="556.2" y="236.8"/><use href="#mx" x="537.1" y="215.6"/><use href="#mx" x="602.2" y="303.7"/><use href="#mx" x="575.2" y="270.5"/><use href="#mx" x="509.4" y="175.9"/><use href="#mx" x="410.5" y="72.3"/><use href="#mx" x="542.7" y="220.9"/><use href="#mx" x="514.3" y="187.5"/><use href="#mx" x="454.9" y="110.8"/><use href="#mx" x="411.8" y="73.6"/><use href="#mx" x="584.0" y="292.3"/><use href="#mx" x="604.6" y="305.5"/><use href="#mx" x="584.1" y="291.0"/><use href="#mx" x="562.2" y="242.2"/><use href="#mx" x="392.8" y="77.5"/><use href="#mx" x="406.9" y="85.5"/><use href="#mx" x="565.4" y="247.9"/><use href="#mx" x="537.0" y="214.2"/><use href="#mx" x="429.8" y="86.6"/><use href="#mx" x="514.3" y="185.2"/><use href="#mx" x="415.0" y="76.6"/><use href="#mx" x="578.4" y="274.8"/><use href="#mx" x="519.2" y="190.5"/><use href="#mx" x="582.1" y="287.0"/><use href="#mx" x="422.5" y="82.1"/><use href="#mx" x="583.2" y="294.0"/><use href="#mx" x="408.0" y="82.1"/><use href="#mx" x="542.8" y="219.6"/><use href="#mx" x="533.1" y="205.1"/><use href="#mx" x="409.0" y="78.4"/><use href="#mx" x="409.0" y="85.1"/><use href="#mx" x="541.5" y="220.3"/><use href="#mx" x="541.7" y="221.9"/><use href="#mx" x="518.4" y="189.6"/><use href="#mx" x="569.6" y="254.9"/><use href="#mx" x="587.5" y="296.5"/><use href="#mx" x="548.5" y="229.2"/><use href="#mx" x="581.5" y="285.9"/><use href="#mx" x="407.1" y="79.4"/><use href="#mx" x="503.2" y="173.4"/><use href="#mx" x="475.6" y="132.1"/><use href="#mx" x="472.2" y="121.3"/><use href="#mx" x="565.3" y="253.0"/><use href="#mx" x="407.8" y="76.4"/><use href="#mx" x="534.0" y="207.2"/><use href="#mx" x="414.0" y="86.4"/><use href="#mx" x="556.3" y="239.5"/><use href="#mx" x="420.6" y="83.1"/><use href="#mx" x="529.0" y="199.9"/><use href="#mx" x="456.8" y="114.9"/><use href="#mx" x="581.3" y="286.7"/><use href="#mx" x="605.4" y="304.8"/><use href="#mx" x="549.0" y="231.0"/><use href="#mx" x="466.1" y="117.0"/><use href="#mx" x="514.6" y="186.6"/><use href="#mx" x="575.6" y="269.6"/><use href="#mx" x="568.3" y="255.1"/><use href="#mx" x="504.1" y="172.4"/><use href="#mx" x="560.6" y="246.2"/><use href="#mx" x="415.5" y="81.3"/><use href="#mx" x="583.1" y="292.6"/><use href="#mx" x="599.8" y="300.1"/><use href="#mx" x="570.8" y="259.7"/><use href="#mx" x="420.7" y="81.8"/><use href="#mx" x="498.8" y="165.7"/><use href="#mx" x="402.4" y="81.0"/><use href="#mx" x="591.2" y="300.4"/><use href="#mx" x="503.9" y="170.0"/><use href="#mx" x="442.0" y="94.9"/><use href="#mx" x="586.3" y="296.6"/><use href="#mx" x="426.4" y="83.1"/><use href="#mx" x="498.0" y="168.1"/><use href="#mx" x="514.7" y="185.8"/><use href="#mx" x="412.1" y="83.3"/><use href="#mx" x="569.5" y="257.4"/><use href="#mx" x="458.4" y="106.1"/><use href="#mx" x="498.5" y="165.6"/><use href="#mx" x="420.0" y="78.1"/><use href="#mx" x="518.7" y="195.7"/><use href="#mx" x="464.1" y="118.3"/><use href="#mx" x="550.8" y="231.5"/><use href="#mx" x="549.1" y="227.6"/><use href="#mx" x="549.8" y="227.9"/><use href="#mx" x="519.2" y="190.0"/><use href="#mx" x="422.1" y="79.9"/><use href="#mx" x="592.2" y="299.8"/><use href="#mx" x="578.3" y="275.7"/><use href="#mx" x="436.1" y="92.5"/><use href="#mx" x="599.2" y="300.8"/><use href="#mx" x="569.6" y="254.6"/><use href="#mx" x="596.9" y="299.9"/><use href="#mx" x="573.0" y="265.8"/><use href="#mx" x="584.4" y="296.4"/><use href="#mx" x="582.7" y="282.5"/><use href="#mx" x="584.2" y="291.5"/><use href="#mx" x="582.7" y="286.9"/><use href="#mx" x="469.6" y="130.6"/><use href="#mx" x="499.0" y="167.8"/><use href="#mx" x="527.9" y="200.2"/><use href="#mx" x="573.0" y="264.3"/><use href="#mx" x="533.3" y="208.4"/><use href="#mx" x="573.9" y="265.8"/><use href="#mx" x="393.6" y="74.3"/><use href="#mx" x="427.4" y="82.3"/><use href="#mx" x="394.4" y="91.2"/><use href="#mx" x="590.9" y="299.2"/><use href="#mx" x="528.5" y="200.4"/><use href="#mx" x="436.9" y="86.4"/><use href="#mx" x="408.4" y="80.5"/><use href="#mx" x="542.6" y="218.4"/><use href="#mx" x="466.2" y="112.6"/><use href="#mx" x="550.3" y="228.1"/><use href="#mx" x="509.2" y="178.9"/><use href="#mx" x="573.1" y="262.4"/><use href="#mx" x="484.4" y="144.9"/><use href="#mx" x="565.1" y="248.2"/><use href="#mx" x="533.6" y="209.8"/><use href="#mx" x="441.7" y="97.7"/><use href="#mx" x="528.1" y="199.7"/><use href="#mx" x="430.7" y="87.0"/><use href="#mx" x="528.2" y="200.0"/><use href="#mx" x="426.1" y="83.9"/><use href="#mx" x="471.7" y="126.9"/><use href="#mx" x="532.3" y="208.2"/><use href="#mx" x="514.7" y="185.7"/><use href="#mx" x="435.3" y="89.0"/><use href="#mx" x="433.3" y="80.2"/><use href="#mx" x="555.6" y="236.9"/><use href="#mx" x="419.3" y="84.3"/><use href="#mx" x="394.3" y="90.7"/><use href="#mx" x="514.2" y="191.0"/><use href="#mx" x="449.6" y="101.4"/><use href="#mx" x="573.1" y="264.1"/><use href="#mx" x="569.6" y="254.2"/><use href="#mx" x="528.5" y="201.2"/><use href="#mx" x="424.7" y="80.4"/><use href="#mx" x="408.9" y="86.8"/><use href="#mx" x="584.5" y="295.6"/><use href="#mx" x="538.2" y="215.4"/><use href="#mx" x="514.1" y="187.4"/><use href="#mx" x="449.3" y="101.9"/><use href="#mx" x="422.2" y="87.2"/><use href="#mx" x="584.1" y="291.1"/><use href="#mx" x="483.2" y="154.1"/><use href="#mx" x="402.5" y="82.2"/><use href="#mx" x="579.2" y="275.5"/><use href="#mx" x="502.3" y="174.2"/><use href="#mx" x="397.0" y="79.3"/><use href="#mx" x="518.0" y="186.7"/><use href="#mx" x="404.7" y="86.1"/><use href="#mx" x="565.2" y="252.3"/><use href="#mx" x="573.1" y="263.1"/><use href="#mx" x="564.5" y="249.1"/><use href="#mx" x="583.0" y="290.6"/><use href="#mx" x="534.4" y="210.7"/><use href="#mx" x="569.5" y="258.2"/><use href="#mx" x="437.9" y="87.0"/><use href="#mx" x="581.6" y="287.2"/><use href="#mx" x="425.0" y="83.6"/><use href="#mx" x="573.1" y="265.5"/><use href="#mx" x="549.5" y="229.7"/><use href="#mx" x="436.5" y="91.7"/><use href="#mx" x="542.7" y="221.9"/><use href="#mx" x="573.4" y="263.8"/><use href="#mx" x="573.2" y="266.8"/><use href="#mx" x="529.1" y="204.1"/><use href="#mx" x="451.2" y="97.2"/><use href="#mx" x="483.8" y="141.9"/><use href="#mx" x="582.0" y="287.7"/><use href="#mx" x="560.8" y="245.6"/><use href="#mx" x="436.4" y="87.6"/><use href="#mx" x="498.8" y="168.9"/><use href="#mx" x="492.5" y="156.2"/><use href="#mx" x="409.0" y="75.2"/><use href="#mx" x="492.4" y="160.8"/><use href="#mx" x="583.9" y="292.3"/><use href="#mx" x="393.8" y="82.9"/><use href="#mx" x="592.1" y="300.3"/><use href="#mx" x="484.2" y="135.0"/><use href="#mx" x="396.8" y="82.0"/><use href="#mx" x="415.3" y="77.5"/><use href="#mx" x="582.6" y="285.5"/><use href="#mx" x="538.3" y="213.9"/><use href="#mx" x="436.4" y="84.4"/><use href="#mx" x="492.6" y="160.0"/><use href="#mx" x="510.2" y="181.5"/><use href="#mx" x="473.1" y="125.7"/><use href="#mx" x="425.5" y="84.4"/><use href="#mx" x="417.2" y="81.6"/><use href="#mx" x="524.2" y="199.6"/><use href="#mx" x="469.3" y="124.6"/><use href="#mx" x="439.2" y="86.4"/><use href="#mx" x="524.2" y="199.5"/><use href="#mx" x="587.9" y="295.2"/><use href="#mx" x="410.6" y="81.5"/><use href="#mx" x="498.8" y="166.8"/><use href="#mx" x="442.4" y="93.3"/><use href="#mx" x="570.1" y="253.9"/><use href="#mx" x="560.7" y="241.1"/><use href="#mx" x="573.6" y="260.7"/><use href="#mx" x="581.4" y="286.9"/><use href="#mx" x="409.0" y="77.5"/><use href="#mx" x="518.8" y="188.7"/><use href="#mx" x="528.9" y="203.9"/><use href="#mx" x="579.5" y="277.2"/><use href="#mx" x="417.7" y="76.8"/><use href="#mx" x="580.0" y="276.5"/><use href="#mx" x="443.4" y="102.8"/><use href="#mx" x="569.5" y="259.5"/><use href="#mx" x="400.8" y="80.8"/><use href="#mx" x="559.2" y="243.9"/><use href="#mx" x="590.3" y="300.0"/><use href="#mx" x="541.5" y="221.8"/><use href="#mx" x="442.4" y="87.0"/><use href="#mx" x="572.6" y="267.9"/><use href="#mx" x="431.2" y="81.3"/><use href="#mx" x="504.2" y="172.1"/><use href="#mx" x="523.8" y="193.4"/><use href="#mx" x="452.1" y="96.6"/><use href="#mx" x="548.9" y="227.5"/><use href="#mx" x="533.5" y="207.0"/><use href="#mx" x="597.3" y="302.5"/><use href="#mx" x="528.1" y="202.6"/><use href="#mx" x="514.9" y="186.2"/><use href="#mx" x="411.8" y="78.7"/><use href="#mx" x="405.3" y="80.3"/><use href="#mx" x="420.1" y="85.5"/><use href="#mx" x="463.9" y="117.1"/><use href="#mx" x="408.8" y="74.5"/><use href="#mx" x="470.3" y="127.5"/><use href="#mx" x="464.4" y="113.9"/><use href="#mx" x="448.7" y="102.5"/><use href="#mx" x="555.3" y="237.9"/><use href="#mx" x="477.1" y="131.4"/><use href="#mx" x="528.7" y="199.8"/><use href="#mx" x="519.5" y="194.4"/><use href="#mx" x="582.9" y="287.6"/><use href="#mx" x="583.4" y="292.6"/><use href="#mx" x="474.2" y="141.2"/><use href="#mx" x="527.9" y="200.9"/><use href="#mx" x="403.1" y="84.3"/><use href="#mx" x="600.4" y="302.4"/><use href="#mx" x="403.3" y="88.9"/><use href="#mx" x="539.0" y="217.5"/><use href="#mx" x="532.6" y="204.8"/><use href="#mx" x="451.1" y="105.2"/><use href="#mx" x="536.1" y="216.6"/><use href="#mx" x="424.2" y="81.4"/><use href="#mx" x="534.1" y="211.5"/><use href="#mx" x="468.2" y="123.7"/><use href="#mx" x="430.1" y="84.4"/><use href="#mx" x="572.9" y="265.3"/><use href="#mx" x="464.6" y="117.0"/><use href="#mx" x="555.9" y="238.4"/><use href="#mx" x="509.8" y="182.2"/><use href="#mx" x="595.2" y="301.7"/><use href="#mx" x="435.8" y="82.2"/><use href="#mx" x="578.5" y="276.5"/><use href="#mx" x="419.5" y="81.9"/><use href="#mx" x="587.0" y="297.6"/><use href="#mx" x="498.9" y="167.4"/><use href="#mx" x="408.3" y="73.9"/><use href="#mx" x="524.2" y="194.6"/><use href="#mx" x="412.7" y="74.9"/><use href="#mx" x="588.5" y="297.9"/><use href="#mx" x="415.6" y="78.0"/><use href="#mx" x="575.6" y="268.9"/><use href="#mx" x="448.2" y="98.3"/><use href="#mx" x="406.7" y="74.3"/><use href="#mx" x="407.3" y="78.9"/><use href="#mx" x="450.6" y="106.1"/><use href="#mx" x="413.1" y="75.2"/><use href="#mx" x="424.7" y="82.0"/><use href="#mx" x="523.5" y="196.4"/><use href="#mx" x="537.1" y="218.9"/><use href="#mx" x="602.1" y="302.8"/><use href="#mx" x="424.3" y="79.6"/><use href="#mx" x="409.0" y="85.3"/><use href="#mx" x="514.3" y="190.4"/><use href="#mx" x="477.3" y="125.4"/><use href="#mx" x="522.7" y="199.8"/><use href="#mx" x="549.6" y="230.6"/><use href="#mx" x="492.7" y="159.1"/><use href="#mx" x="437.1" y="86.7"/><use href="#mx" x="467.2" y="120.5"/><use href="#mx" x="522.5" y="196.8"/><use href="#mx" x="430.0" y="87.5"/><use href="#mx" x="598.7" y="301.3"/><use href="#mx" x="573.5" y="263.9"/><use href="#mx" x="575.5" y="270.0"/><use href="#mx" x="575.9" y="268.4"/><use href="#mx" x="397.1" y="78.3"/><use href="#mx" x="537.9" y="215.4"/><use href="#mx" x="499.3" y="164.8"/><use href="#mx" x="519.0" y="192.1"/><use href="#mx" x="581.8" y="286.3"/><use href="#mx" x="523.2" y="197.4"/><use href="#mx" x="519.7" y="196.2"/><use href="#mx" x="508.9" y="176.7"/><use href="#mx" x="499.6" y="158.5"/><use href="#mx" x="542.6" y="222.7"/><use href="#mx" x="499.1" y="165.4"/><use href="#mx" x="477.3" y="131.7"/><use href="#mx" x="528.4" y="203.3"/><use href="#mx" x="523.5" y="196.8"/><use href="#mx" x="548.6" y="231.9"/><use href="#mx" x="560.1" y="243.4"/><use href="#mx" x="560.6" y="244.0"/><use href="#mx" x="529.5" y="201.5"/><use href="#mx" x="559.8" y="240.5"/><use href="#mx" x="523.5" y="195.0"/><use href="#mx" x="582.3" y="285.4"/><use href="#mx" x="412.8" y="83.8"/><use href="#mx" x="503.4" y="172.8"/><use href="#mx" x="504.0" y="173.1"/><use href="#mx" x="401.7" y="78.4"/><use href="#mx" x="586.3" y="296.5"/><use href="#mx" x="413.2" y="83.3"/><use href="#mx" x="582.8" y="286.7"/><use href="#mx" x="584.1" y="291.9"/><use href="#mx" x="603.0" y="305.5"/><use href="#mx" x="549.2" y="231.2"/><use href="#mx" x="401.1" y="85.7"/><use href="#mx" x="580.7" y="282.4"/><use href="#mx" x="533.2" y="206.1"/><use href="#mx" x="572.7" y="264.1"/><use href="#mx" x="586.0" y="295.1"/><use href="#mx" x="458.6" y="101.9"/><use href="#mx" x="399.9" y="86.2"/><use href="#mx" x="498.1" y="166.8"/><use href="#mx" x="452.1" y="99.8"/><use href="#mx" x="565.4" y="251.1"/><use href="#mx" x="586.7" y="295.9"/><use href="#mx" x="396.8" y="73.4"/><use href="#mx" x="577.9" y="277.5"/><use href="#mx" x="533.5" y="209.5"/><use href="#mx" x="503.5" y="165.6"/><use href="#mx" x="509.2" y="176.2"/><use href="#mx" x="528.4" y="200.9"/><use href="#mx" x="434.6" y="92.0"/><use href="#mx" x="536.9" y="216.5"/><use href="#mx" x="583.2" y="292.3"/><use href="#mx" x="514.8" y="183.7"/><use href="#mx" x="484.2" y="142.7"/><use href="#mx" x="442.0" y="89.4"/><use href="#mx" x="460.5" y="105.3"/><use href="#mx" x="537.6" y="217.4"/><use href="#mx" x="584.0" y="290.7"/><use href="#mx" x="564.6" y="250.2"/><use href="#mx" x="582.5" y="284.5"/><use href="#mx" x="405.7" y="80.9"/><use href="#mx" x="557.3" y="238.6"/><use href="#mx" x="505.0" y="171.4"/><use href="#mx" x="432.7" y="83.6"/><use href="#mx" x="465.8" y="119.1"/><use href="#mx" x="404.6" y="76.4"/><use href="#mx" x="605.4" y="305.1"/><use href="#mx" x="581.5" y="284.3"/><use href="#mx" x="477.4" y="124.8"/><use href="#mx" x="555.6" y="237.1"/><use href="#mx" x="444.4" y="94.7"/><use href="#mx" x="422.7" y="87.3"/><use href="#mx" x="560.9" y="244.7"/><use href="#mx" x="393.8" y="72.3"/><use href="#mx" x="528.1" y="205.5"/><use href="#mx" x="519.7" y="192.0"/><use href="#mx" x="573.2" y="263.1"/><use href="#mx" x="405.8" y="80.9"/><use href="#mx" x="509.4" y="181.1"/><use href="#mx" x="449.3" y="100.0"/><use href="#mx" x="395.6" y="83.8"/><use href="#mx" x="396.3" y="82.0"/><use href="#mx" x="595.6" y="301.9"/><use href="#mx" x="528.2" y="205.6"/><use href="#mx" x="581.4" y="286.9"/><use href="#mx" x="413.9" y="75.1"/><use href="#mx" x="532.2" y="204.6"/><use href="#mx" x="578.6" y="274.4"/><use href="#mx" x="564.5" y="248.1"/><use href="#mx" x="483.2" y="148.6"/><use href="#mx" x="533.2" y="210.8"/><use href="#mx" x="588.2" y="296.7"/><use href="#mx" x="499.1" y="162.3"/><use href="#mx" x="484.0" y="138.6"/><use href="#mx" x="584.1" y="290.9"/><use href="#mx" x="424.9" y="86.2"/><use href="#mx" x="579.2" y="276.8"/><use href="#mx" x="399.4" y="86.9"/><use href="#mx" x="565.5" y="247.2"/><use href="#mx" x="398.0" y="73.7"/><use href="#mx" x="401.4" y="91.8"/><use href="#mx" x="475.5" y="129.2"/><use href="#mx" x="604.6" y="303.9"/><use href="#mx" x="591.7" y="299.6"/><use href="#mx" x="476.8" y="131.5"/><use href="#mx" x="542.8" y="222.0"/><use href="#mx" x="403.7" y="81.7"/><use href="#mx" x="519.0" y="188.0"/><use href="#mx" x="584.6" y="290.5"/><use href="#mx" x="515.0" y="186.3"/><use href="#mx" x="414.8" y="84.3"/><use href="#mx" x="579.5" y="276.3"/><use href="#mx" x="402.6" y="86.0"/><use href="#mx" x="550.3" y="227.7"/><use href="#mx" x="555.6" y="237.6"/><use href="#mx" x="573.7" y="264.4"/><use href="#mx" x="584.7" y="294.5"/><use href="#mx" x="450.5" y="102.8"/><use href="#mx" x="541.6" y="220.4"/><use href="#mx" x="584.2" y="289.9"/><use href="#mx" x="442.7" y="95.7"/><use href="#mx" x="404.0" y="88.7"/><use href="#mx" x="528.9" y="201.7"/><use href="#mx" x="444.7" y="93.2"/><use href="#mx" x="579.3" y="277.2"/><use href="#mx" x="550.4" y="228.8"/><use href="#mx" x="528.2" y="203.8"/><use href="#mx" x="533.0" y="203.2"/><use href="#mx" x="532.7" y="210.2"/><use href="#mx" x="394.2" y="78.1"/><use href="#mx" x="412.1" y="76.0"/><use href="#mx" x="592.2" y="299.1"/><use href="#mx" x="528.9" y="201.6"/><use href="#mx" x="560.4" y="242.0"/><use href="#mx" x="414.7" y="85.7"/><use href="#mx" x="603.1" y="305.1"/><use href="#mx" x="573.8" y="265.7"/><use href="#mx" x="560.1" y="241.8"/><use href="#mx" x="561.2" y="243.5"/><use href="#mx" x="524.0" y="198.6"/><use href="#mx" x="424.7" y="80.1"/><use href="#mx" x="505.0" y="174.7"/><use href="#mx" x="538.0" y="216.3"/><use href="#mx" x="420.2" y="79.3"/><use href="#mx" x="579.3" y="276.9"/><use href="#mx" x="573.3" y="262.3"/><use href="#mx" x="584.7" y="291.0"/><use href="#mx" x="443.4" y="88.2"/><use href="#mx" x="575.5" y="270.0"/><use href="#mx" x="413.8" y="73.0"/><use href="#mx" x="504.1" y="171.1"/><use href="#mx" x="402.8" y="82.9"/><use href="#mx" x="471.5" y="119.9"/><use href="#mx" x="561.7" y="243.3"/><use href="#mx" x="572.9" y="263.4"/><use href="#mx" x="404.0" y="89.9"/><use href="#mx" x="450.9" y="99.0"/><use href="#mx" x="509.8" y="179.4"/><use href="#mx" x="533.2" y="204.8"/><use href="#mx" x="420.3" y="80.6"/><use href="#mx" x="523.4" y="195.8"/><use href="#mx" x="555.4" y="238.0"/><use href="#mx" x="484.3" y="145.3"/><use href="#mx" x="396.2" y="82.5"/><use href="#mx" x="524.4" y="191.0"/><use href="#mx" x="575.3" y="272.5"/></g></g>
<rect x="38.3" y="80.9" width="1.4" height="1.4" fill="#a0a0a0"/><rect x="38.3" y="143.2" width="1.4" height="1.4" fill="#a0a0a0"/>
<g font-family="Liberation Sans, sans-serif" font-size="10.8" fill="#000" stroke="#000" stroke-width="0.2">
<text x="33.00" y="321.0" text-anchor="middle" textLength="16.6" lengthAdjust="spacingAndGlyphs">0.0</text><text x="78.08" y="321.0" text-anchor="middle" textLength="16.6" lengthAdjust="spacingAndGlyphs">0.2</text><text x="123.17" y="321.0" text-anchor="middle" textLength="16.6" lengthAdjust="spacingAndGlyphs">0.4</text><text x="168.25" y="321.0" text-anchor="middle" textLength="16.6" lengthAdjust="spacingAndGlyphs">0.6</text><text x="213.33" y="321.0" text-anchor="middle" textLength="16.6" lengthAdjust="spacingAndGlyphs">0.8</text><text x="258.42" y="321.0" text-anchor="middle" textLength="16.6" lengthAdjust="spacingAndGlyphs">1.0</text><text x="303.50" y="321.0" text-anchor="middle" textLength="16.6" lengthAdjust="spacingAndGlyphs">1.2</text><text x="29.3" y="310.50" text-anchor="end" textLength="6.6" lengthAdjust="spacingAndGlyphs">0</text><text x="29.3" y="250.01" text-anchor="end" textLength="6.6" lengthAdjust="spacingAndGlyphs">1</text><text x="29.3" y="189.52" text-anchor="end" textLength="6.6" lengthAdjust="spacingAndGlyphs">2</text><text x="29.3" y="129.03" text-anchor="end" textLength="6.6" lengthAdjust="spacingAndGlyphs">3</text><text x="29.3" y="68.54" text-anchor="end" textLength="6.6" lengthAdjust="spacingAndGlyphs">4</text><text x="29.3" y="8.05" text-anchor="end" textLength="6.6" lengthAdjust="spacingAndGlyphs">5</text>
<text x="359.00" y="321.0" text-anchor="middle" textLength="16.6" lengthAdjust="spacingAndGlyphs">0.0</text><text x="404.33" y="321.0" text-anchor="middle" textLength="16.6" lengthAdjust="spacingAndGlyphs">0.2</text><text x="449.67" y="321.0" text-anchor="middle" textLength="16.6" lengthAdjust="spacingAndGlyphs">0.4</text><text x="495.00" y="321.0" text-anchor="middle" textLength="16.6" lengthAdjust="spacingAndGlyphs">0.6</text><text x="540.33" y="321.0" text-anchor="middle" textLength="16.6" lengthAdjust="spacingAndGlyphs">0.8</text><text x="585.67" y="321.0" text-anchor="middle" textLength="16.6" lengthAdjust="spacingAndGlyphs">1.0</text><text x="631.00" y="321.0" text-anchor="middle" textLength="16.6" lengthAdjust="spacingAndGlyphs">1.2</text><text x="355.4" y="311.30" text-anchor="end" textLength="6.6" lengthAdjust="spacingAndGlyphs">0</text><text x="355.4" y="209.97" text-anchor="end" textLength="6.6" lengthAdjust="spacingAndGlyphs">1</text><text x="355.4" y="108.63" text-anchor="end" textLength="6.6" lengthAdjust="spacingAndGlyphs">2</text><text x="355.4" y="7.30" text-anchor="end" textLength="6.6" lengthAdjust="spacingAndGlyphs">3</text>
</g>
<g font-family="Liberation Sans, sans-serif" fill="#000" stroke="#000" stroke-width="0.2">
<text transform="translate(13.30,242.60) rotate(-90)" font-size="13.9" textLength="58.83" lengthAdjust="spacingAndGlyphs">Electron </text><text transform="translate(13.30,183.77) rotate(-90)" font-size="13.9" textLength="53.04" lengthAdjust="spacingAndGlyphs">density </text><text transform="translate(13.30,130.73) rotate(-90)" font-size="13.9" textLength="22.13" lengthAdjust="spacingAndGlyphs">[10</text><text transform="translate(6.70,108.60) rotate(-90)" font-size="9.8" textLength="11.6" lengthAdjust="spacingAndGlyphs">19</text><text transform="translate(13.30,97.00) rotate(-90)" font-size="13.9" textLength="17.3" lengthAdjust="spacingAndGlyphs"> m</text><text transform="translate(6.70,79.70) rotate(-90)" font-size="9.8" textLength="9.4" lengthAdjust="spacingAndGlyphs">-3</text><text transform="translate(13.30,70.30) rotate(-90)" font-size="13.9" textLength="5.15" lengthAdjust="spacingAndGlyphs">]</text>
<text transform="translate(338.30,252.90) rotate(-90)" font-size="13.9" textLength="59.01" lengthAdjust="spacingAndGlyphs">Electron </text><text transform="translate(338.30,193.89) rotate(-90)" font-size="13.9" textLength="88.17" lengthAdjust="spacingAndGlyphs">temperature </text><text transform="translate(338.30,105.72) rotate(-90)" font-size="13.9" textLength="35.02" lengthAdjust="spacingAndGlyphs">[keV]</text>
<text x="163.2" y="335.8" font-size="16.2">&#961;</text><text x="171.6" y="341.5" font-size="9.0" textLength="12.6" lengthAdjust="spacingAndGlyphs">pol</text>
<text x="488.8" y="335.8" font-size="16.2">&#961;</text><text x="497.2" y="341.5" font-size="9.0" textLength="12.6" lengthAdjust="spacingAndGlyphs">pol</text>
</g>
<g font-family="Liberation Sans, sans-serif" font-size="10.6">
<text x="231.5" y="33.1" fill="#ff0000" stroke="#ff0000" stroke-width="0.25" textLength="50.3" lengthAdjust="spacingAndGlyphs">Hydrogen</text>
<text x="231.4" y="50.7" fill="#0000ff" stroke="#0000ff" stroke-width="0.25" textLength="55.0" lengthAdjust="spacingAndGlyphs">Deuterium</text>
<text x="546.5" y="39.6" fill="#ff0000" stroke="#ff0000" stroke-width="0.25" textLength="50.8" lengthAdjust="spacingAndGlyphs">Hydrogen</text>
<text x="546.4" y="56.7" fill="#0000ff" stroke="#0000ff" stroke-width="0.25" textLength="54.8" lengthAdjust="spacingAndGlyphs">Deuterium</text>
</g>
</svg></body></html>
